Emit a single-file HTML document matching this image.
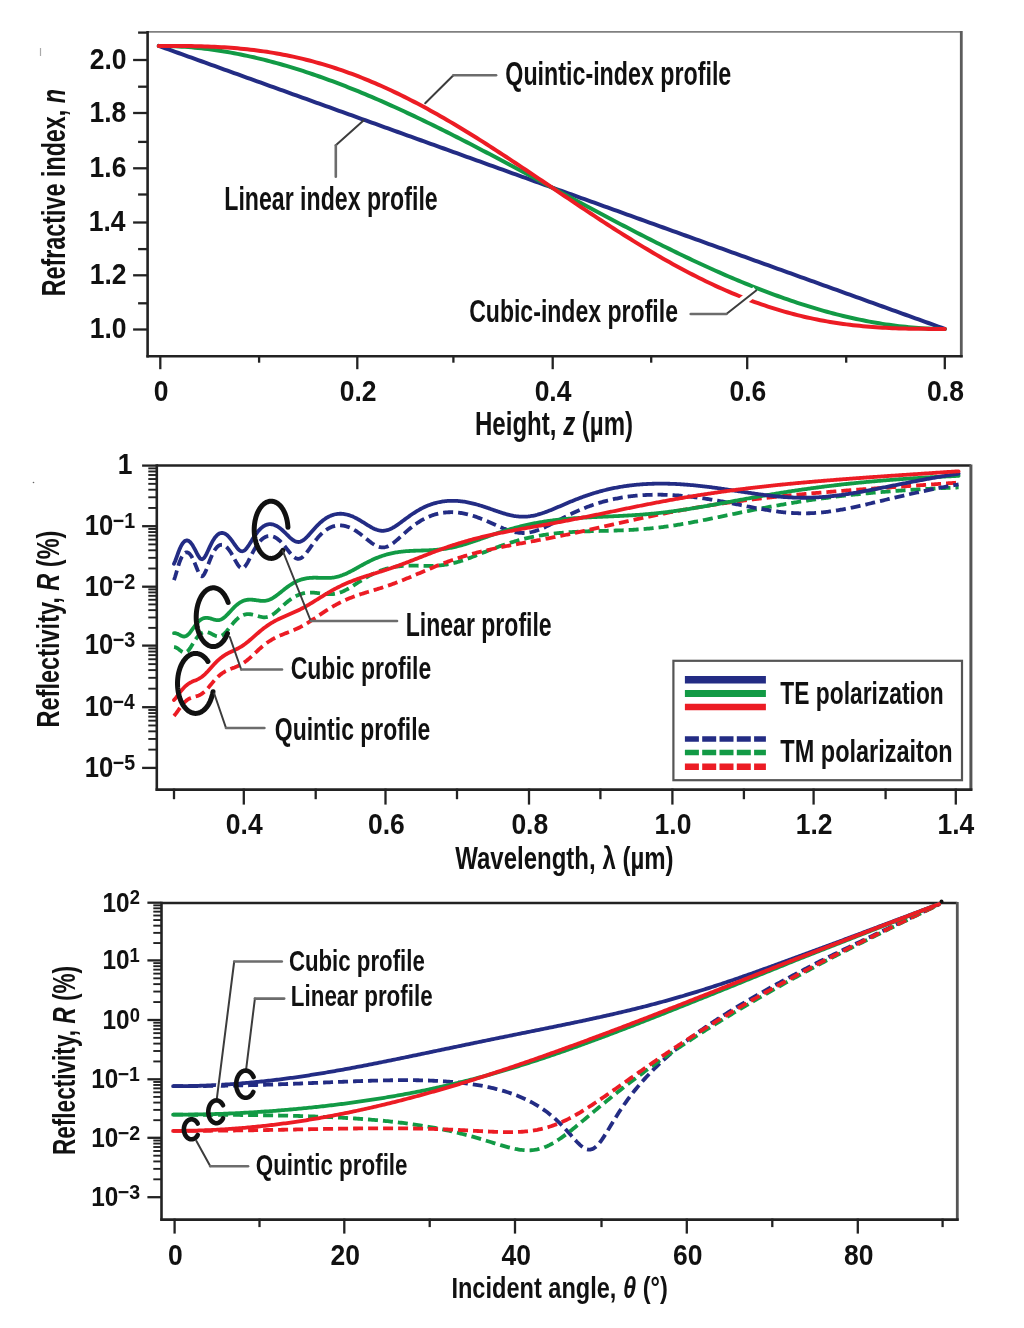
<!DOCTYPE html>
<html><head><meta charset="utf-8"><style>
html,body{margin:0;padding:0;background:#fff;width:1024px;height:1328px;overflow:hidden}
svg{display:block;filter:blur(0.5px)}
text{font-family:"Liberation Sans",sans-serif}
</style></head><body>
<svg width="1024" height="1328" viewBox="0 0 1024 1328">
<rect width="1024" height="1328" fill="#fff"/>
<line x1="147.60" y1="31.90" x2="961.30" y2="31.90" stroke="#808080" stroke-width="1.60" />
<line x1="961.30" y1="31.10" x2="961.30" y2="357.20" stroke="#5c5c5c" stroke-width="2.80" />
<line x1="147.60" y1="30.90" x2="147.60" y2="357.40" stroke="#222" stroke-width="2.60" />
<line x1="146.40" y1="356.20" x2="962.70" y2="356.20" stroke="#222" stroke-width="2.60" />
<line x1="138.10" y1="32.60" x2="147.60" y2="32.60" stroke="#222" stroke-width="2.30" />
<line x1="133.10" y1="60.00" x2="147.60" y2="60.00" stroke="#222" stroke-width="2.30" />
<line x1="138.10" y1="86.70" x2="147.60" y2="86.70" stroke="#222" stroke-width="2.30" />
<line x1="133.10" y1="113.00" x2="147.60" y2="113.00" stroke="#222" stroke-width="2.30" />
<line x1="138.10" y1="141.90" x2="147.60" y2="141.90" stroke="#222" stroke-width="2.30" />
<line x1="133.10" y1="168.30" x2="147.60" y2="168.30" stroke="#222" stroke-width="2.30" />
<line x1="138.10" y1="194.50" x2="147.60" y2="194.50" stroke="#222" stroke-width="2.30" />
<line x1="133.10" y1="222.50" x2="147.60" y2="222.50" stroke="#222" stroke-width="2.30" />
<line x1="138.10" y1="249.10" x2="147.60" y2="249.10" stroke="#222" stroke-width="2.30" />
<line x1="133.10" y1="275.30" x2="147.60" y2="275.30" stroke="#222" stroke-width="2.30" />
<line x1="138.10" y1="303.30" x2="147.60" y2="303.30" stroke="#222" stroke-width="2.30" />
<line x1="133.10" y1="329.50" x2="147.60" y2="329.50" stroke="#222" stroke-width="2.30" />
<text x="89.70" y="68.80" font-size="29.40" font-weight="bold" textLength="36.78" lengthAdjust="spacingAndGlyphs" fill="#111">2.0</text>
<text x="89.43" y="121.80" font-size="29.40" font-weight="bold" textLength="36.78" lengthAdjust="spacingAndGlyphs" fill="#111">1.8</text>
<text x="89.57" y="177.10" font-size="29.40" font-weight="bold" textLength="36.78" lengthAdjust="spacingAndGlyphs" fill="#111">1.6</text>
<text x="88.76" y="231.30" font-size="29.40" font-weight="bold" textLength="36.78" lengthAdjust="spacingAndGlyphs" fill="#111">1.4</text>
<text x="89.68" y="284.10" font-size="29.40" font-weight="bold" textLength="36.78" lengthAdjust="spacingAndGlyphs" fill="#111">1.2</text>
<text x="89.70" y="338.30" font-size="29.40" font-weight="bold" textLength="36.78" lengthAdjust="spacingAndGlyphs" fill="#111">1.0</text>
<line x1="160.30" y1="355.20" x2="160.30" y2="369.20" stroke="#222" stroke-width="2.30" />
<line x1="259.10" y1="355.20" x2="259.10" y2="362.70" stroke="#222" stroke-width="2.30" />
<line x1="357.30" y1="355.20" x2="357.30" y2="369.20" stroke="#222" stroke-width="2.30" />
<line x1="453.40" y1="355.20" x2="453.40" y2="362.70" stroke="#222" stroke-width="2.30" />
<line x1="552.70" y1="355.20" x2="552.70" y2="369.20" stroke="#222" stroke-width="2.30" />
<line x1="651.20" y1="355.20" x2="651.20" y2="362.70" stroke="#222" stroke-width="2.30" />
<line x1="747.20" y1="355.20" x2="747.20" y2="369.20" stroke="#222" stroke-width="2.30" />
<line x1="846.20" y1="355.20" x2="846.20" y2="362.70" stroke="#222" stroke-width="2.30" />
<line x1="944.80" y1="355.20" x2="944.80" y2="369.20" stroke="#222" stroke-width="2.30" />
<text x="153.76" y="400.70" font-size="29.40" font-weight="bold" textLength="14.72" lengthAdjust="spacingAndGlyphs" fill="#111">0</text>
<text x="339.71" y="400.70" font-size="29.40" font-weight="bold" textLength="36.78" lengthAdjust="spacingAndGlyphs" fill="#111">0.2</text>
<text x="534.66" y="400.70" font-size="29.40" font-weight="bold" textLength="36.78" lengthAdjust="spacingAndGlyphs" fill="#111">0.4</text>
<text x="729.56" y="400.70" font-size="29.40" font-weight="bold" textLength="36.78" lengthAdjust="spacingAndGlyphs" fill="#111">0.6</text>
<text x="927.09" y="400.70" font-size="29.40" font-weight="bold" textLength="36.78" lengthAdjust="spacingAndGlyphs" fill="#111">0.8</text>
<text x="474.99" y="434.50" font-size="32.70" font-weight="bold" textLength="158.11" lengthAdjust="spacingAndGlyphs" fill="#111">Height, <tspan font-style="italic">z</tspan> (µm)</text>
<text transform="translate(65.30,294.70) rotate(-90)" x="-1.56" y="0" font-size="33.20" font-weight="bold" textLength="207.24" lengthAdjust="spacingAndGlyphs" fill="#111">Refractive index, <tspan font-style="italic">n</tspan></text>
<path d="M158.80,45.93 L162.07,47.10 L165.35,48.28 L168.62,49.46 L171.90,50.64 L175.17,51.82 L178.45,53.00 L181.72,54.18 L185.00,55.36 L188.27,56.54 L191.55,57.72 L194.82,58.89 L198.10,60.07 L201.37,61.25 L204.65,62.43 L207.92,63.61 L211.20,64.79 L214.47,65.97 L217.75,67.15 L221.02,68.33 L224.30,69.51 L227.57,70.69 L230.85,71.86 L234.12,73.04 L237.40,74.22 L240.67,75.40 L243.95,76.58 L247.22,77.76 L250.50,78.94 L253.77,80.12 L257.05,81.30 L260.32,82.48 L263.60,83.66 L266.87,84.83 L270.15,86.01 L273.42,87.19 L276.70,88.37 L279.97,89.55 L283.25,90.73 L286.52,91.91 L289.80,93.09 L293.07,94.27 L296.35,95.45 L299.62,96.62 L302.90,97.80 L306.17,98.98 L309.45,100.16 L312.72,101.34 L316.00,102.52 L319.27,103.70 L322.55,104.88 L325.82,106.06 L329.10,107.24 L332.37,108.42 L335.65,109.59 L338.92,110.77 L342.20,111.95 L345.47,113.13 L348.75,114.31 L352.02,115.49 L355.30,116.67 L358.57,117.85 L361.84,119.03 L365.12,120.21 L368.39,121.39 L371.67,122.56 L374.94,123.74 L378.22,124.92 L381.49,126.10 L384.77,127.28 L388.04,128.46 L391.32,129.64 L394.59,130.82 L397.87,132.00 L401.14,133.18 L404.42,134.35 L407.69,135.53 L410.97,136.71 L414.24,137.89 L417.52,139.07 L420.79,140.25 L424.07,141.43 L427.34,142.61 L430.62,143.79 L433.89,144.97 L437.17,146.15 L440.44,147.32 L443.72,148.50 L446.99,149.68 L450.27,150.86 L453.54,152.04 L456.82,153.22 L460.09,154.40 L463.37,155.58 L466.64,156.76 L469.92,157.94 L473.19,159.12 L476.47,160.29 L479.74,161.47 L483.02,162.65 L486.29,163.83 L489.57,165.01 L492.84,166.19 L496.12,167.37 L499.39,168.55 L502.67,169.73 L505.94,170.91 L509.22,172.08 L512.49,173.26 L515.77,174.44 L519.04,175.62 L522.32,176.80 L525.59,177.98 L528.87,179.16 L532.14,180.34 L535.42,181.52 L538.69,182.70 L541.97,183.88 L545.24,185.05 L548.52,186.23 L551.79,187.41 L555.06,188.59 L558.34,189.77 L561.61,190.95 L564.89,192.13 L568.16,193.31 L571.44,194.49 L574.71,195.67 L577.99,196.85 L581.26,198.02 L584.54,199.20 L587.81,200.38 L591.09,201.56 L594.36,202.74 L597.64,203.92 L600.91,205.10 L604.19,206.28 L607.46,207.46 L610.74,208.64 L614.01,209.81 L617.29,210.99 L620.56,212.17 L623.84,213.35 L627.11,214.53 L630.39,215.71 L633.66,216.89 L636.94,218.07 L640.21,219.25 L643.49,220.43 L646.76,221.61 L650.04,222.78 L653.31,223.96 L656.59,225.14 L659.86,226.32 L663.14,227.50 L666.41,228.68 L669.69,229.86 L672.96,231.04 L676.24,232.22 L679.51,233.40 L682.79,234.57 L686.06,235.75 L689.34,236.93 L692.61,238.11 L695.89,239.29 L699.16,240.47 L702.44,241.65 L705.71,242.83 L708.99,244.01 L712.26,245.19 L715.54,246.37 L718.81,247.54 L722.09,248.72 L725.36,249.90 L728.64,251.08 L731.91,252.26 L735.19,253.44 L738.46,254.62 L741.74,255.80 L745.01,256.98 L748.29,258.16 L751.56,259.34 L754.83,260.51 L758.11,261.69 L761.38,262.87 L764.66,264.05 L767.93,265.23 L771.21,266.41 L774.48,267.59 L777.76,268.77 L781.03,269.95 L784.31,271.13 L787.58,272.30 L790.86,273.48 L794.13,274.66 L797.41,275.84 L800.68,277.02 L803.96,278.20 L807.23,279.38 L810.51,280.56 L813.78,281.74 L817.06,282.92 L820.33,284.10 L823.61,285.27 L826.88,286.45 L830.16,287.63 L833.43,288.81 L836.71,289.99 L839.98,291.17 L843.26,292.35 L846.53,293.53 L849.81,294.71 L853.08,295.89 L856.36,297.07 L859.63,298.24 L862.91,299.42 L866.18,300.60 L869.46,301.78 L872.73,302.96 L876.01,304.14 L879.28,305.32 L882.56,306.50 L885.83,307.68 L889.11,308.86 L892.38,310.04 L895.66,311.21 L898.93,312.39 L902.21,313.57 L905.48,314.75 L908.76,315.93 L912.03,317.11 L915.31,318.29 L918.58,319.47 L921.86,320.65 L925.13,321.83 L928.41,323.00 L931.68,324.18 L934.96,325.36 L938.23,326.54 L941.51,327.72 L944.78,328.90" fill="none" stroke="#232c84" stroke-width="4.00" stroke-linejoin="round" stroke-linecap="round"/>
<path d="M158.80,45.93 L162.07,45.94 L165.35,45.98 L168.62,46.06 L171.90,46.16 L175.17,46.29 L178.45,46.45 L181.72,46.63 L185.00,46.85 L188.27,47.09 L191.55,47.36 L194.82,47.65 L198.10,47.98 L201.37,48.33 L204.65,48.70 L207.92,49.10 L211.20,49.53 L214.47,49.98 L217.75,50.46 L221.02,50.96 L224.30,51.49 L227.57,52.05 L230.85,52.62 L234.12,53.22 L237.40,53.85 L240.67,54.50 L243.95,55.17 L247.22,55.86 L250.50,56.58 L253.77,57.32 L257.05,58.08 L260.32,58.87 L263.60,59.68 L266.87,60.50 L270.15,61.35 L273.42,62.22 L276.70,63.12 L279.97,64.03 L283.25,64.96 L286.52,65.91 L289.80,66.89 L293.07,67.88 L296.35,68.89 L299.62,69.92 L302.90,70.97 L306.17,72.04 L309.45,73.13 L312.72,74.23 L316.00,75.35 L319.27,76.50 L322.55,77.65 L325.82,78.83 L329.10,80.02 L332.37,81.23 L335.65,82.46 L338.92,83.70 L342.20,84.95 L345.47,86.23 L348.75,87.52 L352.02,88.82 L355.30,90.14 L358.57,91.47 L361.84,92.82 L365.12,94.18 L368.39,95.56 L371.67,96.95 L374.94,98.35 L378.22,99.77 L381.49,101.20 L384.77,102.64 L388.04,104.10 L391.32,105.57 L394.59,107.05 L397.87,108.54 L401.14,110.04 L404.42,111.56 L407.69,113.08 L410.97,114.62 L414.24,116.16 L417.52,117.72 L420.79,119.29 L424.07,120.87 L427.34,122.45 L430.62,124.05 L433.89,125.65 L437.17,127.27 L440.44,128.89 L443.72,130.52 L446.99,132.16 L450.27,133.81 L453.54,135.46 L456.82,137.12 L460.09,138.79 L463.37,140.47 L466.64,142.15 L469.92,143.84 L473.19,145.53 L476.47,147.23 L479.74,148.94 L483.02,150.65 L486.29,152.37 L489.57,154.09 L492.84,155.82 L496.12,157.55 L499.39,159.28 L502.67,161.02 L505.94,162.76 L509.22,164.51 L512.49,166.26 L515.77,168.01 L519.04,169.77 L522.32,171.53 L525.59,173.28 L528.87,175.05 L532.14,176.81 L535.42,178.57 L538.69,180.34 L541.97,182.11 L545.24,183.88 L548.52,185.64 L551.79,187.41 L555.06,189.18 L558.34,190.95 L561.61,192.72 L564.89,194.48 L568.16,196.25 L571.44,198.02 L574.71,199.78 L577.99,201.54 L581.26,203.30 L584.54,205.06 L587.81,206.81 L591.09,208.56 L594.36,210.31 L597.64,212.06 L600.91,213.80 L604.19,215.54 L607.46,217.28 L610.74,219.01 L614.01,220.73 L617.29,222.46 L620.56,224.17 L623.84,225.89 L627.11,227.59 L630.39,229.29 L633.66,230.99 L636.94,232.68 L640.21,234.36 L643.49,236.03 L646.76,237.70 L650.04,239.36 L653.31,241.02 L656.59,242.67 L659.86,244.30 L663.14,245.94 L666.41,247.56 L669.69,249.17 L672.96,250.78 L676.24,252.37 L679.51,253.96 L682.79,255.54 L686.06,257.10 L689.34,258.66 L692.61,260.21 L695.89,261.74 L699.16,263.27 L702.44,264.78 L705.71,266.29 L708.99,267.78 L712.26,269.26 L715.54,270.72 L718.81,272.18 L722.09,273.62 L725.36,275.05 L728.64,276.47 L731.91,277.87 L735.19,279.26 L738.46,280.64 L741.74,282.00 L745.01,283.35 L748.29,284.69 L751.56,286.00 L754.83,287.31 L758.11,288.60 L761.38,289.87 L764.66,291.13 L767.93,292.37 L771.21,293.60 L774.48,294.80 L777.76,296.00 L781.03,297.17 L784.31,298.33 L787.58,299.47 L790.86,300.59 L794.13,301.70 L797.41,302.79 L800.68,303.85 L803.96,304.90 L807.23,305.93 L810.51,306.95 L813.78,307.94 L817.06,308.91 L820.33,309.86 L823.61,310.80 L826.88,311.71 L830.16,312.60 L833.43,313.47 L836.71,314.32 L839.98,315.15 L843.26,315.96 L846.53,316.74 L849.81,317.50 L853.08,318.24 L856.36,318.96 L859.63,319.66 L862.91,320.33 L866.18,320.98 L869.46,321.60 L872.73,322.20 L876.01,322.78 L879.28,323.33 L882.56,323.86 L885.83,324.36 L889.11,324.84 L892.38,325.29 L895.66,325.72 L898.93,326.12 L902.21,326.50 L905.48,326.85 L908.76,327.17 L912.03,327.47 L915.31,327.74 L918.58,327.98 L921.86,328.19 L925.13,328.38 L928.41,328.54 L931.68,328.67 L934.96,328.77 L938.23,328.84 L941.51,328.89 L944.78,328.90" fill="none" stroke="#129a45" stroke-width="4.00" stroke-linejoin="round" stroke-linecap="round"/>
<path d="M158.80,45.93 L162.07,45.93 L165.35,45.93 L168.62,45.93 L171.90,45.94 L175.17,45.95 L178.45,45.97 L181.72,45.99 L185.00,46.02 L188.27,46.07 L191.55,46.12 L194.82,46.18 L198.10,46.25 L201.37,46.34 L204.65,46.44 L207.92,46.55 L211.20,46.68 L214.47,46.83 L217.75,46.99 L221.02,47.17 L224.30,47.36 L227.57,47.58 L230.85,47.82 L234.12,48.07 L237.40,48.35 L240.67,48.64 L243.95,48.96 L247.22,49.30 L250.50,49.67 L253.77,50.06 L257.05,50.47 L260.32,50.90 L263.60,51.36 L266.87,51.85 L270.15,52.36 L273.42,52.89 L276.70,53.46 L279.97,54.04 L283.25,54.66 L286.52,55.30 L289.80,55.97 L293.07,56.66 L296.35,57.39 L299.62,58.14 L302.90,58.92 L306.17,59.73 L309.45,60.56 L312.72,61.42 L316.00,62.31 L319.27,63.23 L322.55,64.18 L325.82,65.16 L329.10,66.16 L332.37,67.20 L335.65,68.26 L338.92,69.35 L342.20,70.47 L345.47,71.61 L348.75,72.79 L352.02,73.99 L355.30,75.22 L358.57,76.47 L361.84,77.76 L365.12,79.07 L368.39,80.41 L371.67,81.78 L374.94,83.17 L378.22,84.59 L381.49,86.03 L384.77,87.51 L388.04,89.00 L391.32,90.53 L394.59,92.07 L397.87,93.64 L401.14,95.24 L404.42,96.86 L407.69,98.51 L410.97,100.17 L414.24,101.87 L417.52,103.58 L420.79,105.31 L424.07,107.07 L427.34,108.85 L430.62,110.65 L433.89,112.47 L437.17,114.31 L440.44,116.17 L443.72,118.05 L446.99,119.95 L450.27,121.87 L453.54,123.80 L456.82,125.75 L460.09,127.72 L463.37,129.71 L466.64,131.71 L469.92,133.72 L473.19,135.75 L476.47,137.80 L479.74,139.85 L483.02,141.93 L486.29,144.01 L489.57,146.11 L492.84,148.21 L496.12,150.33 L499.39,152.46 L502.67,154.60 L505.94,156.74 L509.22,158.90 L512.49,161.06 L515.77,163.23 L519.04,165.41 L522.32,167.59 L525.59,169.78 L528.87,171.97 L532.14,174.17 L535.42,176.37 L538.69,178.58 L541.97,180.78 L545.24,182.99 L548.52,185.20 L551.79,187.41 L555.06,189.62 L558.34,191.83 L561.61,194.04 L564.89,196.25 L568.16,198.45 L571.44,200.65 L574.71,202.85 L577.99,205.05 L581.26,207.23 L584.54,209.42 L587.81,211.59 L591.09,213.77 L594.36,215.93 L597.64,218.08 L600.91,220.23 L604.19,222.37 L607.46,224.50 L610.74,226.61 L614.01,228.72 L617.29,230.82 L620.56,232.90 L623.84,234.97 L627.11,237.03 L630.39,239.07 L633.66,241.10 L636.94,243.12 L640.21,245.12 L643.49,247.10 L646.76,249.07 L650.04,251.02 L653.31,252.96 L656.59,254.87 L659.86,256.77 L663.14,258.65 L666.41,260.51 L669.69,262.35 L672.96,264.17 L676.24,265.97 L679.51,267.75 L682.79,269.51 L686.06,271.25 L689.34,272.96 L692.61,274.65 L695.89,276.32 L699.16,277.96 L702.44,279.58 L705.71,281.18 L708.99,282.75 L712.26,284.30 L715.54,285.82 L718.81,287.32 L722.09,288.79 L725.36,290.24 L728.64,291.66 L731.91,293.05 L735.19,294.41 L738.46,295.75 L741.74,297.07 L745.01,298.35 L748.29,299.61 L751.56,300.84 L754.83,302.04 L758.11,303.21 L761.38,304.36 L764.66,305.48 L767.93,306.57 L771.21,307.63 L774.48,308.66 L777.76,309.67 L781.03,310.64 L784.31,311.59 L787.58,312.51 L790.86,313.40 L794.13,314.26 L797.41,315.10 L800.68,315.91 L803.96,316.69 L807.23,317.44 L810.51,318.16 L813.78,318.86 L817.06,319.52 L820.33,320.17 L823.61,320.78 L826.88,321.37 L830.16,321.93 L833.43,322.47 L836.71,322.98 L839.98,323.46 L843.26,323.92 L846.53,324.36 L849.81,324.77 L853.08,325.16 L856.36,325.52 L859.63,325.86 L862.91,326.18 L866.18,326.48 L869.46,326.75 L872.73,327.01 L876.01,327.24 L879.28,327.46 L882.56,327.66 L885.83,327.84 L889.11,328.00 L892.38,328.14 L895.66,328.27 L898.93,328.39 L902.21,328.49 L905.48,328.57 L908.76,328.65 L912.03,328.71 L915.31,328.76 L918.58,328.80 L921.86,328.83 L925.13,328.86 L928.41,328.88 L931.68,328.89 L934.96,328.89 L938.23,328.90 L941.51,328.90 L944.78,328.90" fill="none" stroke="#ec1c24" stroke-width="4.00" stroke-linejoin="round" stroke-linecap="round"/>
<line x1="363.50" y1="120.50" x2="335.80" y2="145.20" stroke="#3c3c3c" stroke-width="2.00" stroke-linecap="round"/>
<line x1="335.80" y1="145.20" x2="335.80" y2="176.80" stroke="#6c6c6c" stroke-width="2.60" stroke-linecap="round"/>
<line x1="425.20" y1="103.30" x2="453.40" y2="75.20" stroke="#3c3c3c" stroke-width="2.00" stroke-linecap="round"/>
<line x1="453.40" y1="75.20" x2="496.10" y2="75.20" stroke="#6c6c6c" stroke-width="2.60" stroke-linecap="round"/>
<path d="M756.20,290.50 L726.40,314.00 L690.70,314.00" fill="none" stroke="#fff" stroke-width="9.00" stroke-linejoin="round" />
<line x1="756.20" y1="290.50" x2="726.40" y2="314.00" stroke="#3c3c3c" stroke-width="2.00" stroke-linecap="round"/>
<line x1="726.40" y1="314.00" x2="690.70" y2="314.00" stroke="#6c6c6c" stroke-width="2.60" stroke-linecap="round"/>
<text x="224.25" y="210.10" font-size="32.80" font-weight="bold" textLength="213.44" lengthAdjust="spacingAndGlyphs" fill="#111">Linear index profile</text>
<text x="505.35" y="85.00" font-size="32.80" font-weight="bold" textLength="225.95" lengthAdjust="spacingAndGlyphs" fill="#111">Quintic-index profile</text>
<text x="469.15" y="322.00" font-size="32.00" font-weight="bold" textLength="208.83" lengthAdjust="spacingAndGlyphs" fill="#111">Cubic-index profile</text>
<line x1="40.50" y1="48.00" x2="40.50" y2="56.00" stroke="#aaa" stroke-width="1.20" />
<circle cx="33.5" cy="482.5" r="0.8" fill="#666"/>
<line x1="156.80" y1="465.50" x2="970.90" y2="465.50" stroke="#222" stroke-width="2.50" />
<line x1="970.90" y1="464.50" x2="970.90" y2="790.60" stroke="#555" stroke-width="3.00" />
<line x1="156.80" y1="464.30" x2="156.80" y2="790.80" stroke="#222" stroke-width="2.60" />
<line x1="155.60" y1="789.60" x2="972.40" y2="789.60" stroke="#222" stroke-width="2.60" />
<line x1="142.10" y1="465.60" x2="156.80" y2="465.60" stroke="#222" stroke-width="2.30" />
<line x1="148.30" y1="507.96" x2="156.80" y2="507.96" stroke="#222" stroke-width="1.90" />
<line x1="148.30" y1="497.29" x2="156.80" y2="497.29" stroke="#222" stroke-width="1.90" />
<line x1="148.30" y1="489.72" x2="156.80" y2="489.72" stroke="#222" stroke-width="1.90" />
<line x1="148.30" y1="483.84" x2="156.80" y2="483.84" stroke="#222" stroke-width="1.90" />
<line x1="148.30" y1="479.04" x2="156.80" y2="479.04" stroke="#222" stroke-width="1.90" />
<line x1="148.30" y1="474.99" x2="156.80" y2="474.99" stroke="#222" stroke-width="1.90" />
<line x1="148.30" y1="471.47" x2="156.80" y2="471.47" stroke="#222" stroke-width="1.90" />
<line x1="148.30" y1="468.37" x2="156.80" y2="468.37" stroke="#222" stroke-width="1.90" />
<line x1="142.10" y1="526.20" x2="156.80" y2="526.20" stroke="#222" stroke-width="2.30" />
<line x1="148.30" y1="568.49" x2="156.80" y2="568.49" stroke="#222" stroke-width="1.90" />
<line x1="148.30" y1="557.83" x2="156.80" y2="557.83" stroke="#222" stroke-width="1.90" />
<line x1="148.30" y1="550.28" x2="156.80" y2="550.28" stroke="#222" stroke-width="1.90" />
<line x1="148.30" y1="544.41" x2="156.80" y2="544.41" stroke="#222" stroke-width="1.90" />
<line x1="148.30" y1="539.62" x2="156.80" y2="539.62" stroke="#222" stroke-width="1.90" />
<line x1="148.30" y1="535.57" x2="156.80" y2="535.57" stroke="#222" stroke-width="1.90" />
<line x1="148.30" y1="532.06" x2="156.80" y2="532.06" stroke="#222" stroke-width="1.90" />
<line x1="148.30" y1="528.97" x2="156.80" y2="528.97" stroke="#222" stroke-width="1.90" />
<line x1="142.10" y1="586.70" x2="156.80" y2="586.70" stroke="#222" stroke-width="2.30" />
<line x1="148.30" y1="627.87" x2="156.80" y2="627.87" stroke="#222" stroke-width="1.90" />
<line x1="148.30" y1="617.50" x2="156.80" y2="617.50" stroke="#222" stroke-width="1.90" />
<line x1="148.30" y1="610.14" x2="156.80" y2="610.14" stroke="#222" stroke-width="1.90" />
<line x1="148.30" y1="604.43" x2="156.80" y2="604.43" stroke="#222" stroke-width="1.90" />
<line x1="148.30" y1="599.77" x2="156.80" y2="599.77" stroke="#222" stroke-width="1.90" />
<line x1="148.30" y1="595.82" x2="156.80" y2="595.82" stroke="#222" stroke-width="1.90" />
<line x1="148.30" y1="592.41" x2="156.80" y2="592.41" stroke="#222" stroke-width="1.90" />
<line x1="148.30" y1="589.40" x2="156.80" y2="589.40" stroke="#222" stroke-width="1.90" />
<line x1="142.10" y1="645.60" x2="156.80" y2="645.60" stroke="#222" stroke-width="2.30" />
<line x1="148.30" y1="688.66" x2="156.80" y2="688.66" stroke="#222" stroke-width="1.90" />
<line x1="148.30" y1="677.81" x2="156.80" y2="677.81" stroke="#222" stroke-width="1.90" />
<line x1="148.30" y1="670.11" x2="156.80" y2="670.11" stroke="#222" stroke-width="1.90" />
<line x1="148.30" y1="664.14" x2="156.80" y2="664.14" stroke="#222" stroke-width="1.90" />
<line x1="148.30" y1="659.27" x2="156.80" y2="659.27" stroke="#222" stroke-width="1.90" />
<line x1="148.30" y1="655.14" x2="156.80" y2="655.14" stroke="#222" stroke-width="1.90" />
<line x1="148.30" y1="651.57" x2="156.80" y2="651.57" stroke="#222" stroke-width="1.90" />
<line x1="148.30" y1="648.42" x2="156.80" y2="648.42" stroke="#222" stroke-width="1.90" />
<line x1="142.10" y1="707.20" x2="156.80" y2="707.20" stroke="#222" stroke-width="2.30" />
<line x1="148.30" y1="749.63" x2="156.80" y2="749.63" stroke="#222" stroke-width="1.90" />
<line x1="148.30" y1="738.94" x2="156.80" y2="738.94" stroke="#222" stroke-width="1.90" />
<line x1="148.30" y1="731.35" x2="156.80" y2="731.35" stroke="#222" stroke-width="1.90" />
<line x1="148.30" y1="725.47" x2="156.80" y2="725.47" stroke="#222" stroke-width="1.90" />
<line x1="148.30" y1="720.67" x2="156.80" y2="720.67" stroke="#222" stroke-width="1.90" />
<line x1="148.30" y1="716.60" x2="156.80" y2="716.60" stroke="#222" stroke-width="1.90" />
<line x1="148.30" y1="713.08" x2="156.80" y2="713.08" stroke="#222" stroke-width="1.90" />
<line x1="148.30" y1="709.98" x2="156.80" y2="709.98" stroke="#222" stroke-width="1.90" />
<line x1="142.10" y1="767.90" x2="156.80" y2="767.90" stroke="#222" stroke-width="2.30" />
<text x="117.82" y="474.20" font-size="29.40" font-weight="bold" textLength="14.72" lengthAdjust="spacingAndGlyphs" fill="#111">1</text>
<text x="84.69" y="535.00" font-size="28.60" font-weight="bold" textLength="28.46" lengthAdjust="spacingAndGlyphs" fill="#111">10</text>
<text x="112.69" y="528.00" font-size="21.40" font-weight="bold" textLength="22.36" lengthAdjust="spacingAndGlyphs" fill="#111">−1</text>
<text x="84.69" y="595.50" font-size="28.60" font-weight="bold" textLength="28.46" lengthAdjust="spacingAndGlyphs" fill="#111">10</text>
<text x="112.68" y="588.50" font-size="21.40" font-weight="bold" textLength="22.62" lengthAdjust="spacingAndGlyphs" fill="#111">−2</text>
<text x="84.69" y="654.40" font-size="28.60" font-weight="bold" textLength="28.46" lengthAdjust="spacingAndGlyphs" fill="#111">10</text>
<text x="112.68" y="647.40" font-size="21.40" font-weight="bold" textLength="22.53" lengthAdjust="spacingAndGlyphs" fill="#111">−3</text>
<text x="84.69" y="716.00" font-size="28.60" font-weight="bold" textLength="28.46" lengthAdjust="spacingAndGlyphs" fill="#111">10</text>
<text x="112.70" y="709.00" font-size="21.40" font-weight="bold" textLength="21.90" lengthAdjust="spacingAndGlyphs" fill="#111">−4</text>
<text x="84.69" y="776.70" font-size="28.60" font-weight="bold" textLength="28.46" lengthAdjust="spacingAndGlyphs" fill="#111">10</text>
<text x="112.69" y="769.70" font-size="21.40" font-weight="bold" textLength="22.36" lengthAdjust="spacingAndGlyphs" fill="#111">−5</text>
<line x1="174.00" y1="788.60" x2="174.00" y2="799.20" stroke="#222" stroke-width="2.30" />
<line x1="243.80" y1="788.60" x2="243.80" y2="804.60" stroke="#222" stroke-width="2.30" />
<line x1="315.70" y1="788.60" x2="315.70" y2="799.20" stroke="#222" stroke-width="2.30" />
<line x1="385.50" y1="788.60" x2="385.50" y2="804.60" stroke="#222" stroke-width="2.30" />
<line x1="457.00" y1="788.60" x2="457.00" y2="799.20" stroke="#222" stroke-width="2.30" />
<line x1="529.00" y1="788.60" x2="529.00" y2="804.60" stroke="#222" stroke-width="2.30" />
<line x1="600.40" y1="788.60" x2="600.40" y2="799.20" stroke="#222" stroke-width="2.30" />
<line x1="672.40" y1="788.60" x2="672.40" y2="804.60" stroke="#222" stroke-width="2.30" />
<line x1="743.90" y1="788.60" x2="743.90" y2="799.20" stroke="#222" stroke-width="2.30" />
<line x1="813.60" y1="788.60" x2="813.60" y2="804.60" stroke="#222" stroke-width="2.30" />
<line x1="885.60" y1="788.60" x2="885.60" y2="799.20" stroke="#222" stroke-width="2.30" />
<line x1="955.80" y1="788.60" x2="955.80" y2="804.60" stroke="#222" stroke-width="2.30" />
<text x="225.86" y="834.40" font-size="29.40" font-weight="bold" textLength="36.78" lengthAdjust="spacingAndGlyphs" fill="#111">0.4</text>
<text x="367.96" y="834.40" font-size="29.40" font-weight="bold" textLength="36.78" lengthAdjust="spacingAndGlyphs" fill="#111">0.6</text>
<text x="511.39" y="834.40" font-size="29.40" font-weight="bold" textLength="36.78" lengthAdjust="spacingAndGlyphs" fill="#111">0.8</text>
<text x="654.62" y="834.40" font-size="29.40" font-weight="bold" textLength="36.78" lengthAdjust="spacingAndGlyphs" fill="#111">1.0</text>
<text x="795.80" y="834.40" font-size="29.40" font-weight="bold" textLength="36.78" lengthAdjust="spacingAndGlyphs" fill="#111">1.2</text>
<text x="937.55" y="834.40" font-size="29.40" font-weight="bold" textLength="36.78" lengthAdjust="spacingAndGlyphs" fill="#111">1.4</text>
<text x="455.18" y="868.80" font-size="31.00" font-weight="bold" textLength="218.41" lengthAdjust="spacingAndGlyphs" fill="#111">Wavelength, λ (µm)</text>
<text transform="translate(58.80,725.90) rotate(-90)" x="-1.56" y="0" font-size="31.50" font-weight="bold" textLength="196.92" lengthAdjust="spacingAndGlyphs" fill="#111">Reflectivity, <tspan font-style="italic">R</tspan> (%)</text>
<path d="M174.00,647.11 L175.12,647.23 L176.24,647.63 L177.36,648.25 L178.48,649.04 L179.60,649.92 L180.73,650.82 L181.85,651.63 L182.97,652.25 L184.09,652.60 L185.21,652.59 L186.33,652.19 L187.45,651.39 L188.57,650.23 L189.69,648.78 L190.81,647.10 L191.93,645.30 L193.05,643.46 L194.18,641.64 L195.30,639.90 L196.42,638.28 L197.54,636.82 L198.66,635.54 L199.78,634.45 L200.90,633.56 L202.02,632.87 L203.14,632.38 L204.26,632.09 L205.38,631.97 L206.51,632.02 L207.63,632.23 L208.75,632.57 L209.87,633.02 L210.99,633.54 L212.11,634.12 L213.23,634.71 L214.35,635.27 L215.47,635.77 L216.59,636.15 L217.71,636.39 L218.84,636.44 L219.96,636.29 L221.08,635.92 L222.20,635.33 L223.32,634.54 L224.44,633.56 L225.56,632.42 L226.68,631.16 L227.80,629.81 L228.92,628.41 L230.04,626.99 L231.16,625.58 L232.29,624.20 L233.41,622.87 L234.53,621.61 L235.65,620.44 L236.77,619.35 L237.89,618.36 L239.01,617.48 L240.13,616.70 L241.25,616.03 L242.37,615.46 L243.49,615.00 L244.62,614.65 L245.74,614.39 L246.86,614.22 L247.98,614.15 L249.10,614.15 L250.22,614.24 L251.34,614.39 L252.46,614.60 L253.58,614.86 L254.70,615.15 L255.82,615.48 L256.94,615.81 L258.07,616.14 L259.19,616.46 L260.31,616.74 L261.43,616.98 L262.55,617.16 L263.67,617.27 L264.79,617.29 L265.91,617.21 L267.03,617.03 L268.15,616.75 L269.27,616.36 L270.40,615.87 L271.52,615.27 L272.64,614.58 L273.76,613.80 L274.88,612.95 L276.00,612.04 L277.12,611.08 L278.24,610.08 L279.36,609.05 L280.48,608.01 L281.60,606.97 L282.72,605.93 L283.85,604.90 L284.97,603.89 L286.09,602.91 L287.21,601.96 L288.33,601.05 L289.45,600.18 L290.57,599.35 L291.69,598.57 L292.81,597.83 L293.93,597.15 L295.05,596.51 L296.18,595.92 L297.30,595.39 L298.42,594.90 L299.54,594.47 L300.66,594.08 L301.78,593.74 L302.90,593.45 L304.02,593.20 L305.14,593.00 L306.26,592.84 L307.38,592.72 L308.51,592.63 L309.63,592.59 L310.75,592.57 L311.87,592.59 L312.99,592.63 L314.11,592.70 L315.23,592.79 L316.35,592.90 L317.47,593.02 L318.59,593.16 L319.71,593.29 L320.83,593.44 L321.96,593.58 L323.08,593.71 L324.20,593.84 L325.32,593.95 L326.44,594.05 L327.56,594.12 L328.68,594.16 L329.80,594.18 L330.92,594.16 L332.04,594.10 L333.16,594.01 L334.29,593.87 L335.41,593.69 L336.53,593.47 L337.65,593.21 L338.77,592.89 L339.89,592.54 L341.01,592.14 L342.13,591.70 L343.25,591.23 L344.37,590.71 L345.49,590.16 L346.61,589.58 L347.74,588.97 L348.86,588.34 L349.98,587.68 L351.10,587.01 L352.22,586.32 L353.34,585.61 L354.46,584.90 L355.58,584.18 L356.70,583.46 L357.82,582.74 L358.94,582.02 L360.07,581.31 L361.19,580.60 L362.31,579.90 L363.43,579.21 L364.55,578.53 L365.67,577.86 L366.79,577.21 L367.91,576.57 L369.03,575.95 L370.15,575.34 L371.27,574.76 L372.39,574.19 L373.52,573.64 L374.64,573.11 L375.76,572.59 L376.88,572.10 L378.00,571.63 L379.12,571.18 L380.24,570.75 L381.36,570.33 L382.48,569.94 L383.60,569.57 L384.72,569.22 L385.85,568.88 L386.97,568.57 L388.09,568.27 L389.21,568.00 L390.33,567.74 L391.45,567.50 L392.57,567.28 L393.69,567.07 L394.81,566.88 L395.93,566.71 L397.05,566.55 L398.18,566.41 L399.30,566.28 L400.42,566.17 L401.54,566.07 L402.66,565.98 L403.78,565.91 L404.90,565.84 L406.02,565.79 L407.14,565.75 L408.26,565.72 L409.38,565.70 L410.50,565.68 L411.63,565.67 L412.75,565.67 L413.87,565.68 L414.99,565.69 L416.11,565.70 L417.23,565.72 L418.35,565.74 L419.47,565.76 L420.59,565.78 L421.71,565.80 L422.83,565.82 L423.96,565.84 L425.08,565.86 L426.20,565.87 L427.32,565.88 L428.44,565.88 L429.56,565.87 L430.68,565.86 L431.80,565.84 L432.92,565.81 L434.04,565.77 L435.16,565.72 L436.28,565.67 L437.41,565.59 L438.53,565.51 L439.65,565.42 L440.77,565.31 L441.89,565.19 L443.01,565.05 L444.13,564.90 L445.25,564.74 L446.37,564.56 L447.49,564.37 L448.61,564.17 L449.74,563.94 L450.86,563.71 L451.98,563.46 L453.10,563.20 L454.22,562.92 L455.34,562.63 L456.46,562.33 L457.58,562.01 L458.70,561.69 L459.82,561.35 L460.94,561.00 L462.06,560.64 L463.19,560.27 L464.31,559.89 L465.43,559.50 L466.55,559.10 L467.67,558.70 L468.79,558.29 L469.91,557.87 L471.03,557.44 L472.15,557.02 L473.27,556.58 L474.39,556.15 L475.52,555.71 L476.64,555.26 L477.76,554.82 L478.88,554.37 L480.00,553.92 L481.12,553.47 L482.24,553.03 L483.36,552.58 L484.48,552.13 L485.60,551.68 L486.72,551.24 L487.85,550.79 L488.97,550.35 L490.09,549.92 L491.21,549.48 L492.33,549.05 L493.45,548.62 L494.57,548.19 L495.69,547.77 L496.81,547.36 L497.93,546.94 L499.05,546.54 L500.17,546.13 L501.30,545.74 L502.42,545.34 L503.54,544.96 L504.66,544.58 L505.78,544.20 L506.90,543.83 L508.02,543.46 L509.14,543.10 L510.26,542.75 L511.38,542.40 L512.50,542.06 L513.63,541.73 L514.75,541.40 L515.87,541.08 L516.99,540.76 L518.11,540.45 L519.23,540.14 L520.35,539.84 L521.47,539.55 L522.59,539.27 L523.71,538.99 L524.83,538.71 L525.95,538.44 L527.08,538.18 L528.20,537.93 L529.32,537.68 L530.44,537.43 L531.56,537.20 L532.68,536.96 L533.80,536.74 L534.92,536.52 L536.04,536.30 L537.16,536.09 L538.28,535.89 L539.41,535.69 L540.53,535.50 L541.65,535.31 L542.77,535.13 L543.89,534.96 L545.01,534.79 L546.13,534.62 L547.25,534.46 L548.37,534.30 L549.49,534.15 L550.61,534.01 L551.74,533.86 L552.86,533.73 L553.98,533.60 L555.10,533.47 L556.22,533.34 L557.34,533.23 L558.46,533.11 L559.58,533.00 L560.70,532.89 L561.82,532.79 L562.94,532.69 L564.06,532.60 L565.19,532.51 L566.31,532.42 L567.43,532.34 L568.55,532.25 L569.67,532.18 L570.79,532.10 L571.91,532.03 L573.03,531.96 L574.15,531.90 L575.27,531.84 L576.39,531.78 L577.52,531.72 L578.64,531.66 L579.76,531.61 L580.88,531.56 L582.00,531.51 L583.12,531.47 L584.24,531.42 L585.36,531.38 L586.48,531.34 L587.60,531.30 L588.72,531.26 L589.84,531.23 L590.97,531.19 L592.09,531.16 L593.21,531.13 L594.33,531.10 L595.45,531.06 L596.57,531.03 L597.69,531.00 L598.81,530.98 L599.93,530.95 L601.05,530.92 L602.17,530.89 L603.30,530.86 L604.42,530.83 L605.54,530.80 L606.66,530.78 L607.78,530.75 L608.90,530.72 L610.02,530.69 L611.14,530.66 L612.26,530.62 L613.38,530.59 L614.50,530.56 L615.62,530.52 L616.75,530.49 L617.87,530.45 L618.99,530.41 L620.11,530.37 L621.23,530.33 L622.35,530.28 L623.47,530.24 L624.59,530.19 L625.71,530.14 L626.83,530.09 L627.95,530.03 L629.08,529.98 L630.20,529.92 L631.32,529.86 L632.44,529.80 L633.56,529.73 L634.68,529.66 L635.80,529.59 L636.92,529.52 L638.04,529.44 L639.16,529.36 L640.28,529.28 L641.41,529.20 L642.53,529.11 L643.65,529.02 L644.77,528.93 L645.89,528.83 L647.01,528.73 L648.13,528.63 L649.25,528.52 L650.37,528.42 L651.49,528.30 L652.61,528.19 L653.73,528.07 L654.86,527.95 L655.98,527.83 L657.10,527.70 L658.22,527.57 L659.34,527.44 L660.46,527.30 L661.58,527.16 L662.70,527.02 L663.82,526.87 L664.94,526.73 L666.06,526.57 L667.19,526.42 L668.31,526.26 L669.43,526.10 L670.55,525.94 L671.67,525.77 L672.79,525.61 L673.91,525.43 L675.03,525.26 L676.15,525.08 L677.27,524.91 L678.39,524.72 L679.51,524.54 L680.64,524.35 L681.76,524.17 L682.88,523.97 L684.00,523.78 L685.12,523.59 L686.24,523.39 L687.36,523.19 L688.48,522.99 L689.60,522.78 L690.72,522.58 L691.84,522.37 L692.97,522.16 L694.09,521.95 L695.21,521.74 L696.33,521.53 L697.45,521.31 L698.57,521.10 L699.69,520.88 L700.81,520.66 L701.93,520.44 L703.05,520.22 L704.17,519.99 L705.29,519.77 L706.42,519.55 L707.54,519.32 L708.66,519.09 L709.78,518.87 L710.90,518.64 L712.02,518.41 L713.14,518.18 L714.26,517.95 L715.38,517.72 L716.50,517.49 L717.62,517.26 L718.75,517.03 L719.87,516.80 L720.99,516.56 L722.11,516.33 L723.23,516.10 L724.35,515.87 L725.47,515.63 L726.59,515.40 L727.71,515.17 L728.83,514.94 L729.95,514.70 L731.08,514.47 L732.20,514.24 L733.32,514.01 L734.44,513.78 L735.56,513.55 L736.68,513.32 L737.80,513.09 L738.92,512.86 L740.04,512.63 L741.16,512.40 L742.28,512.17 L743.40,511.94 L744.53,511.71 L745.65,511.49 L746.77,511.26 L747.89,511.04 L749.01,510.81 L750.13,510.59 L751.25,510.37 L752.37,510.14 L753.49,509.92 L754.61,509.70 L755.73,509.48 L756.86,509.26 L757.98,509.05 L759.10,508.83 L760.22,508.61 L761.34,508.40 L762.46,508.18 L763.58,507.97 L764.70,507.76 L765.82,507.55 L766.94,507.34 L768.06,507.13 L769.18,506.92 L770.31,506.71 L771.43,506.51 L772.55,506.30 L773.67,506.10 L774.79,505.90 L775.91,505.70 L777.03,505.50 L778.15,505.30 L779.27,505.10 L780.39,504.90 L781.51,504.71 L782.64,504.51 L783.76,504.32 L784.88,504.13 L786.00,503.94 L787.12,503.75 L788.24,503.56 L789.36,503.37 L790.48,503.18 L791.60,503.00 L792.72,502.82 L793.84,502.63 L794.96,502.45 L796.09,502.27 L797.21,502.09 L798.33,501.92 L799.45,501.74 L800.57,501.57 L801.69,501.39 L802.81,501.22 L803.93,501.05 L805.05,500.88 L806.17,500.71 L807.29,500.54 L808.42,500.38 L809.54,500.21 L810.66,500.05 L811.78,499.88 L812.90,499.72 L814.02,499.56 L815.14,499.40 L816.26,499.25 L817.38,499.09 L818.50,498.93 L819.62,498.78 L820.75,498.63 L821.87,498.48 L822.99,498.33 L824.11,498.18 L825.23,498.03 L826.35,497.88 L827.47,497.74 L828.59,497.59 L829.71,497.45 L830.83,497.31 L831.95,497.17 L833.07,497.03 L834.20,496.89 L835.32,496.75 L836.44,496.61 L837.56,496.48 L838.68,496.34 L839.80,496.21 L840.92,496.08 L842.04,495.95 L843.16,495.82 L844.28,495.69 L845.40,495.56 L846.53,495.44 L847.65,495.31 L848.77,495.19 L849.89,495.07 L851.01,494.95 L852.13,494.83 L853.25,494.71 L854.37,494.59 L855.49,494.47 L856.61,494.35 L857.73,494.24 L858.85,494.12 L859.98,494.01 L861.10,493.90 L862.22,493.79 L863.34,493.68 L864.46,493.57 L865.58,493.46 L866.70,493.35 L867.82,493.25 L868.94,493.14 L870.06,493.04 L871.18,492.94 L872.31,492.83 L873.43,492.73 L874.55,492.63 L875.67,492.53 L876.79,492.44 L877.91,492.34 L879.03,492.24 L880.15,492.15 L881.27,492.05 L882.39,491.96 L883.51,491.87 L884.64,491.78 L885.76,491.68 L886.88,491.59 L888.00,491.51 L889.12,491.42 L890.24,491.33 L891.36,491.24 L892.48,491.16 L893.60,491.07 L894.72,490.99 L895.84,490.91 L896.96,490.83 L898.09,490.74 L899.21,490.66 L900.33,490.58 L901.45,490.50 L902.57,490.43 L903.69,490.35 L904.81,490.27 L905.93,490.20 L907.05,490.12 L908.17,490.05 L909.29,489.98 L910.42,489.90 L911.54,489.83 L912.66,489.76 L913.78,489.69 L914.90,489.62 L916.02,489.55 L917.14,489.48 L918.26,489.42 L919.38,489.35 L920.50,489.28 L921.62,489.22 L922.74,489.15 L923.87,489.09 L924.99,489.03 L926.11,488.96 L927.23,488.90 L928.35,488.84 L929.47,488.78 L930.59,488.72 L931.71,488.66 L932.83,488.60 L933.95,488.55 L935.07,488.49 L936.20,488.43 L937.32,488.38 L938.44,488.32 L939.56,488.26 L940.68,488.21 L941.80,488.16 L942.92,488.10 L944.04,488.05 L945.16,488.00 L946.28,487.95 L947.40,487.90 L948.52,487.85 L949.65,487.80 L950.77,487.75 L951.89,487.70 L953.01,487.65 L954.13,487.60 L955.25,487.56 L956.37,487.51 L957.49,487.46 L958.61,487.42" fill="none" stroke="#129a45" stroke-width="3.80" stroke-linejoin="round" stroke-dasharray="10,5" stroke-linecap="butt"/>
<path d="M174.00,715.88 L175.12,714.59 L176.24,713.15 L177.36,711.61 L178.48,710.02 L179.60,708.43 L180.73,706.87 L181.85,705.39 L182.97,704.01 L184.09,702.75 L185.21,701.62 L186.33,700.62 L187.45,699.76 L188.57,699.03 L189.69,698.42 L190.81,697.92 L191.93,697.50 L193.05,697.15 L194.18,696.83 L195.30,696.54 L196.42,696.22 L197.54,695.87 L198.66,695.46 L199.78,694.96 L200.90,694.36 L202.02,693.64 L203.14,692.81 L204.26,691.86 L205.38,690.80 L206.51,689.65 L207.63,688.42 L208.75,687.14 L209.87,685.82 L210.99,684.48 L212.11,683.15 L213.23,681.84 L214.35,680.56 L215.47,679.32 L216.59,678.14 L217.71,677.03 L218.84,675.98 L219.96,675.00 L221.08,674.10 L222.20,673.27 L223.32,672.51 L224.44,671.82 L225.56,671.18 L226.68,670.61 L227.80,670.08 L228.92,669.59 L230.04,669.14 L231.16,668.71 L232.29,668.29 L233.41,667.88 L234.53,667.47 L235.65,667.03 L236.77,666.58 L237.89,666.09 L239.01,665.56 L240.13,664.99 L241.25,664.36 L242.37,663.69 L243.49,662.96 L244.62,662.17 L245.74,661.34 L246.86,660.46 L247.98,659.53 L249.10,658.57 L250.22,657.57 L251.34,656.55 L252.46,655.51 L253.58,654.45 L254.70,653.39 L255.82,652.34 L256.94,651.28 L258.07,650.24 L259.19,649.22 L260.31,648.22 L261.43,647.24 L262.55,646.29 L263.67,645.37 L264.79,644.48 L265.91,643.62 L267.03,642.79 L268.15,642.00 L269.27,641.25 L270.40,640.53 L271.52,639.84 L272.64,639.18 L273.76,638.55 L274.88,637.96 L276.00,637.39 L277.12,636.85 L278.24,636.32 L279.36,635.83 L280.48,635.35 L281.60,634.88 L282.72,634.43 L283.85,633.99 L284.97,633.56 L286.09,633.13 L287.21,632.70 L288.33,632.27 L289.45,631.84 L290.57,631.41 L291.69,630.96 L292.81,630.51 L293.93,630.04 L295.05,629.56 L296.18,629.06 L297.30,628.55 L298.42,628.01 L299.54,627.46 L300.66,626.89 L301.78,626.30 L302.90,625.69 L304.02,625.06 L305.14,624.41 L306.26,623.75 L307.38,623.06 L308.51,622.37 L309.63,621.66 L310.75,620.94 L311.87,620.20 L312.99,619.46 L314.11,618.71 L315.23,617.96 L316.35,617.20 L317.47,616.44 L318.59,615.68 L319.71,614.92 L320.83,614.16 L321.96,613.41 L323.08,612.66 L324.20,611.92 L325.32,611.19 L326.44,610.46 L327.56,609.75 L328.68,609.04 L329.80,608.35 L330.92,607.67 L332.04,607.00 L333.16,606.34 L334.29,605.69 L335.41,605.06 L336.53,604.45 L337.65,603.84 L338.77,603.25 L339.89,602.68 L341.01,602.12 L342.13,601.57 L343.25,601.04 L344.37,600.52 L345.49,600.01 L346.61,599.51 L347.74,599.03 L348.86,598.56 L349.98,598.10 L351.10,597.66 L352.22,597.22 L353.34,596.79 L354.46,596.38 L355.58,595.97 L356.70,595.57 L357.82,595.19 L358.94,594.80 L360.07,594.43 L361.19,594.06 L362.31,593.70 L363.43,593.34 L364.55,592.99 L365.67,592.64 L366.79,592.29 L367.91,591.95 L369.03,591.61 L370.15,591.27 L371.27,590.93 L372.39,590.59 L373.52,590.25 L374.64,589.91 L375.76,589.57 L376.88,589.23 L378.00,588.88 L379.12,588.54 L380.24,588.19 L381.36,587.83 L382.48,587.47 L383.60,587.11 L384.72,586.75 L385.85,586.38 L386.97,586.00 L388.09,585.62 L389.21,585.23 L390.33,584.84 L391.45,584.45 L392.57,584.04 L393.69,583.64 L394.81,583.22 L395.93,582.81 L397.05,582.38 L398.18,581.95 L399.30,581.52 L400.42,581.08 L401.54,580.64 L402.66,580.19 L403.78,579.74 L404.90,579.29 L406.02,578.83 L407.14,578.36 L408.26,577.90 L409.38,577.43 L410.50,576.96 L411.63,576.49 L412.75,576.01 L413.87,575.53 L414.99,575.05 L416.11,574.58 L417.23,574.10 L418.35,573.61 L419.47,573.13 L420.59,572.65 L421.71,572.17 L422.83,571.69 L423.96,571.22 L425.08,570.74 L426.20,570.26 L427.32,569.79 L428.44,569.32 L429.56,568.85 L430.68,568.38 L431.80,567.92 L432.92,567.46 L434.04,567.00 L435.16,566.54 L436.28,566.09 L437.41,565.64 L438.53,565.20 L439.65,564.76 L440.77,564.32 L441.89,563.89 L443.01,563.46 L444.13,563.03 L445.25,562.61 L446.37,562.20 L447.49,561.79 L448.61,561.38 L449.74,560.98 L450.86,560.58 L451.98,560.19 L453.10,559.80 L454.22,559.41 L455.34,559.04 L456.46,558.66 L457.58,558.29 L458.70,557.93 L459.82,557.57 L460.94,557.21 L462.06,556.86 L463.19,556.52 L464.31,556.17 L465.43,555.84 L466.55,555.51 L467.67,555.18 L468.79,554.85 L469.91,554.54 L471.03,554.22 L472.15,553.91 L473.27,553.61 L474.39,553.30 L475.52,553.01 L476.64,552.71 L477.76,552.42 L478.88,552.14 L480.00,551.86 L481.12,551.58 L482.24,551.30 L483.36,551.03 L484.48,550.76 L485.60,550.50 L486.72,550.24 L487.85,549.98 L488.97,549.73 L490.09,549.48 L491.21,549.23 L492.33,548.98 L493.45,548.74 L494.57,548.50 L495.69,548.26 L496.81,548.02 L497.93,547.79 L499.05,547.56 L500.17,547.33 L501.30,547.11 L502.42,546.88 L503.54,546.66 L504.66,546.44 L505.78,546.22 L506.90,546.00 L508.02,545.79 L509.14,545.57 L510.26,545.36 L511.38,545.15 L512.50,544.94 L513.63,544.73 L514.75,544.52 L515.87,544.31 L516.99,544.10 L518.11,543.89 L519.23,543.69 L520.35,543.48 L521.47,543.28 L522.59,543.07 L523.71,542.87 L524.83,542.67 L525.95,542.46 L527.08,542.26 L528.20,542.05 L529.32,541.85 L530.44,541.65 L531.56,541.44 L532.68,541.24 L533.80,541.03 L534.92,540.83 L536.04,540.62 L537.16,540.42 L538.28,540.21 L539.41,540.00 L540.53,539.79 L541.65,539.58 L542.77,539.38 L543.89,539.17 L545.01,538.95 L546.13,538.74 L547.25,538.53 L548.37,538.32 L549.49,538.10 L550.61,537.89 L551.74,537.67 L552.86,537.45 L553.98,537.23 L555.10,537.02 L556.22,536.79 L557.34,536.57 L558.46,536.35 L559.58,536.13 L560.70,535.90 L561.82,535.68 L562.94,535.45 L564.06,535.22 L565.19,534.99 L566.31,534.76 L567.43,534.53 L568.55,534.30 L569.67,534.07 L570.79,533.83 L571.91,533.60 L573.03,533.36 L574.15,533.12 L575.27,532.89 L576.39,532.65 L577.52,532.41 L578.64,532.17 L579.76,531.92 L580.88,531.68 L582.00,531.44 L583.12,531.19 L584.24,530.95 L585.36,530.70 L586.48,530.46 L587.60,530.21 L588.72,529.96 L589.84,529.71 L590.97,529.46 L592.09,529.21 L593.21,528.96 L594.33,528.71 L595.45,528.46 L596.57,528.21 L597.69,527.96 L598.81,527.71 L599.93,527.45 L601.05,527.20 L602.17,526.95 L603.30,526.69 L604.42,526.44 L605.54,526.19 L606.66,525.93 L607.78,525.68 L608.90,525.43 L610.02,525.17 L611.14,524.92 L612.26,524.66 L613.38,524.41 L614.50,524.16 L615.62,523.90 L616.75,523.65 L617.87,523.40 L618.99,523.14 L620.11,522.89 L621.23,522.64 L622.35,522.39 L623.47,522.14 L624.59,521.89 L625.71,521.64 L626.83,521.38 L627.95,521.14 L629.08,520.89 L630.20,520.64 L631.32,520.39 L632.44,520.14 L633.56,519.90 L634.68,519.65 L635.80,519.40 L636.92,519.16 L638.04,518.91 L639.16,518.67 L640.28,518.43 L641.41,518.19 L642.53,517.95 L643.65,517.71 L644.77,517.47 L645.89,517.23 L647.01,516.99 L648.13,516.75 L649.25,516.52 L650.37,516.28 L651.49,516.05 L652.61,515.82 L653.73,515.58 L654.86,515.35 L655.98,515.12 L657.10,514.89 L658.22,514.66 L659.34,514.44 L660.46,514.21 L661.58,513.99 L662.70,513.76 L663.82,513.54 L664.94,513.32 L666.06,513.10 L667.19,512.88 L668.31,512.66 L669.43,512.44 L670.55,512.22 L671.67,512.01 L672.79,511.79 L673.91,511.58 L675.03,511.37 L676.15,511.16 L677.27,510.95 L678.39,510.74 L679.51,510.53 L680.64,510.33 L681.76,510.12 L682.88,509.92 L684.00,509.72 L685.12,509.51 L686.24,509.31 L687.36,509.11 L688.48,508.92 L689.60,508.72 L690.72,508.52 L691.84,508.33 L692.97,508.14 L694.09,507.94 L695.21,507.75 L696.33,507.56 L697.45,507.37 L698.57,507.19 L699.69,507.00 L700.81,506.81 L701.93,506.63 L703.05,506.45 L704.17,506.27 L705.29,506.09 L706.42,505.91 L707.54,505.73 L708.66,505.55 L709.78,505.37 L710.90,505.20 L712.02,505.03 L713.14,504.85 L714.26,504.68 L715.38,504.51 L716.50,504.34 L717.62,504.17 L718.75,504.01 L719.87,503.84 L720.99,503.68 L722.11,503.51 L723.23,503.35 L724.35,503.19 L725.47,503.03 L726.59,502.87 L727.71,502.71 L728.83,502.55 L729.95,502.40 L731.08,502.24 L732.20,502.09 L733.32,501.93 L734.44,501.78 L735.56,501.63 L736.68,501.48 L737.80,501.33 L738.92,501.18 L740.04,501.04 L741.16,500.89 L742.28,500.75 L743.40,500.60 L744.53,500.46 L745.65,500.32 L746.77,500.18 L747.89,500.04 L749.01,499.90 L750.13,499.76 L751.25,499.62 L752.37,499.48 L753.49,499.35 L754.61,499.21 L755.73,499.08 L756.86,498.95 L757.98,498.81 L759.10,498.68 L760.22,498.55 L761.34,498.42 L762.46,498.29 L763.58,498.17 L764.70,498.04 L765.82,497.91 L766.94,497.79 L768.06,497.66 L769.18,497.54 L770.31,497.42 L771.43,497.30 L772.55,497.17 L773.67,497.05 L774.79,496.93 L775.91,496.81 L777.03,496.70 L778.15,496.58 L779.27,496.46 L780.39,496.35 L781.51,496.23 L782.64,496.12 L783.76,496.00 L784.88,495.89 L786.00,495.78 L787.12,495.66 L788.24,495.55 L789.36,495.44 L790.48,495.33 L791.60,495.22 L792.72,495.12 L793.84,495.01 L794.96,494.90 L796.09,494.79 L797.21,494.69 L798.33,494.58 L799.45,494.48 L800.57,494.37 L801.69,494.27 L802.81,494.17 L803.93,494.06 L805.05,493.96 L806.17,493.86 L807.29,493.76 L808.42,493.66 L809.54,493.56 L810.66,493.46 L811.78,493.36 L812.90,493.26 L814.02,493.17 L815.14,493.07 L816.26,492.97 L817.38,492.88 L818.50,492.78 L819.62,492.68 L820.75,492.59 L821.87,492.50 L822.99,492.40 L824.11,492.31 L825.23,492.21 L826.35,492.12 L827.47,492.03 L828.59,491.94 L829.71,491.85 L830.83,491.76 L831.95,491.66 L833.07,491.57 L834.20,491.48 L835.32,491.40 L836.44,491.31 L837.56,491.22 L838.68,491.13 L839.80,491.04 L840.92,490.95 L842.04,490.87 L843.16,490.78 L844.28,490.69 L845.40,490.60 L846.53,490.52 L847.65,490.43 L848.77,490.35 L849.89,490.26 L851.01,490.18 L852.13,490.09 L853.25,490.01 L854.37,489.92 L855.49,489.84 L856.61,489.76 L857.73,489.67 L858.85,489.59 L859.98,489.51 L861.10,489.42 L862.22,489.34 L863.34,489.26 L864.46,489.18 L865.58,489.09 L866.70,489.01 L867.82,488.93 L868.94,488.85 L870.06,488.77 L871.18,488.69 L872.31,488.61 L873.43,488.52 L874.55,488.44 L875.67,488.36 L876.79,488.28 L877.91,488.20 L879.03,488.12 L880.15,488.04 L881.27,487.96 L882.39,487.88 L883.51,487.81 L884.64,487.73 L885.76,487.65 L886.88,487.57 L888.00,487.49 L889.12,487.41 L890.24,487.33 L891.36,487.25 L892.48,487.17 L893.60,487.09 L894.72,487.02 L895.84,486.94 L896.96,486.86 L898.09,486.78 L899.21,486.70 L900.33,486.62 L901.45,486.55 L902.57,486.47 L903.69,486.39 L904.81,486.31 L905.93,486.23 L907.05,486.16 L908.17,486.08 L909.29,486.00 L910.42,485.92 L911.54,485.84 L912.66,485.77 L913.78,485.69 L914.90,485.61 L916.02,485.53 L917.14,485.46 L918.26,485.38 L919.38,485.30 L920.50,485.22 L921.62,485.14 L922.74,485.07 L923.87,484.99 L924.99,484.91 L926.11,484.83 L927.23,484.75 L928.35,484.68 L929.47,484.60 L930.59,484.52 L931.71,484.44 L932.83,484.36 L933.95,484.29 L935.07,484.21 L936.20,484.13 L937.32,484.05 L938.44,483.97 L939.56,483.89 L940.68,483.81 L941.80,483.74 L942.92,483.66 L944.04,483.58 L945.16,483.50 L946.28,483.42 L947.40,483.34 L948.52,483.26 L949.65,483.18 L950.77,483.10 L951.89,483.03 L953.01,482.95 L954.13,482.87 L955.25,482.79 L956.37,482.71 L957.49,482.63 L958.61,482.55" fill="none" stroke="#ec1c24" stroke-width="3.80" stroke-linejoin="round" stroke-dasharray="10,5" stroke-linecap="butt"/>
<path d="M174.00,580.13 L175.12,576.77 L176.24,572.92 L177.36,569.00 L178.48,565.30 L179.60,561.97 L180.73,559.11 L181.85,556.75 L182.97,554.90 L184.09,553.55 L185.21,552.69 L186.33,552.31 L187.45,552.40 L188.57,552.95 L189.69,553.93 L190.81,555.32 L191.93,557.12 L193.05,559.27 L194.18,561.73 L195.30,564.43 L196.42,567.25 L197.54,570.04 L198.66,572.59 L199.78,574.64 L200.90,575.95 L202.02,576.33 L203.14,575.72 L204.26,574.18 L205.38,571.93 L206.51,569.20 L207.63,566.22 L208.75,563.19 L209.87,560.24 L210.99,557.47 L212.11,554.93 L213.23,552.66 L214.35,550.67 L215.47,548.97 L216.59,547.57 L217.71,546.45 L218.84,545.62 L219.96,545.06 L221.08,544.78 L222.20,544.75 L223.32,544.99 L224.44,545.47 L225.56,546.20 L226.68,547.16 L227.80,548.34 L228.92,549.74 L230.04,551.33 L231.16,553.09 L232.29,555.00 L233.41,557.01 L234.53,559.08 L235.65,561.14 L236.77,563.11 L237.89,564.90 L239.01,566.41 L240.13,567.53 L241.25,568.18 L242.37,568.30 L243.49,567.87 L244.62,566.94 L245.74,565.56 L246.86,563.82 L247.98,561.83 L249.10,559.68 L250.22,557.45 L251.34,555.21 L252.46,553.01 L253.58,550.88 L254.70,548.87 L255.82,546.99 L256.94,545.24 L258.07,543.65 L259.19,542.20 L260.31,540.91 L261.43,539.77 L262.55,538.79 L263.67,537.95 L264.79,537.27 L265.91,536.72 L267.03,536.32 L268.15,536.06 L269.27,535.94 L270.40,535.95 L271.52,536.08 L272.64,536.35 L273.76,536.74 L274.88,537.25 L276.00,537.88 L277.12,538.62 L278.24,539.48 L279.36,540.43 L280.48,541.49 L281.60,542.63 L282.72,543.86 L283.85,545.16 L284.97,546.52 L286.09,547.93 L287.21,549.36 L288.33,550.79 L289.45,552.20 L290.57,553.56 L291.69,554.83 L292.81,555.99 L293.93,557.00 L295.05,557.82 L296.18,558.42 L297.30,558.78 L298.42,558.89 L299.54,558.72 L300.66,558.30 L301.78,557.64 L302.90,556.75 L304.02,555.67 L305.14,554.44 L306.26,553.07 L307.38,551.61 L308.51,550.09 L309.63,548.53 L310.75,546.96 L311.87,545.39 L312.99,543.84 L314.11,542.33 L315.23,540.86 L316.35,539.45 L317.47,538.10 L318.59,536.81 L319.71,535.58 L320.83,534.43 L321.96,533.35 L323.08,532.33 L324.20,531.39 L325.32,530.52 L326.44,529.73 L327.56,529.00 L328.68,528.34 L329.80,527.75 L330.92,527.23 L332.04,526.78 L333.16,526.39 L334.29,526.07 L335.41,525.80 L336.53,525.61 L337.65,525.47 L338.77,525.39 L339.89,525.38 L341.01,525.42 L342.13,525.51 L343.25,525.67 L344.37,525.88 L345.49,526.14 L346.61,526.46 L347.74,526.82 L348.86,527.24 L349.98,527.70 L351.10,528.22 L352.22,528.78 L353.34,529.38 L354.46,530.03 L355.58,530.72 L356.70,531.44 L357.82,532.20 L358.94,533.00 L360.07,533.82 L361.19,534.67 L362.31,535.54 L363.43,536.43 L364.55,537.34 L365.67,538.25 L366.79,539.16 L367.91,540.06 L369.03,540.95 L370.15,541.82 L371.27,542.66 L372.39,543.47 L373.52,544.22 L374.64,544.91 L375.76,545.54 L376.88,546.10 L378.00,546.57 L379.12,546.94 L380.24,547.22 L381.36,547.39 L382.48,547.46 L383.60,547.42 L384.72,547.27 L385.85,547.01 L386.97,546.65 L388.09,546.19 L389.21,545.65 L390.33,545.01 L391.45,544.30 L392.57,543.53 L393.69,542.69 L394.81,541.81 L395.93,540.88 L397.05,539.92 L398.18,538.94 L399.30,537.94 L400.42,536.93 L401.54,535.91 L402.66,534.89 L403.78,533.87 L404.90,532.86 L406.02,531.87 L407.14,530.89 L408.26,529.92 L409.38,528.98 L410.50,528.05 L411.63,527.15 L412.75,526.28 L413.87,525.42 L414.99,524.60 L416.11,523.80 L417.23,523.03 L418.35,522.29 L419.47,521.57 L420.59,520.88 L421.71,520.22 L422.83,519.59 L423.96,518.99 L425.08,518.41 L426.20,517.86 L427.32,517.34 L428.44,516.85 L429.56,516.38 L430.68,515.94 L431.80,515.52 L432.92,515.14 L434.04,514.77 L435.16,514.44 L436.28,514.13 L437.41,513.84 L438.53,513.58 L439.65,513.34 L440.77,513.12 L441.89,512.93 L443.01,512.77 L444.13,512.62 L445.25,512.50 L446.37,512.40 L447.49,512.32 L448.61,512.27 L449.74,512.23 L450.86,512.22 L451.98,512.22 L453.10,512.25 L454.22,512.30 L455.34,512.37 L456.46,512.45 L457.58,512.56 L458.70,512.69 L459.82,512.83 L460.94,513.00 L462.06,513.18 L463.19,513.38 L464.31,513.59 L465.43,513.83 L466.55,514.08 L467.67,514.34 L468.79,514.63 L469.91,514.93 L471.03,515.24 L472.15,515.57 L473.27,515.92 L474.39,516.28 L475.52,516.65 L476.64,517.04 L477.76,517.44 L478.88,517.85 L480.00,518.27 L481.12,518.71 L482.24,519.15 L483.36,519.61 L484.48,520.07 L485.60,520.54 L486.72,521.02 L487.85,521.51 L488.97,522.00 L490.09,522.50 L491.21,523.00 L492.33,523.51 L493.45,524.01 L494.57,524.52 L495.69,525.03 L496.81,525.53 L497.93,526.03 L499.05,526.53 L500.17,527.02 L501.30,527.50 L502.42,527.97 L503.54,528.44 L504.66,528.88 L505.78,529.32 L506.90,529.74 L508.02,530.14 L509.14,530.52 L510.26,530.87 L511.38,531.21 L512.50,531.52 L513.63,531.81 L514.75,532.06 L515.87,532.29 L516.99,532.49 L518.11,532.66 L519.23,532.79 L520.35,532.89 L521.47,532.96 L522.59,532.99 L523.71,532.99 L524.83,532.95 L525.95,532.88 L527.08,532.77 L528.20,532.63 L529.32,532.46 L530.44,532.25 L531.56,532.01 L532.68,531.74 L533.80,531.45 L534.92,531.12 L536.04,530.76 L537.16,530.39 L538.28,529.98 L539.41,529.56 L540.53,529.11 L541.65,528.65 L542.77,528.16 L543.89,527.66 L545.01,527.15 L546.13,526.63 L547.25,526.09 L548.37,525.54 L549.49,524.98 L550.61,524.42 L551.74,523.85 L552.86,523.27 L553.98,522.69 L555.10,522.11 L556.22,521.53 L557.34,520.94 L558.46,520.36 L559.58,519.77 L560.70,519.19 L561.82,518.61 L562.94,518.03 L564.06,517.46 L565.19,516.89 L566.31,516.32 L567.43,515.76 L568.55,515.21 L569.67,514.66 L570.79,514.12 L571.91,513.58 L573.03,513.05 L574.15,512.53 L575.27,512.01 L576.39,511.50 L577.52,511.00 L578.64,510.50 L579.76,510.02 L580.88,509.54 L582.00,509.07 L583.12,508.61 L584.24,508.15 L585.36,507.71 L586.48,507.27 L587.60,506.84 L588.72,506.42 L589.84,506.01 L590.97,505.60 L592.09,505.20 L593.21,504.82 L594.33,504.44 L595.45,504.06 L596.57,503.70 L597.69,503.35 L598.81,503.00 L599.93,502.66 L601.05,502.33 L602.17,502.01 L603.30,501.69 L604.42,501.38 L605.54,501.08 L606.66,500.79 L607.78,500.51 L608.90,500.23 L610.02,499.96 L611.14,499.70 L612.26,499.45 L613.38,499.20 L614.50,498.96 L615.62,498.73 L616.75,498.51 L617.87,498.29 L618.99,498.08 L620.11,497.87 L621.23,497.68 L622.35,497.49 L623.47,497.31 L624.59,497.13 L625.71,496.96 L626.83,496.80 L627.95,496.64 L629.08,496.49 L630.20,496.35 L631.32,496.21 L632.44,496.08 L633.56,495.96 L634.68,495.84 L635.80,495.73 L636.92,495.63 L638.04,495.53 L639.16,495.43 L640.28,495.35 L641.41,495.26 L642.53,495.19 L643.65,495.12 L644.77,495.05 L645.89,495.00 L647.01,494.94 L648.13,494.90 L649.25,494.85 L650.37,494.82 L651.49,494.79 L652.61,494.76 L653.73,494.74 L654.86,494.72 L655.98,494.71 L657.10,494.71 L658.22,494.71 L659.34,494.71 L660.46,494.72 L661.58,494.74 L662.70,494.76 L663.82,494.78 L664.94,494.81 L666.06,494.85 L667.19,494.88 L668.31,494.93 L669.43,494.98 L670.55,495.03 L671.67,495.09 L672.79,495.15 L673.91,495.21 L675.03,495.28 L676.15,495.36 L677.27,495.44 L678.39,495.52 L679.51,495.61 L680.64,495.70 L681.76,495.79 L682.88,495.89 L684.00,496.00 L685.12,496.10 L686.24,496.22 L687.36,496.33 L688.48,496.45 L689.60,496.57 L690.72,496.70 L691.84,496.83 L692.97,496.96 L694.09,497.10 L695.21,497.24 L696.33,497.38 L697.45,497.53 L698.57,497.68 L699.69,497.83 L700.81,497.99 L701.93,498.15 L703.05,498.31 L704.17,498.48 L705.29,498.65 L706.42,498.82 L707.54,499.00 L708.66,499.17 L709.78,499.35 L710.90,499.54 L712.02,499.72 L713.14,499.91 L714.26,500.10 L715.38,500.29 L716.50,500.49 L717.62,500.68 L718.75,500.88 L719.87,501.08 L720.99,501.29 L722.11,501.49 L723.23,501.70 L724.35,501.91 L725.47,502.12 L726.59,502.33 L727.71,502.54 L728.83,502.76 L729.95,502.97 L731.08,503.19 L732.20,503.41 L733.32,503.62 L734.44,503.84 L735.56,504.06 L736.68,504.28 L737.80,504.51 L738.92,504.73 L740.04,504.95 L741.16,505.17 L742.28,505.39 L743.40,505.61 L744.53,505.83 L745.65,506.06 L746.77,506.28 L747.89,506.50 L749.01,506.71 L750.13,506.93 L751.25,507.15 L752.37,507.37 L753.49,507.58 L754.61,507.79 L755.73,508.00 L756.86,508.21 L757.98,508.42 L759.10,508.63 L760.22,508.83 L761.34,509.03 L762.46,509.23 L763.58,509.42 L764.70,509.61 L765.82,509.80 L766.94,509.99 L768.06,510.17 L769.18,510.35 L770.31,510.53 L771.43,510.70 L772.55,510.86 L773.67,511.03 L774.79,511.19 L775.91,511.34 L777.03,511.49 L778.15,511.63 L779.27,511.77 L780.39,511.91 L781.51,512.04 L782.64,512.16 L783.76,512.28 L784.88,512.39 L786.00,512.50 L787.12,512.60 L788.24,512.69 L789.36,512.78 L790.48,512.86 L791.60,512.94 L792.72,513.01 L793.84,513.07 L794.96,513.13 L796.09,513.18 L797.21,513.22 L798.33,513.26 L799.45,513.29 L800.57,513.31 L801.69,513.33 L802.81,513.33 L803.93,513.34 L805.05,513.33 L806.17,513.32 L807.29,513.30 L808.42,513.27 L809.54,513.24 L810.66,513.20 L811.78,513.15 L812.90,513.09 L814.02,513.03 L815.14,512.97 L816.26,512.89 L817.38,512.81 L818.50,512.72 L819.62,512.63 L820.75,512.52 L821.87,512.42 L822.99,512.30 L824.11,512.18 L825.23,512.05 L826.35,511.92 L827.47,511.78 L828.59,511.64 L829.71,511.49 L830.83,511.34 L831.95,511.18 L833.07,511.01 L834.20,510.84 L835.32,510.66 L836.44,510.48 L837.56,510.30 L838.68,510.11 L839.80,509.91 L840.92,509.71 L842.04,509.51 L843.16,509.30 L844.28,509.09 L845.40,508.88 L846.53,508.66 L847.65,508.44 L848.77,508.21 L849.89,507.99 L851.01,507.75 L852.13,507.52 L853.25,507.28 L854.37,507.05 L855.49,506.80 L856.61,506.56 L857.73,506.31 L858.85,506.06 L859.98,505.81 L861.10,505.56 L862.22,505.31 L863.34,505.05 L864.46,504.79 L865.58,504.54 L866.70,504.28 L867.82,504.01 L868.94,503.75 L870.06,503.49 L871.18,503.23 L872.31,502.96 L873.43,502.69 L874.55,502.43 L875.67,502.16 L876.79,501.89 L877.91,501.63 L879.03,501.36 L880.15,501.09 L881.27,500.82 L882.39,500.55 L883.51,500.29 L884.64,500.02 L885.76,499.75 L886.88,499.48 L888.00,499.21 L889.12,498.95 L890.24,498.68 L891.36,498.41 L892.48,498.15 L893.60,497.88 L894.72,497.62 L895.84,497.35 L896.96,497.09 L898.09,496.83 L899.21,496.57 L900.33,496.31 L901.45,496.05 L902.57,495.79 L903.69,495.53 L904.81,495.27 L905.93,495.01 L907.05,494.76 L908.17,494.50 L909.29,494.25 L910.42,494.00 L911.54,493.75 L912.66,493.50 L913.78,493.25 L914.90,493.00 L916.02,492.75 L917.14,492.51 L918.26,492.27 L919.38,492.02 L920.50,491.78 L921.62,491.54 L922.74,491.30 L923.87,491.07 L924.99,490.83 L926.11,490.60 L927.23,490.36 L928.35,490.13 L929.47,489.90 L930.59,489.67 L931.71,489.44 L932.83,489.22 L933.95,488.99 L935.07,488.77 L936.20,488.55 L937.32,488.33 L938.44,488.11 L939.56,487.89 L940.68,487.68 L941.80,487.46 L942.92,487.25 L944.04,487.04 L945.16,486.83 L946.28,486.62 L947.40,486.41 L948.52,486.20 L949.65,486.00 L950.77,485.80 L951.89,485.59 L953.01,485.40 L954.13,485.20 L955.25,485.00 L956.37,484.80 L957.49,484.61 L958.61,484.42" fill="none" stroke="#232c84" stroke-width="3.80" stroke-linejoin="round" stroke-dasharray="10,5" stroke-linecap="butt"/>
<path d="M174.00,633.22 L175.12,633.21 L176.24,633.42 L177.36,633.82 L178.48,634.34 L179.60,634.92 L180.73,635.50 L181.85,636.01 L182.97,636.36 L184.09,636.49 L185.21,636.35 L186.33,635.91 L187.45,635.17 L188.57,634.15 L189.69,632.90 L190.81,631.48 L191.93,629.95 L193.05,628.37 L194.18,626.80 L195.30,625.28 L196.42,623.86 L197.54,622.56 L198.66,621.41 L199.78,620.40 L200.90,619.56 L202.02,618.89 L203.14,618.38 L204.26,618.04 L205.38,617.84 L206.51,617.78 L207.63,617.84 L208.75,618.02 L209.87,618.27 L210.99,618.59 L212.11,618.94 L213.23,619.30 L214.35,619.62 L215.47,619.89 L216.59,620.07 L217.71,620.14 L218.84,620.06 L219.96,619.83 L221.08,619.44 L222.20,618.88 L223.32,618.16 L224.44,617.30 L225.56,616.32 L226.68,615.24 L227.80,614.09 L228.92,612.89 L230.04,611.67 L231.16,610.45 L232.29,609.24 L233.41,608.08 L234.53,606.96 L235.65,605.91 L236.77,604.93 L237.89,604.03 L239.01,603.21 L240.13,602.48 L241.25,601.83 L242.37,601.27 L243.49,600.80 L244.62,600.42 L245.74,600.11 L246.86,599.89 L247.98,599.73 L249.10,599.65 L250.22,599.62 L251.34,599.65 L252.46,599.73 L253.58,599.85 L254.70,599.99 L255.82,600.15 L256.94,600.32 L258.07,600.49 L259.19,600.64 L260.31,600.76 L261.43,600.85 L262.55,600.90 L263.67,600.88 L264.79,600.80 L265.91,600.65 L267.03,600.42 L268.15,600.12 L269.27,599.73 L270.40,599.27 L271.52,598.73 L272.64,598.11 L273.76,597.44 L274.88,596.70 L276.00,595.91 L277.12,595.09 L278.24,594.23 L279.36,593.34 L280.48,592.45 L281.60,591.54 L282.72,590.63 L283.85,589.74 L284.97,588.85 L286.09,587.98 L287.21,587.14 L288.33,586.32 L289.45,585.54 L290.57,584.78 L291.69,584.07 L292.81,583.39 L293.93,582.75 L295.05,582.15 L296.18,581.59 L297.30,581.07 L298.42,580.60 L299.54,580.16 L300.66,579.77 L301.78,579.41 L302.90,579.09 L304.02,578.82 L305.14,578.57 L306.26,578.36 L307.38,578.19 L308.51,578.05 L309.63,577.93 L310.75,577.84 L311.87,577.78 L312.99,577.74 L314.11,577.72 L315.23,577.72 L316.35,577.73 L317.47,577.75 L318.59,577.79 L319.71,577.82 L320.83,577.86 L321.96,577.90 L323.08,577.93 L324.20,577.96 L325.32,577.97 L326.44,577.97 L327.56,577.95 L328.68,577.92 L329.80,577.86 L330.92,577.77 L332.04,577.66 L333.16,577.52 L334.29,577.35 L335.41,577.15 L336.53,576.92 L337.65,576.65 L338.77,576.35 L339.89,576.02 L341.01,575.65 L342.13,575.26 L343.25,574.83 L344.37,574.38 L345.49,573.89 L346.61,573.39 L347.74,572.86 L348.86,572.31 L349.98,571.75 L351.10,571.16 L352.22,570.57 L353.34,569.96 L354.46,569.34 L355.58,568.72 L356.70,568.10 L357.82,567.47 L358.94,566.84 L360.07,566.21 L361.19,565.59 L362.31,564.97 L363.43,564.36 L364.55,563.75 L365.67,563.15 L366.79,562.57 L367.91,561.99 L369.03,561.43 L370.15,560.88 L371.27,560.34 L372.39,559.82 L373.52,559.31 L374.64,558.82 L375.76,558.34 L376.88,557.88 L378.00,557.44 L379.12,557.01 L380.24,556.59 L381.36,556.20 L382.48,555.81 L383.60,555.45 L384.72,555.10 L385.85,554.77 L386.97,554.45 L388.09,554.15 L389.21,553.87 L390.33,553.60 L391.45,553.35 L392.57,553.11 L393.69,552.88 L394.81,552.67 L395.93,552.47 L397.05,552.29 L398.18,552.12 L399.30,551.96 L400.42,551.81 L401.54,551.67 L402.66,551.55 L403.78,551.43 L404.90,551.33 L406.02,551.23 L407.14,551.14 L408.26,551.07 L409.38,550.99 L410.50,550.93 L411.63,550.87 L412.75,550.82 L413.87,550.77 L414.99,550.73 L416.11,550.69 L417.23,550.65 L418.35,550.61 L419.47,550.58 L420.59,550.55 L421.71,550.52 L422.83,550.48 L423.96,550.45 L425.08,550.41 L426.20,550.37 L427.32,550.33 L428.44,550.29 L429.56,550.24 L430.68,550.18 L431.80,550.12 L432.92,550.05 L434.04,549.98 L435.16,549.90 L436.28,549.81 L437.41,549.71 L438.53,549.60 L439.65,549.49 L440.77,549.36 L441.89,549.23 L443.01,549.08 L444.13,548.93 L445.25,548.76 L446.37,548.59 L447.49,548.40 L448.61,548.21 L449.74,548.00 L450.86,547.78 L451.98,547.55 L453.10,547.31 L454.22,547.06 L455.34,546.80 L456.46,546.53 L457.58,546.26 L458.70,545.97 L459.82,545.67 L460.94,545.36 L462.06,545.05 L463.19,544.73 L464.31,544.40 L465.43,544.06 L466.55,543.71 L467.67,543.36 L468.79,543.01 L469.91,542.65 L471.03,542.28 L472.15,541.91 L473.27,541.53 L474.39,541.15 L475.52,540.77 L476.64,540.38 L477.76,540.00 L478.88,539.61 L480.00,539.22 L481.12,538.82 L482.24,538.43 L483.36,538.04 L484.48,537.64 L485.60,537.25 L486.72,536.86 L487.85,536.46 L488.97,536.07 L490.09,535.68 L491.21,535.30 L492.33,534.91 L493.45,534.53 L494.57,534.15 L495.69,533.77 L496.81,533.39 L497.93,533.02 L499.05,532.65 L500.17,532.29 L501.30,531.93 L502.42,531.57 L503.54,531.21 L504.66,530.87 L505.78,530.52 L506.90,530.18 L508.02,529.84 L509.14,529.51 L510.26,529.18 L511.38,528.86 L512.50,528.54 L513.63,528.23 L514.75,527.92 L515.87,527.62 L516.99,527.32 L518.11,527.03 L519.23,526.74 L520.35,526.46 L521.47,526.18 L522.59,525.91 L523.71,525.64 L524.83,525.37 L525.95,525.12 L527.08,524.86 L528.20,524.62 L529.32,524.37 L530.44,524.14 L531.56,523.90 L532.68,523.67 L533.80,523.45 L534.92,523.23 L536.04,523.02 L537.16,522.81 L538.28,522.61 L539.41,522.41 L540.53,522.22 L541.65,522.03 L542.77,521.84 L543.89,521.66 L545.01,521.49 L546.13,521.31 L547.25,521.15 L548.37,520.98 L549.49,520.83 L550.61,520.67 L551.74,520.52 L552.86,520.37 L553.98,520.23 L555.10,520.09 L556.22,519.96 L557.34,519.83 L558.46,519.70 L559.58,519.58 L560.70,519.46 L561.82,519.34 L562.94,519.23 L564.06,519.12 L565.19,519.01 L566.31,518.91 L567.43,518.81 L568.55,518.71 L569.67,518.61 L570.79,518.52 L571.91,518.43 L573.03,518.35 L574.15,518.26 L575.27,518.18 L576.39,518.10 L577.52,518.03 L578.64,517.95 L579.76,517.88 L580.88,517.81 L582.00,517.74 L583.12,517.67 L584.24,517.61 L585.36,517.55 L586.48,517.48 L587.60,517.42 L588.72,517.37 L589.84,517.31 L590.97,517.25 L592.09,517.20 L593.21,517.14 L594.33,517.09 L595.45,517.04 L596.57,516.99 L597.69,516.94 L598.81,516.89 L599.93,516.84 L601.05,516.79 L602.17,516.74 L603.30,516.69 L604.42,516.64 L605.54,516.59 L606.66,516.55 L607.78,516.50 L608.90,516.45 L610.02,516.40 L611.14,516.35 L612.26,516.30 L613.38,516.25 L614.50,516.20 L615.62,516.15 L616.75,516.10 L617.87,516.04 L618.99,515.99 L620.11,515.93 L621.23,515.88 L622.35,515.82 L623.47,515.76 L624.59,515.70 L625.71,515.64 L626.83,515.58 L627.95,515.51 L629.08,515.45 L630.20,515.38 L631.32,515.31 L632.44,515.24 L633.56,515.17 L634.68,515.10 L635.80,515.02 L636.92,514.94 L638.04,514.86 L639.16,514.78 L640.28,514.70 L641.41,514.61 L642.53,514.52 L643.65,514.43 L644.77,514.34 L645.89,514.25 L647.01,514.15 L648.13,514.05 L649.25,513.95 L650.37,513.85 L651.49,513.74 L652.61,513.64 L653.73,513.52 L654.86,513.41 L655.98,513.30 L657.10,513.18 L658.22,513.06 L659.34,512.94 L660.46,512.82 L661.58,512.69 L662.70,512.56 L663.82,512.43 L664.94,512.30 L666.06,512.16 L667.19,512.02 L668.31,511.88 L669.43,511.74 L670.55,511.60 L671.67,511.45 L672.79,511.30 L673.91,511.15 L675.03,511.00 L676.15,510.84 L677.27,510.69 L678.39,510.53 L679.51,510.37 L680.64,510.20 L681.76,510.04 L682.88,509.87 L684.00,509.70 L685.12,509.53 L686.24,509.36 L687.36,509.19 L688.48,509.01 L689.60,508.83 L690.72,508.66 L691.84,508.48 L692.97,508.29 L694.09,508.11 L695.21,507.93 L696.33,507.74 L697.45,507.55 L698.57,507.37 L699.69,507.18 L700.81,506.98 L701.93,506.79 L703.05,506.60 L704.17,506.41 L705.29,506.21 L706.42,506.02 L707.54,505.82 L708.66,505.62 L709.78,505.42 L710.90,505.22 L712.02,505.02 L713.14,504.82 L714.26,504.62 L715.38,504.42 L716.50,504.22 L717.62,504.02 L718.75,503.81 L719.87,503.61 L720.99,503.40 L722.11,503.20 L723.23,503.00 L724.35,502.79 L725.47,502.59 L726.59,502.38 L727.71,502.18 L728.83,501.97 L729.95,501.76 L731.08,501.56 L732.20,501.35 L733.32,501.15 L734.44,500.94 L735.56,500.74 L736.68,500.53 L737.80,500.33 L738.92,500.12 L740.04,499.92 L741.16,499.71 L742.28,499.51 L743.40,499.31 L744.53,499.10 L745.65,498.90 L746.77,498.70 L747.89,498.50 L749.01,498.29 L750.13,498.09 L751.25,497.89 L752.37,497.69 L753.49,497.49 L754.61,497.29 L755.73,497.10 L756.86,496.90 L757.98,496.70 L759.10,496.50 L760.22,496.31 L761.34,496.11 L762.46,495.92 L763.58,495.73 L764.70,495.53 L765.82,495.34 L766.94,495.15 L768.06,494.96 L769.18,494.77 L770.31,494.58 L771.43,494.39 L772.55,494.20 L773.67,494.02 L774.79,493.83 L775.91,493.65 L777.03,493.46 L778.15,493.28 L779.27,493.10 L780.39,492.92 L781.51,492.74 L782.64,492.56 L783.76,492.38 L784.88,492.20 L786.00,492.02 L787.12,491.85 L788.24,491.67 L789.36,491.50 L790.48,491.33 L791.60,491.16 L792.72,490.99 L793.84,490.82 L794.96,490.65 L796.09,490.48 L797.21,490.31 L798.33,490.15 L799.45,489.98 L800.57,489.82 L801.69,489.66 L802.81,489.49 L803.93,489.33 L805.05,489.17 L806.17,489.02 L807.29,488.86 L808.42,488.70 L809.54,488.55 L810.66,488.39 L811.78,488.24 L812.90,488.09 L814.02,487.93 L815.14,487.78 L816.26,487.63 L817.38,487.49 L818.50,487.34 L819.62,487.19 L820.75,487.05 L821.87,486.90 L822.99,486.76 L824.11,486.62 L825.23,486.48 L826.35,486.34 L827.47,486.20 L828.59,486.06 L829.71,485.92 L830.83,485.79 L831.95,485.65 L833.07,485.52 L834.20,485.39 L835.32,485.25 L836.44,485.12 L837.56,484.99 L838.68,484.86 L839.80,484.74 L840.92,484.61 L842.04,484.48 L843.16,484.36 L844.28,484.23 L845.40,484.11 L846.53,483.99 L847.65,483.87 L848.77,483.75 L849.89,483.63 L851.01,483.51 L852.13,483.39 L853.25,483.28 L854.37,483.16 L855.49,483.05 L856.61,482.93 L857.73,482.82 L858.85,482.71 L859.98,482.60 L861.10,482.49 L862.22,482.38 L863.34,482.27 L864.46,482.16 L865.58,482.06 L866.70,481.95 L867.82,481.85 L868.94,481.74 L870.06,481.64 L871.18,481.54 L872.31,481.44 L873.43,481.34 L874.55,481.24 L875.67,481.14 L876.79,481.04 L877.91,480.95 L879.03,480.85 L880.15,480.76 L881.27,480.66 L882.39,480.57 L883.51,480.48 L884.64,480.39 L885.76,480.29 L886.88,480.20 L888.00,480.12 L889.12,480.03 L890.24,479.94 L891.36,479.85 L892.48,479.77 L893.60,479.68 L894.72,479.60 L895.84,479.51 L896.96,479.43 L898.09,479.35 L899.21,479.27 L900.33,479.19 L901.45,479.11 L902.57,479.03 L903.69,478.95 L904.81,478.87 L905.93,478.79 L907.05,478.72 L908.17,478.64 L909.29,478.57 L910.42,478.49 L911.54,478.42 L912.66,478.34 L913.78,478.27 L914.90,478.20 L916.02,478.13 L917.14,478.06 L918.26,477.99 L919.38,477.92 L920.50,477.85 L921.62,477.78 L922.74,477.72 L923.87,477.65 L924.99,477.58 L926.11,477.52 L927.23,477.45 L928.35,477.39 L929.47,477.33 L930.59,477.26 L931.71,477.20 L932.83,477.14 L933.95,477.08 L935.07,477.02 L936.20,476.96 L937.32,476.90 L938.44,476.84 L939.56,476.78 L940.68,476.73 L941.80,476.67 L942.92,476.61 L944.04,476.56 L945.16,476.50 L946.28,476.44 L947.40,476.39 L948.52,476.34 L949.65,476.28 L950.77,476.23 L951.89,476.18 L953.01,476.12 L954.13,476.07 L955.25,476.02 L956.37,475.97 L957.49,475.92 L958.61,475.87" fill="none" stroke="#129a45" stroke-width="3.80" stroke-linejoin="round" stroke-linecap="round"/>
<path d="M174.00,563.82 L175.12,561.27 L176.24,558.25 L177.36,555.08 L178.48,551.99 L179.60,549.16 L180.73,546.67 L181.85,544.57 L182.97,542.90 L184.09,541.66 L185.21,540.85 L186.33,540.45 L187.45,540.47 L188.57,540.89 L189.69,541.68 L190.81,542.84 L191.93,544.31 L193.05,546.08 L194.18,548.07 L195.30,550.23 L196.42,552.44 L197.54,554.58 L198.66,556.49 L199.78,558.00 L200.90,558.96 L202.02,559.23 L203.14,558.78 L204.26,557.66 L205.38,555.98 L206.51,553.88 L207.63,551.55 L208.75,549.10 L209.87,546.67 L210.99,544.34 L212.11,542.16 L213.23,540.18 L214.35,538.43 L215.47,536.91 L216.59,535.63 L217.71,534.60 L218.84,533.82 L219.96,533.28 L221.08,532.98 L222.20,532.91 L223.32,533.06 L224.44,533.44 L225.56,534.02 L226.68,534.80 L227.80,535.77 L228.92,536.92 L230.04,538.21 L231.16,539.64 L232.29,541.17 L233.41,542.77 L234.53,544.39 L235.65,545.97 L236.77,547.47 L237.89,548.81 L239.01,549.92 L240.13,550.73 L241.25,551.20 L242.37,551.28 L243.49,550.98 L244.62,550.30 L245.74,549.28 L246.86,547.97 L247.98,546.45 L249.10,544.77 L250.22,543.00 L251.34,541.18 L252.46,539.37 L253.58,537.60 L254.70,535.89 L255.82,534.27 L256.94,532.75 L258.07,531.34 L259.19,530.06 L260.31,528.90 L261.43,527.87 L262.55,526.96 L263.67,526.19 L264.79,525.55 L265.91,525.03 L267.03,524.63 L268.15,524.36 L269.27,524.21 L270.40,524.18 L271.52,524.26 L272.64,524.45 L273.76,524.75 L274.88,525.16 L276.00,525.66 L277.12,526.26 L278.24,526.96 L279.36,527.74 L280.48,528.60 L281.60,529.52 L282.72,530.51 L283.85,531.56 L284.97,532.64 L286.09,533.75 L287.21,534.86 L288.33,535.97 L289.45,537.05 L290.57,538.08 L291.69,539.04 L292.81,539.90 L293.93,540.64 L295.05,541.23 L296.18,541.67 L297.30,541.93 L298.42,542.00 L299.54,541.88 L300.66,541.58 L301.78,541.09 L302.90,540.44 L304.02,539.63 L305.14,538.70 L306.26,537.66 L307.38,536.53 L308.51,535.33 L309.63,534.09 L310.75,532.82 L311.87,531.54 L312.99,530.27 L314.11,529.00 L315.23,527.77 L316.35,526.56 L317.47,525.40 L318.59,524.28 L319.71,523.21 L320.83,522.19 L321.96,521.23 L323.08,520.32 L324.20,519.47 L325.32,518.69 L326.44,517.96 L327.56,517.29 L328.68,516.68 L329.80,516.13 L330.92,515.64 L332.04,515.21 L333.16,514.83 L334.29,514.52 L335.41,514.25 L336.53,514.05 L337.65,513.89 L338.77,513.79 L339.89,513.75 L341.01,513.75 L342.13,513.81 L343.25,513.91 L344.37,514.06 L345.49,514.26 L346.61,514.50 L347.74,514.79 L348.86,515.12 L349.98,515.50 L351.10,515.91 L352.22,516.36 L353.34,516.85 L354.46,517.37 L355.58,517.92 L356.70,518.51 L357.82,519.12 L358.94,519.76 L360.07,520.41 L361.19,521.09 L362.31,521.78 L363.43,522.48 L364.55,523.19 L365.67,523.89 L366.79,524.60 L367.91,525.29 L369.03,525.97 L370.15,526.63 L371.27,527.27 L372.39,527.87 L373.52,528.42 L374.64,528.94 L375.76,529.40 L376.88,529.80 L378.00,530.15 L379.12,530.42 L380.24,530.62 L381.36,530.74 L382.48,530.79 L383.60,530.76 L384.72,530.65 L385.85,530.46 L386.97,530.20 L388.09,529.86 L389.21,529.46 L390.33,528.99 L391.45,528.46 L392.57,527.87 L393.69,527.23 L394.81,526.56 L395.93,525.84 L397.05,525.09 L398.18,524.32 L399.30,523.52 L400.42,522.71 L401.54,521.89 L402.66,521.06 L403.78,520.22 L404.90,519.39 L406.02,518.56 L407.14,517.73 L408.26,516.92 L409.38,516.12 L410.50,515.32 L411.63,514.55 L412.75,513.79 L413.87,513.05 L414.99,512.33 L416.11,511.62 L417.23,510.94 L418.35,510.28 L419.47,509.64 L420.59,509.02 L421.71,508.43 L422.83,507.86 L423.96,507.31 L425.08,506.78 L426.20,506.28 L427.32,505.80 L428.44,505.35 L429.56,504.91 L430.68,504.50 L431.80,504.11 L432.92,503.75 L434.04,503.41 L435.16,503.09 L436.28,502.79 L437.41,502.51 L438.53,502.25 L439.65,502.02 L440.77,501.81 L441.89,501.62 L443.01,501.44 L444.13,501.29 L445.25,501.16 L446.37,501.05 L447.49,500.96 L448.61,500.89 L449.74,500.83 L450.86,500.80 L451.98,500.78 L453.10,500.78 L454.22,500.80 L455.34,500.84 L456.46,500.90 L457.58,500.97 L458.70,501.06 L459.82,501.16 L460.94,501.28 L462.06,501.42 L463.19,501.57 L464.31,501.74 L465.43,501.92 L466.55,502.12 L467.67,502.33 L468.79,502.55 L469.91,502.79 L471.03,503.04 L472.15,503.30 L473.27,503.58 L474.39,503.86 L475.52,504.16 L476.64,504.47 L477.76,504.79 L478.88,505.12 L480.00,505.45 L481.12,505.80 L482.24,506.15 L483.36,506.51 L484.48,506.88 L485.60,507.26 L486.72,507.64 L487.85,508.02 L488.97,508.41 L490.09,508.80 L491.21,509.19 L492.33,509.58 L493.45,509.97 L494.57,510.36 L495.69,510.75 L496.81,511.14 L497.93,511.53 L499.05,511.90 L500.17,512.28 L501.30,512.64 L502.42,513.00 L503.54,513.34 L504.66,513.68 L505.78,514.00 L506.90,514.31 L508.02,514.61 L509.14,514.89 L510.26,515.16 L511.38,515.40 L512.50,515.63 L513.63,515.84 L514.75,516.02 L515.87,516.19 L516.99,516.33 L518.11,516.45 L519.23,516.55 L520.35,516.62 L521.47,516.67 L522.59,516.69 L523.71,516.69 L524.83,516.66 L525.95,516.61 L527.08,516.53 L528.20,516.43 L529.32,516.30 L530.44,516.15 L531.56,515.97 L532.68,515.77 L533.80,515.55 L534.92,515.31 L536.04,515.04 L537.16,514.76 L538.28,514.45 L539.41,514.13 L540.53,513.79 L541.65,513.44 L542.77,513.07 L543.89,512.68 L545.01,512.29 L546.13,511.88 L547.25,511.46 L548.37,511.03 L549.49,510.59 L550.61,510.14 L551.74,509.68 L552.86,509.22 L553.98,508.76 L555.10,508.29 L556.22,507.81 L557.34,507.34 L558.46,506.86 L559.58,506.38 L560.70,505.89 L561.82,505.41 L562.94,504.93 L564.06,504.45 L565.19,503.97 L566.31,503.49 L567.43,503.02 L568.55,502.55 L569.67,502.08 L570.79,501.61 L571.91,501.15 L573.03,500.69 L574.15,500.24 L575.27,499.79 L576.39,499.35 L577.52,498.91 L578.64,498.48 L579.76,498.05 L580.88,497.63 L582.00,497.21 L583.12,496.80 L584.24,496.40 L585.36,496.00 L586.48,495.61 L587.60,495.22 L588.72,494.84 L589.84,494.47 L590.97,494.11 L592.09,493.75 L593.21,493.40 L594.33,493.05 L595.45,492.71 L596.57,492.38 L597.69,492.06 L598.81,491.74 L599.93,491.43 L601.05,491.12 L602.17,490.82 L603.30,490.53 L604.42,490.25 L605.54,489.97 L606.66,489.70 L607.78,489.43 L608.90,489.17 L610.02,488.92 L611.14,488.68 L612.26,488.44 L613.38,488.20 L614.50,487.98 L615.62,487.76 L616.75,487.55 L617.87,487.34 L618.99,487.14 L620.11,486.94 L621.23,486.75 L622.35,486.57 L623.47,486.39 L624.59,486.22 L625.71,486.06 L626.83,485.90 L627.95,485.75 L629.08,485.60 L630.20,485.46 L631.32,485.32 L632.44,485.19 L633.56,485.07 L634.68,484.95 L635.80,484.84 L636.92,484.73 L638.04,484.63 L639.16,484.53 L640.28,484.44 L641.41,484.35 L642.53,484.27 L643.65,484.19 L644.77,484.12 L645.89,484.06 L647.01,484.00 L648.13,483.94 L649.25,483.89 L650.37,483.84 L651.49,483.80 L652.61,483.77 L653.73,483.73 L654.86,483.71 L655.98,483.68 L657.10,483.67 L658.22,483.65 L659.34,483.64 L660.46,483.64 L661.58,483.64 L662.70,483.64 L663.82,483.65 L664.94,483.66 L666.06,483.68 L667.19,483.70 L668.31,483.73 L669.43,483.76 L670.55,483.79 L671.67,483.83 L672.79,483.87 L673.91,483.91 L675.03,483.96 L676.15,484.01 L677.27,484.07 L678.39,484.13 L679.51,484.19 L680.64,484.26 L681.76,484.33 L682.88,484.41 L684.00,484.48 L685.12,484.56 L686.24,484.65 L687.36,484.74 L688.48,484.83 L689.60,484.92 L690.72,485.02 L691.84,485.12 L692.97,485.22 L694.09,485.33 L695.21,485.44 L696.33,485.55 L697.45,485.66 L698.57,485.78 L699.69,485.90 L700.81,486.02 L701.93,486.15 L703.05,486.28 L704.17,486.41 L705.29,486.54 L706.42,486.68 L707.54,486.81 L708.66,486.95 L709.78,487.09 L710.90,487.24 L712.02,487.38 L713.14,487.53 L714.26,487.68 L715.38,487.83 L716.50,487.99 L717.62,488.14 L718.75,488.30 L719.87,488.46 L720.99,488.62 L722.11,488.78 L723.23,488.94 L724.35,489.10 L725.47,489.27 L726.59,489.43 L727.71,489.60 L728.83,489.77 L729.95,489.93 L731.08,490.10 L732.20,490.27 L733.32,490.44 L734.44,490.61 L735.56,490.78 L736.68,490.95 L737.80,491.13 L738.92,491.30 L740.04,491.47 L741.16,491.64 L742.28,491.81 L743.40,491.98 L744.53,492.15 L745.65,492.32 L746.77,492.49 L747.89,492.66 L749.01,492.83 L750.13,492.99 L751.25,493.16 L752.37,493.32 L753.49,493.48 L754.61,493.65 L755.73,493.81 L756.86,493.96 L757.98,494.12 L759.10,494.28 L760.22,494.43 L761.34,494.58 L762.46,494.73 L763.58,494.87 L764.70,495.02 L765.82,495.16 L766.94,495.30 L768.06,495.43 L769.18,495.57 L770.31,495.70 L771.43,495.82 L772.55,495.95 L773.67,496.07 L774.79,496.18 L775.91,496.30 L777.03,496.41 L778.15,496.51 L779.27,496.62 L780.39,496.72 L781.51,496.81 L782.64,496.90 L783.76,496.99 L784.88,497.07 L786.00,497.15 L787.12,497.22 L788.24,497.29 L789.36,497.35 L790.48,497.41 L791.60,497.47 L792.72,497.52 L793.84,497.56 L794.96,497.61 L796.09,497.64 L797.21,497.67 L798.33,497.70 L799.45,497.72 L800.57,497.73 L801.69,497.74 L802.81,497.75 L803.93,497.75 L805.05,497.75 L806.17,497.74 L807.29,497.72 L808.42,497.70 L809.54,497.67 L810.66,497.64 L811.78,497.61 L812.90,497.57 L814.02,497.52 L815.14,497.47 L816.26,497.41 L817.38,497.35 L818.50,497.29 L819.62,497.22 L820.75,497.14 L821.87,497.06 L822.99,496.97 L824.11,496.88 L825.23,496.79 L826.35,496.69 L827.47,496.58 L828.59,496.48 L829.71,496.36 L830.83,496.25 L831.95,496.12 L833.07,496.00 L834.20,495.87 L835.32,495.74 L836.44,495.60 L837.56,495.46 L838.68,495.31 L839.80,495.16 L840.92,495.01 L842.04,494.85 L843.16,494.69 L844.28,494.53 L845.40,494.37 L846.53,494.20 L847.65,494.03 L848.77,493.85 L849.89,493.67 L851.01,493.49 L852.13,493.31 L853.25,493.13 L854.37,492.94 L855.49,492.75 L856.61,492.55 L857.73,492.36 L858.85,492.16 L859.98,491.96 L861.10,491.76 L862.22,491.56 L863.34,491.36 L864.46,491.15 L865.58,490.94 L866.70,490.74 L867.82,490.53 L868.94,490.31 L870.06,490.10 L871.18,489.89 L872.31,489.67 L873.43,489.46 L874.55,489.24 L875.67,489.02 L876.79,488.80 L877.91,488.58 L879.03,488.36 L880.15,488.14 L881.27,487.92 L882.39,487.70 L883.51,487.48 L884.64,487.25 L885.76,487.03 L886.88,486.81 L888.00,486.58 L889.12,486.36 L890.24,486.14 L891.36,485.91 L892.48,485.69 L893.60,485.47 L894.72,485.24 L895.84,485.02 L896.96,484.80 L898.09,484.57 L899.21,484.35 L900.33,484.13 L901.45,483.91 L902.57,483.69 L903.69,483.47 L904.81,483.25 L905.93,483.03 L907.05,482.81 L908.17,482.59 L909.29,482.37 L910.42,482.15 L911.54,481.93 L912.66,481.72 L913.78,481.50 L914.90,481.29 L916.02,481.07 L917.14,480.86 L918.26,480.65 L919.38,480.44 L920.50,480.23 L921.62,480.02 L922.74,479.81 L923.87,479.60 L924.99,479.39 L926.11,479.18 L927.23,478.98 L928.35,478.77 L929.47,478.57 L930.59,478.37 L931.71,478.17 L932.83,477.97 L933.95,477.77 L935.07,477.57 L936.20,477.37 L937.32,477.17 L938.44,476.98 L939.56,476.78 L940.68,476.59 L941.80,476.40 L942.92,476.21 L944.04,476.02 L945.16,475.83 L946.28,475.64 L947.40,475.46 L948.52,475.27 L949.65,475.09 L950.77,474.90 L951.89,474.72 L953.01,474.54 L954.13,474.36 L955.25,474.18 L956.37,474.01 L957.49,473.83 L958.61,473.65" fill="none" stroke="#232c84" stroke-width="3.80" stroke-linejoin="round" stroke-linecap="round"/>
<path d="M174.00,700.00 L175.12,698.73 L176.24,697.36 L177.36,695.90 L178.48,694.41 L179.60,692.92 L180.73,691.46 L181.85,690.06 L182.97,688.74 L184.09,687.52 L185.21,686.41 L186.33,685.40 L187.45,684.50 L188.57,683.71 L189.69,683.01 L190.81,682.39 L191.93,681.84 L193.05,681.34 L194.18,680.87 L195.30,680.40 L196.42,679.92 L197.54,679.40 L198.66,678.84 L199.78,678.20 L200.90,677.49 L202.02,676.69 L203.14,675.80 L204.26,674.82 L205.38,673.77 L206.51,672.64 L207.63,671.47 L208.75,670.24 L209.87,669.00 L210.99,667.74 L212.11,666.48 L213.23,665.24 L214.35,664.03 L215.47,662.86 L216.59,661.73 L217.71,660.65 L218.84,659.62 L219.96,658.65 L221.08,657.74 L222.20,656.89 L223.32,656.09 L224.44,655.35 L225.56,654.65 L226.68,654.00 L227.80,653.38 L228.92,652.80 L230.04,652.25 L231.16,651.71 L232.29,651.18 L233.41,650.66 L234.53,650.13 L235.65,649.59 L236.77,649.04 L237.89,648.46 L239.01,647.85 L240.13,647.21 L241.25,646.53 L242.37,645.81 L243.49,645.06 L244.62,644.27 L245.74,643.44 L246.86,642.58 L247.98,641.69 L249.10,640.76 L250.22,639.82 L251.34,638.86 L252.46,637.88 L253.58,636.90 L254.70,635.91 L255.82,634.93 L256.94,633.94 L258.07,632.97 L259.19,632.01 L260.31,631.07 L261.43,630.14 L262.55,629.24 L263.67,628.36 L264.79,627.50 L265.91,626.67 L267.03,625.87 L268.15,625.09 L269.27,624.34 L270.40,623.62 L271.52,622.93 L272.64,622.26 L273.76,621.61 L274.88,620.99 L276.00,620.39 L277.12,619.82 L278.24,619.26 L279.36,618.72 L280.48,618.19 L281.60,617.68 L282.72,617.18 L283.85,616.69 L284.97,616.20 L286.09,615.73 L287.21,615.25 L288.33,614.78 L289.45,614.30 L290.57,613.82 L291.69,613.34 L292.81,612.85 L293.93,612.35 L295.05,611.84 L296.18,611.32 L297.30,610.79 L298.42,610.25 L299.54,609.70 L300.66,609.13 L301.78,608.55 L302.90,607.96 L304.02,607.35 L305.14,606.73 L306.26,606.10 L307.38,605.46 L308.51,604.80 L309.63,604.14 L310.75,603.47 L311.87,602.79 L312.99,602.10 L314.11,601.41 L315.23,600.71 L316.35,600.01 L317.47,599.31 L318.59,598.61 L319.71,597.91 L320.83,597.21 L321.96,596.51 L323.08,595.82 L324.20,595.14 L325.32,594.45 L326.44,593.78 L327.56,593.11 L328.68,592.45 L329.80,591.80 L330.92,591.16 L332.04,590.53 L333.16,589.90 L334.29,589.29 L335.41,588.69 L336.53,588.10 L337.65,587.52 L338.77,586.95 L339.89,586.40 L341.01,585.85 L342.13,585.32 L343.25,584.79 L344.37,584.28 L345.49,583.78 L346.61,583.29 L347.74,582.81 L348.86,582.34 L349.98,581.88 L351.10,581.43 L352.22,580.99 L353.34,580.56 L354.46,580.14 L355.58,579.72 L356.70,579.31 L357.82,578.91 L358.94,578.52 L360.07,578.13 L361.19,577.75 L362.31,577.37 L363.43,577.00 L364.55,576.64 L365.67,576.27 L366.79,575.91 L367.91,575.56 L369.03,575.20 L370.15,574.85 L371.27,574.50 L372.39,574.15 L373.52,573.80 L374.64,573.46 L375.76,573.11 L376.88,572.76 L378.00,572.41 L379.12,572.06 L380.24,571.71 L381.36,571.35 L382.48,571.00 L383.60,570.64 L384.72,570.28 L385.85,569.91 L386.97,569.55 L388.09,569.18 L389.21,568.80 L390.33,568.43 L391.45,568.05 L392.57,567.66 L393.69,567.28 L394.81,566.89 L395.93,566.49 L397.05,566.09 L398.18,565.69 L399.30,565.29 L400.42,564.88 L401.54,564.47 L402.66,564.05 L403.78,563.63 L404.90,563.21 L406.02,562.79 L407.14,562.36 L408.26,561.93 L409.38,561.50 L410.50,561.07 L411.63,560.64 L412.75,560.20 L413.87,559.76 L414.99,559.33 L416.11,558.89 L417.23,558.45 L418.35,558.01 L419.47,557.57 L420.59,557.13 L421.71,556.69 L422.83,556.25 L423.96,555.81 L425.08,555.37 L426.20,554.93 L427.32,554.50 L428.44,554.06 L429.56,553.63 L430.68,553.20 L431.80,552.77 L432.92,552.34 L434.04,551.92 L435.16,551.50 L436.28,551.08 L437.41,550.66 L438.53,550.25 L439.65,549.84 L440.77,549.43 L441.89,549.03 L443.01,548.62 L444.13,548.23 L445.25,547.83 L446.37,547.44 L447.49,547.05 L448.61,546.67 L449.74,546.29 L450.86,545.92 L451.98,545.54 L453.10,545.17 L454.22,544.81 L455.34,544.45 L456.46,544.09 L457.58,543.74 L458.70,543.39 L459.82,543.05 L460.94,542.70 L462.06,542.37 L463.19,542.03 L464.31,541.71 L465.43,541.38 L466.55,541.06 L467.67,540.74 L468.79,540.43 L469.91,540.12 L471.03,539.81 L472.15,539.51 L473.27,539.21 L474.39,538.91 L475.52,538.62 L476.64,538.33 L477.76,538.05 L478.88,537.77 L480.00,537.49 L481.12,537.22 L482.24,536.94 L483.36,536.68 L484.48,536.41 L485.60,536.15 L486.72,535.89 L487.85,535.63 L488.97,535.38 L490.09,535.13 L491.21,534.88 L492.33,534.64 L493.45,534.39 L494.57,534.15 L495.69,533.91 L496.81,533.68 L497.93,533.45 L499.05,533.21 L500.17,532.99 L501.30,532.76 L502.42,532.53 L503.54,532.31 L504.66,532.09 L505.78,531.87 L506.90,531.65 L508.02,531.43 L509.14,531.22 L510.26,531.00 L511.38,530.79 L512.50,530.58 L513.63,530.37 L514.75,530.16 L515.87,529.95 L516.99,529.75 L518.11,529.54 L519.23,529.34 L520.35,529.13 L521.47,528.93 L522.59,528.72 L523.71,528.52 L524.83,528.32 L525.95,528.12 L527.08,527.92 L528.20,527.71 L529.32,527.51 L530.44,527.31 L531.56,527.11 L532.68,526.91 L533.80,526.71 L534.92,526.51 L536.04,526.31 L537.16,526.11 L538.28,525.91 L539.41,525.71 L540.53,525.51 L541.65,525.31 L542.77,525.11 L543.89,524.90 L545.01,524.70 L546.13,524.50 L547.25,524.30 L548.37,524.09 L549.49,523.89 L550.61,523.68 L551.74,523.48 L552.86,523.27 L553.98,523.06 L555.10,522.86 L556.22,522.65 L557.34,522.44 L558.46,522.23 L559.58,522.02 L560.70,521.81 L561.82,521.60 L562.94,521.39 L564.06,521.18 L565.19,520.96 L566.31,520.75 L567.43,520.53 L568.55,520.32 L569.67,520.10 L570.79,519.89 L571.91,519.67 L573.03,519.45 L574.15,519.23 L575.27,519.01 L576.39,518.79 L577.52,518.57 L578.64,518.35 L579.76,518.13 L580.88,517.90 L582.00,517.68 L583.12,517.45 L584.24,517.23 L585.36,517.00 L586.48,516.78 L587.60,516.55 L588.72,516.33 L589.84,516.10 L590.97,515.87 L592.09,515.64 L593.21,515.41 L594.33,515.18 L595.45,514.95 L596.57,514.73 L597.69,514.50 L598.81,514.26 L599.93,514.03 L601.05,513.80 L602.17,513.57 L603.30,513.34 L604.42,513.11 L605.54,512.88 L606.66,512.65 L607.78,512.41 L608.90,512.18 L610.02,511.95 L611.14,511.72 L612.26,511.49 L613.38,511.25 L614.50,511.02 L615.62,510.79 L616.75,510.56 L617.87,510.33 L618.99,510.10 L620.11,509.87 L621.23,509.63 L622.35,509.40 L623.47,509.17 L624.59,508.94 L625.71,508.71 L626.83,508.48 L627.95,508.26 L629.08,508.03 L630.20,507.80 L631.32,507.57 L632.44,507.34 L633.56,507.12 L634.68,506.89 L635.80,506.66 L636.92,506.44 L638.04,506.21 L639.16,505.99 L640.28,505.76 L641.41,505.54 L642.53,505.32 L643.65,505.10 L644.77,504.87 L645.89,504.65 L647.01,504.43 L648.13,504.21 L649.25,504.00 L650.37,503.78 L651.49,503.56 L652.61,503.34 L653.73,503.13 L654.86,502.91 L655.98,502.70 L657.10,502.49 L658.22,502.27 L659.34,502.06 L660.46,501.85 L661.58,501.64 L662.70,501.43 L663.82,501.22 L664.94,501.02 L666.06,500.81 L667.19,500.61 L668.31,500.40 L669.43,500.20 L670.55,499.99 L671.67,499.79 L672.79,499.59 L673.91,499.39 L675.03,499.19 L676.15,498.99 L677.27,498.80 L678.39,498.60 L679.51,498.40 L680.64,498.21 L681.76,498.02 L682.88,497.83 L684.00,497.63 L685.12,497.44 L686.24,497.25 L687.36,497.07 L688.48,496.88 L689.60,496.69 L690.72,496.51 L691.84,496.32 L692.97,496.14 L694.09,495.96 L695.21,495.77 L696.33,495.59 L697.45,495.42 L698.57,495.24 L699.69,495.06 L700.81,494.88 L701.93,494.71 L703.05,494.53 L704.17,494.36 L705.29,494.19 L706.42,494.02 L707.54,493.85 L708.66,493.68 L709.78,493.51 L710.90,493.34 L712.02,493.17 L713.14,493.01 L714.26,492.84 L715.38,492.68 L716.50,492.52 L717.62,492.36 L718.75,492.20 L719.87,492.04 L720.99,491.88 L722.11,491.72 L723.23,491.56 L724.35,491.41 L725.47,491.25 L726.59,491.10 L727.71,490.95 L728.83,490.80 L729.95,490.64 L731.08,490.49 L732.20,490.35 L733.32,490.20 L734.44,490.05 L735.56,489.90 L736.68,489.76 L737.80,489.61 L738.92,489.47 L740.04,489.33 L741.16,489.19 L742.28,489.04 L743.40,488.90 L744.53,488.77 L745.65,488.63 L746.77,488.49 L747.89,488.35 L749.01,488.22 L750.13,488.08 L751.25,487.95 L752.37,487.82 L753.49,487.68 L754.61,487.55 L755.73,487.42 L756.86,487.29 L757.98,487.16 L759.10,487.03 L760.22,486.91 L761.34,486.78 L762.46,486.65 L763.58,486.53 L764.70,486.40 L765.82,486.28 L766.94,486.16 L768.06,486.04 L769.18,485.91 L770.31,485.79 L771.43,485.67 L772.55,485.55 L773.67,485.44 L774.79,485.32 L775.91,485.20 L777.03,485.08 L778.15,484.97 L779.27,484.85 L780.39,484.74 L781.51,484.63 L782.64,484.51 L783.76,484.40 L784.88,484.29 L786.00,484.18 L787.12,484.07 L788.24,483.96 L789.36,483.85 L790.48,483.74 L791.60,483.63 L792.72,483.53 L793.84,483.42 L794.96,483.31 L796.09,483.21 L797.21,483.10 L798.33,483.00 L799.45,482.90 L800.57,482.79 L801.69,482.69 L802.81,482.59 L803.93,482.49 L805.05,482.39 L806.17,482.29 L807.29,482.19 L808.42,482.09 L809.54,481.99 L810.66,481.89 L811.78,481.79 L812.90,481.69 L814.02,481.60 L815.14,481.50 L816.26,481.41 L817.38,481.31 L818.50,481.21 L819.62,481.12 L820.75,481.03 L821.87,480.93 L822.99,480.84 L824.11,480.75 L825.23,480.65 L826.35,480.56 L827.47,480.47 L828.59,480.38 L829.71,480.29 L830.83,480.20 L831.95,480.11 L833.07,480.02 L834.20,479.93 L835.32,479.84 L836.44,479.75 L837.56,479.67 L838.68,479.58 L839.80,479.49 L840.92,479.41 L842.04,479.32 L843.16,479.23 L844.28,479.15 L845.40,479.06 L846.53,478.98 L847.65,478.89 L848.77,478.81 L849.89,478.72 L851.01,478.64 L852.13,478.55 L853.25,478.47 L854.37,478.39 L855.49,478.30 L856.61,478.22 L857.73,478.14 L858.85,478.06 L859.98,477.98 L861.10,477.89 L862.22,477.81 L863.34,477.73 L864.46,477.65 L865.58,477.57 L866.70,477.49 L867.82,477.41 L868.94,477.33 L870.06,477.25 L871.18,477.17 L872.31,477.09 L873.43,477.01 L874.55,476.93 L875.67,476.85 L876.79,476.78 L877.91,476.70 L879.03,476.62 L880.15,476.54 L881.27,476.46 L882.39,476.39 L883.51,476.31 L884.64,476.23 L885.76,476.15 L886.88,476.08 L888.00,476.00 L889.12,475.92 L890.24,475.85 L891.36,475.77 L892.48,475.69 L893.60,475.62 L894.72,475.54 L895.84,475.46 L896.96,475.39 L898.09,475.31 L899.21,475.24 L900.33,475.16 L901.45,475.08 L902.57,475.01 L903.69,474.93 L904.81,474.86 L905.93,474.78 L907.05,474.71 L908.17,474.63 L909.29,474.56 L910.42,474.48 L911.54,474.41 L912.66,474.33 L913.78,474.26 L914.90,474.18 L916.02,474.11 L917.14,474.03 L918.26,473.96 L919.38,473.88 L920.50,473.81 L921.62,473.74 L922.74,473.66 L923.87,473.59 L924.99,473.51 L926.11,473.44 L927.23,473.36 L928.35,473.29 L929.47,473.21 L930.59,473.14 L931.71,473.07 L932.83,472.99 L933.95,472.92 L935.07,472.84 L936.20,472.77 L937.32,472.69 L938.44,472.62 L939.56,472.55 L940.68,472.47 L941.80,472.40 L942.92,472.32 L944.04,472.25 L945.16,472.17 L946.28,472.10 L947.40,472.02 L948.52,471.95 L949.65,471.88 L950.77,471.80 L951.89,471.73 L953.01,471.65 L954.13,471.58 L955.25,471.50 L956.37,471.43 L957.49,471.35 L958.61,471.28" fill="none" stroke="#ec1c24" stroke-width="3.80" stroke-linejoin="round" stroke-linecap="round"/>
<path d="M287.94,527.31 L287.78,525.18 L287.53,523.08 L287.18,521.02 L286.75,519.01 L286.23,517.06 L285.62,515.18 L284.94,513.38 L284.17,511.67 L283.33,510.07 L282.43,508.57 L281.46,507.20 L280.43,505.95 L279.35,504.84 L278.22,503.86 L277.05,503.03 L275.85,502.35 L274.63,501.83 L273.38,501.46 L272.12,501.25 L270.85,501.20 L269.59,501.31 L268.33,501.59 L267.10,502.01 L265.88,502.60 L264.69,503.34 L263.54,504.22 L262.43,505.25 L261.37,506.42 L260.36,507.72 L259.41,509.14 L258.53,510.68 L257.72,512.32 L256.99,514.07 L256.33,515.90 L255.76,517.81 L255.27,519.78 L254.87,521.82 L254.56,523.89 L254.35,526.01 L254.23,528.14 L254.20,530.28 L254.27,532.42 L254.43,534.54 L254.69,536.64 L255.04,538.70 L255.48,540.71 L256.00,542.65 L256.61,544.53 L257.31,546.32 L258.08,548.02 L258.92,549.62 L259.83,551.11 L260.80,552.48 L261.83,553.72 L262.92,554.82 L264.05,555.79 L265.22,556.61 L266.42,557.28 L267.65,557.80 L268.89,558.16 L270.15,558.36 L271.42,558.39 L272.68,558.27 L273.94,557.99 L275.18,557.56 L276.39,556.96 L277.58,556.21 L278.73,555.32 L279.84,554.28 L280.89,553.11 L281.90,551.80 L282.84,550.37" fill="none" stroke="#111" stroke-width="5.00" stroke-linejoin="round" stroke-linecap="round"/>
<path d="M228.11,602.50 L227.46,600.71 L226.73,599.01 L225.94,597.40 L225.08,595.89 L224.16,594.50 L223.19,593.22 L222.16,592.06 L221.09,591.03 L219.98,590.14 L218.84,589.38 L217.66,588.77 L216.47,588.31 L215.25,587.99 L214.03,587.83 L212.80,587.81 L211.58,587.95 L210.36,588.24 L209.16,588.67 L207.98,589.26 L206.83,589.98 L205.71,590.85 L204.64,591.85 L203.60,592.99 L202.62,594.24 L201.69,595.62 L200.82,597.11 L200.01,598.70 L199.27,600.38 L198.61,602.16 L198.02,604.01 L197.51,605.92 L197.08,607.90 L196.73,609.92 L196.47,611.98 L196.30,614.07 L196.21,616.17 L196.21,618.28 L196.30,620.39 L196.48,622.47 L196.74,624.53 L197.09,626.56 L197.52,628.53 L198.03,630.45 L198.63,632.29 L199.29,634.06 L200.03,635.75 L200.84,637.33 L201.71,638.82 L202.64,640.19 L203.63,641.45 L204.66,642.58 L205.74,643.57 L206.86,644.44 L208.02,645.16 L209.20,645.74 L210.40,646.17 L211.61,646.46 L212.84,646.59 L214.06,646.57 L215.29,646.40 L216.50,646.08 L217.69,645.61 L218.87,645.00 L220.01,644.24 L221.12,643.34 L222.19,642.31 L223.22,641.15 L224.19,639.87 L225.11,638.47 L225.96,636.96 L226.75,635.35 L227.48,633.64" fill="none" stroke="#111" stroke-width="5.00" stroke-linejoin="round" stroke-linecap="round"/>
<path d="M207.94,661.46 L206.96,660.04 L205.92,658.75 L204.82,657.58 L203.68,656.55 L202.49,655.66 L201.27,654.91 L200.02,654.31 L198.74,653.86 L197.45,653.56 L196.15,653.41 L194.85,653.43 L193.55,653.59 L192.26,653.91 L190.99,654.39 L189.74,655.01 L188.53,655.78 L187.35,656.70 L186.21,657.75 L185.12,658.94 L184.09,660.25 L183.11,661.68 L182.20,663.23 L181.36,664.88 L180.59,666.62 L179.91,668.46 L179.30,670.37 L178.77,672.34 L178.34,674.38 L177.99,676.46 L177.74,678.58 L177.57,680.72 L177.50,682.88 L177.53,685.04 L177.64,687.19 L177.86,689.32 L178.16,691.42 L178.55,693.48 L179.03,695.48 L179.60,697.43 L180.25,699.30 L180.98,701.09 L181.79,702.78 L182.66,704.38 L183.61,705.87 L184.61,707.24 L185.68,708.49 L186.79,709.61 L187.95,710.59 L189.15,711.43 L190.38,712.13 L191.64,712.67 L192.92,713.07 L194.22,713.31 L195.52,713.40 L196.82,713.33 L198.12,713.11 L199.40,712.73 L200.66,712.20 L201.90,711.52 L203.11,710.70 L204.27,709.73 L205.39,708.63 L206.46,707.40 L207.47,706.04 L208.43,704.57 L209.31,702.98 L210.13,701.30 L210.87,699.52 L211.53,697.66 L212.10,695.72 L212.59,693.72 L213.00,691.67" fill="none" stroke="#111" stroke-width="5.00" stroke-linejoin="round" stroke-linecap="round"/>
<line x1="282.80" y1="551.00" x2="310.80" y2="621.00" stroke="#3c3c3c" stroke-width="2.00" stroke-linecap="round"/>
<line x1="310.80" y1="621.00" x2="397.00" y2="621.00" stroke="#6c6c6c" stroke-width="2.60" stroke-linecap="round"/>
<line x1="229.80" y1="637.00" x2="241.20" y2="669.50" stroke="#3c3c3c" stroke-width="2.00" stroke-linecap="round"/>
<line x1="241.20" y1="669.50" x2="282.00" y2="669.50" stroke="#6c6c6c" stroke-width="2.60" stroke-linecap="round"/>
<line x1="214.20" y1="693.50" x2="226.00" y2="728.00" stroke="#3c3c3c" stroke-width="2.00" stroke-linecap="round"/>
<line x1="226.00" y1="728.00" x2="264.40" y2="728.00" stroke="#6c6c6c" stroke-width="2.60" stroke-linecap="round"/>
<text x="405.76" y="635.70" font-size="32.80" font-weight="bold" textLength="145.93" lengthAdjust="spacingAndGlyphs" fill="#111">Linear profile</text>
<text x="290.66" y="678.70" font-size="32.20" font-weight="bold" textLength="140.63" lengthAdjust="spacingAndGlyphs" fill="#111">Cubic profile</text>
<text x="274.86" y="740.00" font-size="32.20" font-weight="bold" textLength="155.53" lengthAdjust="spacingAndGlyphs" fill="#111">Quintic profile</text>
<rect x="673.4" y="660.8" width="288.6" height="119.4" fill="#fff" stroke="#555" stroke-width="2.2"/>
<line x1="684.90" y1="679.80" x2="765.90" y2="679.80" stroke="#232c84" stroke-width="7.50" />
<line x1="684.90" y1="693.40" x2="765.90" y2="693.40" stroke="#129a45" stroke-width="7.00" />
<line x1="684.90" y1="707.10" x2="765.90" y2="707.10" stroke="#ec1c24" stroke-width="6.50" />
<line x1="684.90" y1="738.90" x2="765.90" y2="738.90" stroke="#232c84" stroke-width="5.50" stroke-dasharray="14,3.3"/>
<line x1="684.90" y1="752.50" x2="765.90" y2="752.50" stroke="#129a45" stroke-width="5.50" stroke-dasharray="14,3.3"/>
<line x1="684.90" y1="766.70" x2="765.90" y2="766.70" stroke="#ec1c24" stroke-width="6.50" stroke-dasharray="14,3.3"/>
<text x="780.34" y="703.70" font-size="31.50" font-weight="bold" textLength="163.47" lengthAdjust="spacingAndGlyphs" fill="#111">TE polarization</text>
<text x="780.34" y="761.70" font-size="31.50" font-weight="bold" textLength="172.32" lengthAdjust="spacingAndGlyphs" fill="#111">TM polarizaiton</text>
<line x1="161.50" y1="902.90" x2="957.30" y2="902.90" stroke="#222" stroke-width="2.50" />
<line x1="957.30" y1="901.90" x2="957.30" y2="1220.60" stroke="#555" stroke-width="2.80" />
<line x1="161.50" y1="901.70" x2="161.50" y2="1220.80" stroke="#222" stroke-width="2.60" />
<line x1="160.30" y1="1219.60" x2="958.70" y2="1219.60" stroke="#222" stroke-width="2.60" />
<line x1="147.40" y1="902.70" x2="161.50" y2="902.70" stroke="#222" stroke-width="2.30" />
<line x1="153.30" y1="943.03" x2="161.50" y2="943.03" stroke="#222" stroke-width="1.90" />
<line x1="153.30" y1="932.87" x2="161.50" y2="932.87" stroke="#222" stroke-width="1.90" />
<line x1="153.30" y1="925.66" x2="161.50" y2="925.66" stroke="#222" stroke-width="1.90" />
<line x1="153.30" y1="920.07" x2="161.50" y2="920.07" stroke="#222" stroke-width="1.90" />
<line x1="153.30" y1="915.50" x2="161.50" y2="915.50" stroke="#222" stroke-width="1.90" />
<line x1="153.30" y1="911.64" x2="161.50" y2="911.64" stroke="#222" stroke-width="1.90" />
<line x1="153.30" y1="908.29" x2="161.50" y2="908.29" stroke="#222" stroke-width="1.90" />
<line x1="153.30" y1="905.34" x2="161.50" y2="905.34" stroke="#222" stroke-width="1.90" />
<line x1="147.40" y1="960.40" x2="161.50" y2="960.40" stroke="#222" stroke-width="2.30" />
<line x1="153.30" y1="1002.06" x2="161.50" y2="1002.06" stroke="#222" stroke-width="1.90" />
<line x1="153.30" y1="991.56" x2="161.50" y2="991.56" stroke="#222" stroke-width="1.90" />
<line x1="153.30" y1="984.12" x2="161.50" y2="984.12" stroke="#222" stroke-width="1.90" />
<line x1="153.30" y1="978.34" x2="161.50" y2="978.34" stroke="#222" stroke-width="1.90" />
<line x1="153.30" y1="973.62" x2="161.50" y2="973.62" stroke="#222" stroke-width="1.90" />
<line x1="153.30" y1="969.63" x2="161.50" y2="969.63" stroke="#222" stroke-width="1.90" />
<line x1="153.30" y1="966.18" x2="161.50" y2="966.18" stroke="#222" stroke-width="1.90" />
<line x1="153.30" y1="963.13" x2="161.50" y2="963.13" stroke="#222" stroke-width="1.90" />
<line x1="147.40" y1="1020.00" x2="161.50" y2="1020.00" stroke="#222" stroke-width="2.30" />
<line x1="153.30" y1="1061.45" x2="161.50" y2="1061.45" stroke="#222" stroke-width="1.90" />
<line x1="153.30" y1="1051.01" x2="161.50" y2="1051.01" stroke="#222" stroke-width="1.90" />
<line x1="153.30" y1="1043.60" x2="161.50" y2="1043.60" stroke="#222" stroke-width="1.90" />
<line x1="153.30" y1="1037.85" x2="161.50" y2="1037.85" stroke="#222" stroke-width="1.90" />
<line x1="153.30" y1="1033.16" x2="161.50" y2="1033.16" stroke="#222" stroke-width="1.90" />
<line x1="153.30" y1="1029.19" x2="161.50" y2="1029.19" stroke="#222" stroke-width="1.90" />
<line x1="153.30" y1="1025.75" x2="161.50" y2="1025.75" stroke="#222" stroke-width="1.90" />
<line x1="153.30" y1="1022.71" x2="161.50" y2="1022.71" stroke="#222" stroke-width="1.90" />
<line x1="147.40" y1="1079.30" x2="161.50" y2="1079.30" stroke="#222" stroke-width="2.30" />
<line x1="153.30" y1="1120.19" x2="161.50" y2="1120.19" stroke="#222" stroke-width="1.90" />
<line x1="153.30" y1="1109.89" x2="161.50" y2="1109.89" stroke="#222" stroke-width="1.90" />
<line x1="153.30" y1="1102.58" x2="161.50" y2="1102.58" stroke="#222" stroke-width="1.90" />
<line x1="153.30" y1="1096.91" x2="161.50" y2="1096.91" stroke="#222" stroke-width="1.90" />
<line x1="153.30" y1="1092.28" x2="161.50" y2="1092.28" stroke="#222" stroke-width="1.90" />
<line x1="153.30" y1="1088.36" x2="161.50" y2="1088.36" stroke="#222" stroke-width="1.90" />
<line x1="153.30" y1="1084.97" x2="161.50" y2="1084.97" stroke="#222" stroke-width="1.90" />
<line x1="153.30" y1="1081.98" x2="161.50" y2="1081.98" stroke="#222" stroke-width="1.90" />
<line x1="147.40" y1="1137.80" x2="161.50" y2="1137.80" stroke="#222" stroke-width="2.30" />
<line x1="153.30" y1="1179.32" x2="161.50" y2="1179.32" stroke="#222" stroke-width="1.90" />
<line x1="153.30" y1="1168.86" x2="161.50" y2="1168.86" stroke="#222" stroke-width="1.90" />
<line x1="153.30" y1="1161.44" x2="161.50" y2="1161.44" stroke="#222" stroke-width="1.90" />
<line x1="153.30" y1="1155.68" x2="161.50" y2="1155.68" stroke="#222" stroke-width="1.90" />
<line x1="153.30" y1="1150.98" x2="161.50" y2="1150.98" stroke="#222" stroke-width="1.90" />
<line x1="153.30" y1="1147.00" x2="161.50" y2="1147.00" stroke="#222" stroke-width="1.90" />
<line x1="153.30" y1="1143.56" x2="161.50" y2="1143.56" stroke="#222" stroke-width="1.90" />
<line x1="153.30" y1="1140.52" x2="161.50" y2="1140.52" stroke="#222" stroke-width="1.90" />
<line x1="147.40" y1="1197.20" x2="161.50" y2="1197.20" stroke="#222" stroke-width="2.30" />
<text x="102.46" y="911.50" font-size="27.50" font-weight="bold" textLength="27.14" lengthAdjust="spacingAndGlyphs" fill="#111">10</text>
<text x="129.70" y="904.40" font-size="20.00" font-weight="bold" textLength="10.23" lengthAdjust="spacingAndGlyphs" fill="#111">2</text>
<text x="102.46" y="969.20" font-size="27.50" font-weight="bold" textLength="27.14" lengthAdjust="spacingAndGlyphs" fill="#111">10</text>
<text x="129.48" y="962.10" font-size="20.00" font-weight="bold" textLength="10.23" lengthAdjust="spacingAndGlyphs" fill="#111">1</text>
<text x="102.46" y="1028.80" font-size="27.50" font-weight="bold" textLength="27.14" lengthAdjust="spacingAndGlyphs" fill="#111">10</text>
<text x="129.72" y="1021.70" font-size="20.00" font-weight="bold" textLength="10.23" lengthAdjust="spacingAndGlyphs" fill="#111">0</text>
<text x="91.16" y="1088.10" font-size="27.50" font-weight="bold" textLength="27.14" lengthAdjust="spacingAndGlyphs" fill="#111">10</text>
<text x="117.79" y="1081.00" font-size="20.00" font-weight="bold" textLength="22.15" lengthAdjust="spacingAndGlyphs" fill="#111">−1</text>
<text x="91.16" y="1146.60" font-size="27.50" font-weight="bold" textLength="27.14" lengthAdjust="spacingAndGlyphs" fill="#111">10</text>
<text x="117.78" y="1139.50" font-size="20.00" font-weight="bold" textLength="22.40" lengthAdjust="spacingAndGlyphs" fill="#111">−2</text>
<text x="91.16" y="1206.00" font-size="27.50" font-weight="bold" textLength="27.14" lengthAdjust="spacingAndGlyphs" fill="#111">10</text>
<text x="117.79" y="1198.90" font-size="20.00" font-weight="bold" textLength="22.32" lengthAdjust="spacingAndGlyphs" fill="#111">−3</text>
<line x1="174.60" y1="1218.60" x2="174.60" y2="1233.60" stroke="#222" stroke-width="2.30" />
<line x1="259.50" y1="1218.60" x2="259.50" y2="1227.10" stroke="#222" stroke-width="2.30" />
<line x1="344.30" y1="1218.60" x2="344.30" y2="1233.60" stroke="#222" stroke-width="2.30" />
<line x1="429.70" y1="1218.60" x2="429.70" y2="1227.10" stroke="#222" stroke-width="2.30" />
<line x1="515.00" y1="1218.60" x2="515.00" y2="1233.60" stroke="#222" stroke-width="2.30" />
<line x1="601.50" y1="1218.60" x2="601.50" y2="1227.10" stroke="#222" stroke-width="2.30" />
<line x1="686.80" y1="1218.60" x2="686.80" y2="1233.60" stroke="#222" stroke-width="2.30" />
<line x1="772.30" y1="1218.60" x2="772.30" y2="1227.10" stroke="#222" stroke-width="2.30" />
<line x1="857.80" y1="1218.60" x2="857.80" y2="1233.60" stroke="#222" stroke-width="2.30" />
<line x1="942.60" y1="1218.60" x2="942.60" y2="1227.10" stroke="#222" stroke-width="2.30" />
<text x="168.06" y="1264.80" font-size="29.40" font-weight="bold" textLength="14.72" lengthAdjust="spacingAndGlyphs" fill="#111">0</text>
<text x="330.47" y="1264.80" font-size="29.40" font-weight="bold" textLength="29.43" lengthAdjust="spacingAndGlyphs" fill="#111">20</text>
<text x="501.43" y="1264.80" font-size="29.40" font-weight="bold" textLength="29.43" lengthAdjust="spacingAndGlyphs" fill="#111">40</text>
<text x="672.94" y="1264.80" font-size="29.40" font-weight="bold" textLength="29.43" lengthAdjust="spacingAndGlyphs" fill="#111">60</text>
<text x="844.01" y="1264.80" font-size="29.40" font-weight="bold" textLength="29.43" lengthAdjust="spacingAndGlyphs" fill="#111">80</text>
<text x="451.42" y="1298.40" font-size="30.00" font-weight="bold" textLength="216.35" lengthAdjust="spacingAndGlyphs" fill="#111">Incident angle, <tspan font-style="italic">θ</tspan> (°)</text>
<text transform="translate(75.00,1153.60) rotate(-90)" x="-1.50" y="0" font-size="32.00" font-weight="bold" textLength="189.11" lengthAdjust="spacingAndGlyphs" fill="#111">Reflectivity, <tspan font-style="italic">R</tspan> (%)</text>
<path d="M173.10,1086.15 L174.80,1086.15 L176.50,1086.15 L178.21,1086.15 L179.91,1086.15 L181.61,1086.14 L183.31,1086.14 L185.02,1086.13 L186.72,1086.12 L188.42,1086.12 L190.12,1086.11 L191.83,1086.10 L193.53,1086.09 L195.23,1086.08 L196.93,1086.06 L198.64,1086.05 L200.34,1086.03 L202.04,1086.02 L203.74,1086.00 L205.44,1085.99 L207.15,1085.97 L208.85,1085.95 L210.55,1085.93 L212.25,1085.91 L213.96,1085.88 L215.66,1085.86 L217.36,1085.84 L219.06,1085.81 L220.77,1085.78 L222.47,1085.76 L224.17,1085.73 L225.87,1085.70 L227.58,1085.67 L229.28,1085.64 L230.98,1085.61 L232.68,1085.57 L234.38,1085.54 L236.09,1085.51 L237.79,1085.47 L239.49,1085.43 L241.19,1085.40 L242.90,1085.36 L244.60,1085.32 L246.30,1085.28 L248.00,1085.23 L249.71,1085.19 L251.41,1085.15 L253.11,1085.10 L254.81,1085.06 L256.52,1085.01 L258.22,1084.96 L259.92,1084.91 L261.62,1084.86 L263.32,1084.81 L265.03,1084.76 L266.73,1084.71 L268.43,1084.66 L270.13,1084.60 L271.84,1084.55 L273.54,1084.49 L275.24,1084.44 L276.94,1084.38 L278.65,1084.32 L280.35,1084.26 L282.05,1084.20 L283.75,1084.14 L285.45,1084.08 L287.16,1084.02 L288.86,1083.95 L290.56,1083.89 L292.26,1083.83 L293.97,1083.76 L295.67,1083.69 L297.37,1083.63 L299.07,1083.56 L300.78,1083.49 L302.48,1083.43 L304.18,1083.36 L305.88,1083.29 L307.59,1083.22 L309.29,1083.15 L310.99,1083.08 L312.69,1083.01 L314.39,1082.94 L316.10,1082.87 L317.80,1082.80 L319.50,1082.72 L321.20,1082.65 L322.91,1082.58 L324.61,1082.51 L326.31,1082.44 L328.01,1082.37 L329.72,1082.29 L331.42,1082.22 L333.12,1082.15 L334.82,1082.08 L336.53,1082.01 L338.23,1081.94 L339.93,1081.87 L341.63,1081.80 L343.33,1081.73 L345.04,1081.66 L346.74,1081.59 L348.44,1081.52 L350.14,1081.46 L351.85,1081.39 L353.55,1081.33 L355.25,1081.26 L356.95,1081.20 L358.66,1081.14 L360.36,1081.08 L362.06,1081.02 L363.76,1080.96 L365.47,1080.90 L367.17,1080.85 L368.87,1080.79 L370.57,1080.74 L372.27,1080.69 L373.98,1080.64 L375.68,1080.59 L377.38,1080.55 L379.08,1080.50 L380.79,1080.46 L382.49,1080.42 L384.19,1080.38 L385.89,1080.35 L387.60,1080.32 L389.30,1080.29 L391.00,1080.26 L392.70,1080.24 L394.41,1080.21 L396.11,1080.20 L397.81,1080.18 L399.51,1080.17 L401.21,1080.16 L402.92,1080.15 L404.62,1080.15 L406.32,1080.15 L408.02,1080.15 L409.73,1080.16 L411.43,1080.17 L413.13,1080.19 L414.83,1080.21 L416.54,1080.23 L418.24,1080.26 L419.94,1080.29 L421.64,1080.33 L423.35,1080.37 L425.05,1080.42 L426.75,1080.47 L428.45,1080.52 L430.15,1080.59 L431.86,1080.65 L433.56,1080.73 L435.26,1080.80 L436.96,1080.89 L438.67,1080.98 L440.37,1081.08 L442.07,1081.18 L443.77,1081.29 L445.48,1081.40 L447.18,1081.53 L448.88,1081.65 L450.58,1081.79 L452.29,1081.94 L453.99,1082.09 L455.69,1082.25 L457.39,1082.41 L459.09,1082.59 L460.80,1082.77 L462.50,1082.97 L464.20,1083.17 L465.90,1083.38 L467.61,1083.60 L469.31,1083.83 L471.01,1084.07 L472.71,1084.32 L474.42,1084.58 L476.12,1084.85 L477.82,1085.13 L479.52,1085.42 L481.23,1085.73 L482.93,1086.04 L484.63,1086.37 L486.33,1086.71 L488.03,1087.07 L489.74,1087.44 L491.44,1087.82 L493.14,1088.22 L494.84,1088.63 L496.55,1089.05 L498.25,1089.50 L499.95,1089.95 L501.65,1090.43 L503.36,1090.92 L505.06,1091.43 L506.76,1091.96 L508.46,1092.51 L510.16,1093.08 L511.87,1093.67 L513.57,1094.28 L515.27,1094.92 L516.97,1095.57 L518.68,1096.25 L520.38,1096.96 L522.08,1097.69 L523.78,1098.44 L525.49,1099.23 L527.19,1100.04 L528.89,1100.89 L530.59,1101.76 L532.30,1102.67 L534.00,1103.61 L535.70,1104.59 L537.40,1105.61 L539.10,1106.66 L540.81,1107.75 L542.51,1108.89 L544.21,1110.07 L545.91,1111.29 L547.62,1112.56 L549.32,1113.88 L551.02,1115.25 L552.72,1116.68 L554.43,1118.15 L556.13,1119.69 L557.83,1121.27 L559.53,1122.92 L561.24,1124.62 L562.94,1126.37 L564.64,1128.17 L566.34,1130.02 L568.04,1131.91 L569.75,1133.82 L571.45,1135.75 L573.15,1137.67 L574.85,1139.59 L576.56,1141.46 L578.26,1143.23 L579.96,1144.86 L581.66,1146.32 L583.37,1147.56 L585.07,1148.54 L586.77,1149.22 L588.47,1149.57 L590.18,1149.57 L591.88,1149.18 L593.58,1148.42 L595.28,1147.27 L596.98,1145.76 L598.69,1143.92 L600.39,1141.78 L602.09,1139.40 L603.79,1136.85 L605.50,1134.18 L607.20,1131.43 L608.90,1128.63 L610.60,1125.81 L612.31,1122.99 L614.01,1120.20 L615.71,1117.45 L617.41,1114.74 L619.12,1112.09 L620.82,1109.49 L622.52,1106.96 L624.22,1104.48 L625.92,1102.06 L627.63,1099.70 L629.33,1097.39 L631.03,1095.14 L632.73,1092.95 L634.44,1090.80 L636.14,1088.70 L637.84,1086.65 L639.54,1084.65 L641.25,1082.69 L642.95,1080.77 L644.65,1078.88 L646.35,1077.01 L648.06,1075.18 L649.76,1073.39 L651.46,1071.62 L653.16,1069.89 L654.86,1068.19 L656.57,1066.52 L658.27,1064.88 L659.97,1063.26 L661.67,1061.67 L663.38,1060.11 L665.08,1058.57 L666.78,1057.05 L668.48,1055.56 L670.19,1054.08 L671.89,1052.63 L673.59,1051.19 L675.29,1049.78 L677.00,1048.38 L678.70,1047.00 L680.40,1045.64 L682.10,1044.29 L683.80,1042.96 L685.51,1041.64 L687.21,1040.34 L688.91,1039.06 L690.61,1037.78 L692.32,1036.52 L694.02,1035.28 L695.72,1034.04 L697.42,1032.82 L699.13,1031.61 L700.83,1030.41 L702.53,1029.22 L704.23,1028.04 L705.94,1026.87 L707.64,1025.71 L709.34,1024.56 L711.04,1023.42 L712.74,1022.29 L714.45,1021.17 L716.15,1020.06 L717.85,1018.94 L719.55,1017.84 L721.26,1016.75 L722.96,1015.66 L724.66,1014.58 L726.36,1013.50 L728.07,1012.44 L729.77,1011.38 L731.47,1010.32 L733.17,1009.28 L734.87,1008.23 L736.58,1007.20 L738.28,1006.17 L739.98,1005.15 L741.68,1004.13 L743.39,1003.12 L745.09,1002.11 L746.79,1001.11 L748.49,1000.11 L750.20,999.11 L751.90,998.13 L753.60,997.14 L755.30,996.16 L757.01,995.19 L758.71,994.22 L760.41,993.25 L762.11,992.29 L763.81,991.33 L765.52,990.37 L767.22,989.42 L768.92,988.47 L770.62,987.53 L772.33,986.59 L774.03,985.65 L775.73,984.72 L777.43,983.78 L779.14,982.86 L780.84,981.93 L782.54,981.01 L784.24,980.09 L785.95,979.17 L787.65,978.26 L789.35,977.34 L791.05,976.43 L792.75,975.53 L794.46,974.62 L796.16,973.72 L797.86,972.82 L799.56,971.92 L801.27,971.03 L802.97,970.14 L804.67,969.24 L806.37,968.35 L808.08,967.47 L809.78,966.58 L811.48,965.70 L813.18,964.82 L814.89,963.94 L816.59,963.06 L818.29,962.18 L819.99,961.31 L821.69,960.44 L823.40,959.59 L825.10,958.75 L826.80,957.91 L828.50,957.07 L830.21,956.23 L831.91,955.39 L833.61,954.56 L835.31,953.72 L837.02,952.89 L838.72,952.06 L840.42,951.23 L842.12,950.40 L843.83,949.57 L845.53,948.75 L847.23,947.92 L848.93,947.09 L850.63,946.27 L852.34,945.45 L854.04,944.63 L855.74,943.81 L857.44,942.99 L859.15,942.17 L860.85,941.35 L862.55,940.53 L864.25,939.71 L865.96,938.90 L867.66,938.08 L869.36,937.27 L871.06,936.46 L872.77,935.64 L874.47,934.83 L876.17,934.02 L877.87,933.21 L879.57,932.40 L881.28,931.59 L882.98,930.78 L884.68,929.97 L886.38,929.16 L888.09,928.36 L889.79,927.55 L891.49,926.74 L893.19,925.94 L894.90,925.13 L896.60,924.33 L898.30,923.52 L900.00,922.72 L901.71,921.92 L903.41,921.11 L905.11,920.31 L906.81,919.51 L908.51,918.71 L910.22,917.90 L911.92,917.10 L913.62,916.30 L915.32,915.50 L917.03,914.70 L918.73,913.90 L920.43,913.10 L922.13,912.30 L923.84,911.50 L925.54,910.70 L927.24,909.90 L928.94,909.10 L930.65,908.30 L932.35,907.50 L934.05,906.70 L935.75,905.90 L937.45,905.10 L939.16,904.30" fill="none" stroke="#232c84" stroke-width="3.80" stroke-linejoin="round" stroke-dasharray="10,5" stroke-linecap="butt"/>
<path d="M173.10,1114.71 L174.80,1114.71 L176.50,1114.71 L178.21,1114.71 L179.91,1114.71 L181.61,1114.71 L183.31,1114.71 L185.02,1114.71 L186.72,1114.72 L188.42,1114.72 L190.12,1114.72 L191.83,1114.73 L193.53,1114.73 L195.23,1114.73 L196.93,1114.74 L198.64,1114.74 L200.34,1114.75 L202.04,1114.75 L203.74,1114.76 L205.44,1114.76 L207.15,1114.77 L208.85,1114.78 L210.55,1114.78 L212.25,1114.79 L213.96,1114.80 L215.66,1114.81 L217.36,1114.82 L219.06,1114.82 L220.77,1114.83 L222.47,1114.84 L224.17,1114.85 L225.87,1114.86 L227.58,1114.88 L229.28,1114.89 L230.98,1114.90 L232.68,1114.91 L234.38,1114.93 L236.09,1114.94 L237.79,1114.95 L239.49,1114.97 L241.19,1114.99 L242.90,1115.00 L244.60,1115.02 L246.30,1115.04 L248.00,1115.05 L249.71,1115.07 L251.41,1115.09 L253.11,1115.11 L254.81,1115.13 L256.52,1115.15 L258.22,1115.18 L259.92,1115.20 L261.62,1115.22 L263.32,1115.25 L265.03,1115.27 L266.73,1115.30 L268.43,1115.33 L270.13,1115.36 L271.84,1115.38 L273.54,1115.41 L275.24,1115.45 L276.94,1115.48 L278.65,1115.51 L280.35,1115.54 L282.05,1115.58 L283.75,1115.61 L285.45,1115.65 L287.16,1115.69 L288.86,1115.73 L290.56,1115.77 L292.26,1115.81 L293.97,1115.86 L295.67,1115.90 L297.37,1115.95 L299.07,1115.99 L300.78,1116.04 L302.48,1116.09 L304.18,1116.14 L305.88,1116.19 L307.59,1116.25 L309.29,1116.30 L310.99,1116.36 L312.69,1116.42 L314.39,1116.48 L316.10,1116.54 L317.80,1116.61 L319.50,1116.67 L321.20,1116.74 L322.91,1116.81 L324.61,1116.88 L326.31,1116.95 L328.01,1117.03 L329.72,1117.10 L331.42,1117.18 L333.12,1117.26 L334.82,1117.35 L336.53,1117.43 L338.23,1117.52 L339.93,1117.61 L341.63,1117.70 L343.33,1117.79 L345.04,1117.89 L346.74,1117.99 L348.44,1118.09 L350.14,1118.19 L351.85,1118.30 L353.55,1118.41 L355.25,1118.52 L356.95,1118.63 L358.66,1118.75 L360.36,1118.87 L362.06,1118.99 L363.76,1119.12 L365.47,1119.25 L367.17,1119.38 L368.87,1119.51 L370.57,1119.65 L372.27,1119.79 L373.98,1119.94 L375.68,1120.08 L377.38,1120.23 L379.08,1120.39 L380.79,1120.55 L382.49,1120.71 L384.19,1120.88 L385.89,1121.05 L387.60,1121.22 L389.30,1121.40 L391.00,1121.58 L392.70,1121.76 L394.41,1121.95 L396.11,1122.15 L397.81,1122.34 L399.51,1122.55 L401.21,1122.75 L402.92,1122.96 L404.62,1123.18 L406.32,1123.40 L408.02,1123.63 L409.73,1123.86 L411.43,1124.09 L413.13,1124.34 L414.83,1124.58 L416.54,1124.83 L418.24,1125.09 L419.94,1125.35 L421.64,1125.62 L423.35,1125.89 L425.05,1126.17 L426.75,1126.46 L428.45,1126.75 L430.15,1127.05 L431.86,1127.35 L433.56,1127.66 L435.26,1127.98 L436.96,1128.30 L438.67,1128.63 L440.37,1128.97 L442.07,1129.31 L443.77,1129.66 L445.48,1130.02 L447.18,1130.38 L448.88,1130.75 L450.58,1131.13 L452.29,1131.51 L453.99,1131.91 L455.69,1132.30 L457.39,1132.71 L459.09,1133.13 L460.80,1133.55 L462.50,1133.98 L464.20,1134.41 L465.90,1134.86 L467.61,1135.31 L469.31,1135.77 L471.01,1136.23 L472.71,1136.70 L474.42,1137.18 L476.12,1137.66 L477.82,1138.16 L479.52,1138.66 L481.23,1139.17 L482.93,1139.69 L484.63,1140.20 L486.33,1140.73 L488.03,1141.25 L489.74,1141.77 L491.44,1142.30 L493.14,1142.83 L494.84,1143.35 L496.55,1143.88 L498.25,1144.40 L499.95,1144.91 L501.65,1145.41 L503.36,1145.91 L505.06,1146.39 L506.76,1146.86 L508.46,1147.32 L510.16,1147.75 L511.87,1148.16 L513.57,1148.55 L515.27,1148.91 L516.97,1149.23 L518.68,1149.52 L520.38,1149.78 L522.08,1149.98 L523.78,1150.14 L525.49,1150.25 L527.19,1150.31 L528.89,1150.31 L530.59,1150.25 L532.30,1150.12 L534.00,1149.93 L535.70,1149.68 L537.40,1149.35 L539.10,1148.95 L540.81,1148.48 L542.51,1147.94 L544.21,1147.34 L545.91,1146.66 L547.62,1145.91 L549.32,1145.10 L551.02,1144.23 L552.72,1143.29 L554.43,1142.30 L556.13,1141.26 L557.83,1140.16 L559.53,1139.02 L561.24,1137.84 L562.94,1136.64 L564.64,1135.40 L566.34,1134.14 L568.04,1132.84 L569.75,1131.52 L571.45,1130.18 L573.15,1128.82 L574.85,1127.44 L576.56,1126.05 L578.26,1124.65 L579.96,1123.24 L581.66,1121.82 L583.37,1120.40 L585.07,1118.97 L586.77,1117.54 L588.47,1116.11 L590.18,1114.68 L591.88,1113.25 L593.58,1111.82 L595.28,1110.40 L596.98,1108.98 L598.69,1107.56 L600.39,1106.14 L602.09,1104.74 L603.79,1103.33 L605.50,1101.94 L607.20,1100.55 L608.90,1099.16 L610.60,1097.78 L612.31,1096.41 L614.01,1095.05 L615.71,1093.69 L617.41,1092.34 L619.12,1091.00 L620.82,1089.66 L622.52,1088.33 L624.22,1087.01 L625.92,1085.70 L627.63,1084.39 L629.33,1083.09 L631.03,1081.80 L632.73,1080.51 L634.44,1079.23 L636.14,1077.94 L637.84,1076.66 L639.54,1075.38 L641.25,1074.11 L642.95,1072.85 L644.65,1071.59 L646.35,1070.34 L648.06,1069.10 L649.76,1067.86 L651.46,1066.63 L653.16,1065.41 L654.86,1064.19 L656.57,1062.98 L658.27,1061.77 L659.97,1060.57 L661.67,1059.37 L663.38,1058.18 L665.08,1057.00 L666.78,1055.82 L668.48,1054.64 L670.19,1053.47 L671.89,1052.31 L673.59,1051.15 L675.29,1050.00 L677.00,1048.85 L678.70,1047.71 L680.40,1046.57 L682.10,1045.43 L683.80,1044.30 L685.51,1043.18 L687.21,1042.06 L688.91,1040.94 L690.61,1039.83 L692.32,1038.72 L694.02,1037.62 L695.72,1036.52 L697.42,1035.42 L699.13,1034.33 L700.83,1033.24 L702.53,1032.16 L704.23,1031.08 L705.94,1030.00 L707.64,1028.93 L709.34,1027.86 L711.04,1026.79 L712.74,1025.73 L714.45,1024.67 L716.15,1023.62 L717.85,1022.57 L719.55,1021.52 L721.26,1020.48 L722.96,1019.43 L724.66,1018.39 L726.36,1017.35 L728.07,1016.31 L729.77,1015.28 L731.47,1014.25 L733.17,1013.22 L734.87,1012.19 L736.58,1011.17 L738.28,1010.15 L739.98,1009.14 L741.68,1008.12 L743.39,1007.11 L745.09,1006.10 L746.79,1005.10 L748.49,1004.10 L750.20,1003.10 L751.90,1002.10 L753.60,1001.11 L755.30,1000.11 L757.01,999.12 L758.71,998.14 L760.41,997.15 L762.11,996.17 L763.81,995.19 L765.52,994.21 L767.22,993.24 L768.92,992.27 L770.62,991.30 L772.33,990.33 L774.03,989.36 L775.73,988.40 L777.43,987.44 L779.14,986.48 L780.84,985.52 L782.54,984.57 L784.24,983.61 L785.95,982.66 L787.65,981.71 L789.35,980.77 L791.05,979.82 L792.75,978.88 L794.46,977.94 L796.16,977.00 L797.86,976.06 L799.56,975.13 L801.27,974.19 L802.97,973.26 L804.67,972.33 L806.37,971.40 L808.08,970.48 L809.78,969.55 L811.48,968.63 L813.18,967.71 L814.89,966.79 L816.59,965.87 L818.29,964.95 L819.99,964.04 L821.69,963.12 L823.40,962.21 L825.10,961.30 L826.80,960.39 L828.50,959.51 L830.21,958.63 L831.91,957.76 L833.61,956.88 L835.31,956.01 L837.02,955.14 L838.72,954.27 L840.42,953.40 L842.12,952.53 L843.83,951.66 L845.53,950.79 L847.23,949.93 L848.93,949.07 L850.63,948.20 L852.34,947.34 L854.04,946.48 L855.74,945.62 L857.44,944.76 L859.15,943.91 L860.85,943.05 L862.55,942.19 L864.25,941.34 L865.96,940.49 L867.66,939.63 L869.36,938.78 L871.06,937.93 L872.77,937.08 L874.47,936.23 L876.17,935.38 L877.87,934.53 L879.57,933.69 L881.28,932.84 L882.98,932.00 L884.68,931.15 L886.38,930.31 L888.09,929.46 L889.79,928.62 L891.49,927.78 L893.19,926.94 L894.90,926.10 L896.60,925.26 L898.30,924.42 L900.00,923.58 L901.71,922.74 L903.41,921.90 L905.11,921.06 L906.81,920.23 L908.51,919.39 L910.22,918.55 L911.92,917.72 L913.62,916.88 L915.32,916.04 L917.03,915.21 L918.73,914.37 L920.43,913.54 L922.13,912.71 L923.84,911.87 L925.54,911.04 L927.24,910.20 L928.94,909.37 L930.65,908.54 L932.35,907.70 L934.05,906.87 L935.75,906.04 L937.45,905.21 L939.16,904.37" fill="none" stroke="#129a45" stroke-width="3.80" stroke-linejoin="round" stroke-dasharray="10,5" stroke-linecap="butt"/>
<path d="M173.10,1130.88 L174.80,1130.88 L176.50,1130.88 L178.21,1130.88 L179.91,1130.87 L181.61,1130.87 L183.31,1130.87 L185.02,1130.86 L186.72,1130.86 L188.42,1130.85 L190.12,1130.85 L191.83,1130.84 L193.53,1130.83 L195.23,1130.83 L196.93,1130.82 L198.64,1130.81 L200.34,1130.80 L202.04,1130.79 L203.74,1130.78 L205.44,1130.77 L207.15,1130.76 L208.85,1130.74 L210.55,1130.73 L212.25,1130.72 L213.96,1130.70 L215.66,1130.69 L217.36,1130.68 L219.06,1130.66 L220.77,1130.64 L222.47,1130.63 L224.17,1130.61 L225.87,1130.59 L227.58,1130.57 L229.28,1130.55 L230.98,1130.54 L232.68,1130.52 L234.38,1130.50 L236.09,1130.47 L237.79,1130.45 L239.49,1130.43 L241.19,1130.41 L242.90,1130.39 L244.60,1130.36 L246.30,1130.34 L248.00,1130.32 L249.71,1130.29 L251.41,1130.27 L253.11,1130.24 L254.81,1130.21 L256.52,1130.19 L258.22,1130.16 L259.92,1130.14 L261.62,1130.11 L263.32,1130.08 L265.03,1130.05 L266.73,1130.02 L268.43,1130.00 L270.13,1129.97 L271.84,1129.94 L273.54,1129.91 L275.24,1129.88 L276.94,1129.85 L278.65,1129.82 L280.35,1129.79 L282.05,1129.76 L283.75,1129.73 L285.45,1129.70 L287.16,1129.66 L288.86,1129.63 L290.56,1129.60 L292.26,1129.57 L293.97,1129.54 L295.67,1129.51 L297.37,1129.47 L299.07,1129.44 L300.78,1129.41 L302.48,1129.38 L304.18,1129.35 L305.88,1129.31 L307.59,1129.28 L309.29,1129.25 L310.99,1129.22 L312.69,1129.19 L314.39,1129.16 L316.10,1129.12 L317.80,1129.09 L319.50,1129.06 L321.20,1129.03 L322.91,1129.00 L324.61,1128.97 L326.31,1128.94 L328.01,1128.91 L329.72,1128.88 L331.42,1128.85 L333.12,1128.82 L334.82,1128.79 L336.53,1128.77 L338.23,1128.74 L339.93,1128.71 L341.63,1128.69 L343.33,1128.66 L345.04,1128.63 L346.74,1128.61 L348.44,1128.59 L350.14,1128.56 L351.85,1128.54 L353.55,1128.52 L355.25,1128.50 L356.95,1128.48 L358.66,1128.46 L360.36,1128.44 L362.06,1128.42 L363.76,1128.40 L365.47,1128.39 L367.17,1128.37 L368.87,1128.36 L370.57,1128.35 L372.27,1128.33 L373.98,1128.32 L375.68,1128.31 L377.38,1128.31 L379.08,1128.30 L380.79,1128.29 L382.49,1128.29 L384.19,1128.29 L385.89,1128.28 L387.60,1128.28 L389.30,1128.29 L391.00,1128.29 L392.70,1128.29 L394.41,1128.30 L396.11,1128.31 L397.81,1128.32 L399.51,1128.33 L401.21,1128.34 L402.92,1128.35 L404.62,1128.37 L406.32,1128.39 L408.02,1128.41 L409.73,1128.43 L411.43,1128.46 L413.13,1128.48 L414.83,1128.51 L416.54,1128.54 L418.24,1128.57 L419.94,1128.61 L421.64,1128.64 L423.35,1128.68 L425.05,1128.72 L426.75,1128.76 L428.45,1128.81 L430.15,1128.86 L431.86,1128.91 L433.56,1128.96 L435.26,1129.01 L436.96,1129.07 L438.67,1129.13 L440.37,1129.19 L442.07,1129.25 L443.77,1129.32 L445.48,1129.38 L447.18,1129.45 L448.88,1129.53 L450.58,1129.60 L452.29,1129.68 L453.99,1129.75 L455.69,1129.83 L457.39,1129.92 L459.09,1130.00 L460.80,1130.08 L462.50,1130.17 L464.20,1130.26 L465.90,1130.35 L467.61,1130.44 L469.31,1130.53 L471.01,1130.62 L472.71,1130.71 L474.42,1130.81 L476.12,1130.90 L477.82,1130.99 L479.52,1131.08 L481.23,1131.17 L482.93,1131.26 L484.63,1131.35 L486.33,1131.44 L488.03,1131.52 L489.74,1131.60 L491.44,1131.68 L493.14,1131.75 L494.84,1131.82 L496.55,1131.89 L498.25,1131.95 L499.95,1132.00 L501.65,1132.04 L503.36,1132.08 L505.06,1132.11 L506.76,1132.13 L508.46,1132.14 L510.16,1132.14 L511.87,1132.13 L513.57,1132.10 L515.27,1132.06 L516.97,1132.00 L518.68,1131.93 L520.38,1131.84 L522.08,1131.74 L523.78,1131.61 L525.49,1131.47 L527.19,1131.30 L528.89,1131.11 L530.59,1130.90 L532.30,1130.66 L534.00,1130.40 L535.70,1130.11 L537.40,1129.80 L539.10,1129.45 L540.81,1129.08 L542.51,1128.68 L544.21,1128.26 L545.91,1127.80 L547.62,1127.31 L549.32,1126.79 L551.02,1126.24 L552.72,1125.65 L554.43,1125.04 L556.13,1124.40 L557.83,1123.73 L559.53,1123.02 L561.24,1122.29 L562.94,1121.53 L564.64,1120.74 L566.34,1119.93 L568.04,1119.08 L569.75,1118.21 L571.45,1117.32 L573.15,1116.40 L574.85,1115.46 L576.56,1114.50 L578.26,1113.52 L579.96,1112.52 L581.66,1111.50 L583.37,1110.46 L585.07,1109.41 L586.77,1108.34 L588.47,1107.25 L590.18,1106.15 L591.88,1105.05 L593.58,1103.92 L595.28,1102.79 L596.98,1101.65 L598.69,1100.50 L600.39,1099.35 L602.09,1098.18 L603.79,1097.01 L605.50,1095.84 L607.20,1094.66 L608.90,1093.47 L610.60,1092.28 L612.31,1091.09 L614.01,1089.90 L615.71,1088.70 L617.41,1087.51 L619.12,1086.31 L620.82,1085.11 L622.52,1083.91 L624.22,1082.71 L625.92,1081.52 L627.63,1080.32 L629.33,1079.12 L631.03,1077.91 L632.73,1076.70 L634.44,1075.49 L636.14,1074.29 L637.84,1073.09 L639.54,1071.89 L641.25,1070.69 L642.95,1069.49 L644.65,1068.30 L646.35,1067.11 L648.06,1065.93 L649.76,1064.74 L651.46,1063.56 L653.16,1062.39 L654.86,1061.22 L656.57,1060.05 L658.27,1058.88 L659.97,1057.72 L661.67,1056.56 L663.38,1055.41 L665.08,1054.26 L666.78,1053.11 L668.48,1051.97 L670.19,1050.83 L671.89,1049.69 L673.59,1048.56 L675.29,1047.43 L677.00,1046.31 L678.70,1045.19 L680.40,1044.07 L682.10,1042.96 L683.80,1041.85 L685.51,1040.75 L687.21,1039.65 L688.91,1038.55 L690.61,1037.46 L692.32,1036.37 L694.02,1035.28 L695.72,1034.20 L697.42,1033.12 L699.13,1032.04 L700.83,1030.97 L702.53,1029.91 L704.23,1028.84 L705.94,1027.78 L707.64,1026.72 L709.34,1025.67 L711.04,1024.62 L712.74,1023.57 L714.45,1022.53 L716.15,1021.49 L717.85,1020.45 L719.55,1019.41 L721.26,1018.38 L722.96,1017.34 L724.66,1016.31 L726.36,1015.29 L728.07,1014.26 L729.77,1013.24 L731.47,1012.23 L733.17,1011.21 L734.87,1010.20 L736.58,1009.19 L738.28,1008.19 L739.98,1007.18 L741.68,1006.19 L743.39,1005.19 L745.09,1004.20 L746.79,1003.20 L748.49,1002.22 L750.20,1001.23 L751.90,1000.25 L753.60,999.27 L755.30,998.29 L757.01,997.31 L758.71,996.34 L760.41,995.37 L762.11,994.40 L763.81,993.44 L765.52,992.48 L767.22,991.52 L768.92,990.56 L770.62,989.60 L772.33,988.65 L774.03,987.70 L775.73,986.75 L777.43,985.81 L779.14,984.86 L780.84,983.92 L782.54,982.98 L784.24,982.04 L785.95,981.11 L787.65,980.17 L789.35,979.24 L791.05,978.31 L792.75,977.39 L794.46,976.46 L796.16,975.54 L797.86,974.62 L799.56,973.70 L801.27,972.78 L802.97,971.86 L804.67,970.95 L806.37,970.04 L808.08,969.13 L809.78,968.22 L811.48,967.31 L813.18,966.41 L814.89,965.50 L816.59,964.60 L818.29,963.70 L819.99,962.80 L821.69,961.90 L823.40,961.01 L825.10,960.12 L826.80,959.26 L828.50,958.40 L830.21,957.54 L831.91,956.68 L833.61,955.82 L835.31,954.96 L837.02,954.10 L838.72,953.25 L840.42,952.40 L842.12,951.54 L843.83,950.69 L845.53,949.84 L847.23,948.99 L848.93,948.15 L850.63,947.30 L852.34,946.46 L854.04,945.61 L855.74,944.77 L857.44,943.93 L859.15,943.09 L860.85,942.25 L862.55,941.41 L864.25,940.57 L865.96,939.73 L867.66,938.90 L869.36,938.06 L871.06,937.23 L872.77,936.39 L874.47,935.56 L876.17,934.73 L877.87,933.90 L879.57,933.07 L881.28,932.24 L882.98,931.41 L884.68,930.58 L886.38,929.75 L888.09,928.93 L889.79,928.10 L891.49,927.28 L893.19,926.45 L894.90,925.63 L896.60,924.80 L898.30,923.98 L900.00,923.16 L901.71,922.34 L903.41,921.51 L905.11,920.69 L906.81,919.87 L908.51,919.05 L910.22,918.23 L911.92,917.41 L913.62,916.59 L915.32,915.78 L917.03,914.96 L918.73,914.14 L920.43,913.32 L922.13,912.50 L923.84,911.69 L925.54,910.87 L927.24,910.05 L928.94,909.24 L930.65,908.42 L932.35,907.60 L934.05,906.79 L935.75,905.97 L937.45,905.16 L939.16,904.34" fill="none" stroke="#ec1c24" stroke-width="3.80" stroke-linejoin="round" stroke-dasharray="10,5" stroke-linecap="butt"/>
<path d="M173.10,1086.18 L174.80,1086.18 L176.50,1086.17 L178.21,1086.17 L179.91,1086.15 L181.61,1086.14 L183.31,1086.12 L185.02,1086.10 L186.72,1086.07 L188.42,1086.04 L190.12,1086.01 L191.83,1085.97 L193.53,1085.93 L195.23,1085.89 L196.93,1085.84 L198.64,1085.79 L200.34,1085.73 L202.04,1085.68 L203.74,1085.61 L205.44,1085.55 L207.15,1085.48 L208.85,1085.41 L210.55,1085.33 L212.25,1085.26 L213.96,1085.17 L215.66,1085.09 L217.36,1085.00 L219.06,1084.91 L220.77,1084.81 L222.47,1084.71 L224.17,1084.61 L225.87,1084.50 L227.58,1084.39 L229.28,1084.28 L230.98,1084.16 L232.68,1084.04 L234.38,1083.92 L236.09,1083.79 L237.79,1083.66 L239.49,1083.53 L241.19,1083.39 L242.90,1083.25 L244.60,1083.11 L246.30,1082.96 L248.00,1082.81 L249.71,1082.66 L251.41,1082.50 L253.11,1082.34 L254.81,1082.18 L256.52,1082.01 L258.22,1081.84 L259.92,1081.67 L261.62,1081.49 L263.32,1081.31 L265.03,1081.13 L266.73,1080.94 L268.43,1080.75 L270.13,1080.56 L271.84,1080.36 L273.54,1080.17 L275.24,1079.96 L276.94,1079.76 L278.65,1079.55 L280.35,1079.34 L282.05,1079.12 L283.75,1078.90 L285.45,1078.68 L287.16,1078.45 L288.86,1078.23 L290.56,1077.99 L292.26,1077.76 L293.97,1077.52 L295.67,1077.28 L297.37,1077.04 L299.07,1076.79 L300.78,1076.54 L302.48,1076.29 L304.18,1076.04 L305.88,1075.78 L307.59,1075.52 L309.29,1075.26 L310.99,1074.99 L312.69,1074.72 L314.39,1074.45 L316.10,1074.18 L317.80,1073.91 L319.50,1073.63 L321.20,1073.35 L322.91,1073.07 L324.61,1072.78 L326.31,1072.50 L328.01,1072.21 L329.72,1071.92 L331.42,1071.62 L333.12,1071.33 L334.82,1071.03 L336.53,1070.73 L338.23,1070.43 L339.93,1070.12 L341.63,1069.82 L343.33,1069.51 L345.04,1069.20 L346.74,1068.89 L348.44,1068.58 L350.14,1068.26 L351.85,1067.95 L353.55,1067.63 L355.25,1067.31 L356.95,1066.99 L358.66,1066.66 L360.36,1066.34 L362.06,1066.01 L363.76,1065.68 L365.47,1065.36 L367.17,1065.03 L368.87,1064.69 L370.57,1064.36 L372.27,1064.03 L373.98,1063.69 L375.68,1063.35 L377.38,1063.02 L379.08,1062.68 L380.79,1062.34 L382.49,1062.00 L384.19,1061.66 L385.89,1061.31 L387.60,1060.97 L389.30,1060.63 L391.00,1060.28 L392.70,1059.93 L394.41,1059.59 L396.11,1059.24 L397.81,1058.89 L399.51,1058.54 L401.21,1058.19 L402.92,1057.84 L404.62,1057.49 L406.32,1057.14 L408.02,1056.79 L409.73,1056.44 L411.43,1056.08 L413.13,1055.73 L414.83,1055.38 L416.54,1055.02 L418.24,1054.67 L419.94,1054.31 L421.64,1053.96 L423.35,1053.60 L425.05,1053.25 L426.75,1052.89 L428.45,1052.54 L430.15,1052.18 L431.86,1051.83 L433.56,1051.47 L435.26,1051.12 L436.96,1050.76 L438.67,1050.40 L440.37,1050.05 L442.07,1049.69 L443.77,1049.34 L445.48,1048.98 L447.18,1048.63 L448.88,1048.27 L450.58,1047.92 L452.29,1047.56 L453.99,1047.21 L455.69,1046.85 L457.39,1046.50 L459.09,1046.14 L460.80,1045.79 L462.50,1045.43 L464.20,1045.08 L465.90,1044.73 L467.61,1044.37 L469.31,1044.02 L471.01,1043.67 L472.71,1043.32 L474.42,1042.96 L476.12,1042.61 L477.82,1042.26 L479.52,1041.91 L481.23,1041.56 L482.93,1041.21 L484.63,1040.86 L486.33,1040.51 L488.03,1040.16 L489.74,1039.81 L491.44,1039.46 L493.14,1039.11 L494.84,1038.76 L496.55,1038.42 L498.25,1038.07 L499.95,1037.72 L501.65,1037.38 L503.36,1037.03 L505.06,1036.68 L506.76,1036.34 L508.46,1035.99 L510.16,1035.64 L511.87,1035.30 L513.57,1034.95 L515.27,1034.61 L516.97,1034.26 L518.68,1033.92 L520.38,1033.57 L522.08,1033.23 L523.78,1032.88 L525.49,1032.54 L527.19,1032.20 L528.89,1031.85 L530.59,1031.51 L532.30,1031.16 L534.00,1030.82 L535.70,1030.47 L537.40,1030.13 L539.10,1029.79 L540.81,1029.44 L542.51,1029.10 L544.21,1028.75 L545.91,1028.41 L547.62,1028.06 L549.32,1027.71 L551.02,1027.37 L552.72,1027.02 L554.43,1026.67 L556.13,1026.33 L557.83,1025.98 L559.53,1025.63 L561.24,1025.28 L562.94,1024.93 L564.64,1024.58 L566.34,1024.23 L568.04,1023.88 L569.75,1023.53 L571.45,1023.17 L573.15,1022.82 L574.85,1022.46 L576.56,1022.11 L578.26,1021.75 L579.96,1021.39 L581.66,1021.03 L583.37,1020.67 L585.07,1020.31 L586.77,1019.95 L588.47,1019.58 L590.18,1019.21 L591.88,1018.85 L593.58,1018.48 L595.28,1018.10 L596.98,1017.73 L598.69,1017.36 L600.39,1016.98 L602.09,1016.60 L603.79,1016.22 L605.50,1015.84 L607.20,1015.46 L608.90,1015.07 L610.60,1014.69 L612.31,1014.30 L614.01,1013.91 L615.71,1013.51 L617.41,1013.12 L619.12,1012.72 L620.82,1012.32 L622.52,1011.92 L624.22,1011.52 L625.92,1011.11 L627.63,1010.70 L629.33,1010.29 L631.03,1009.88 L632.73,1009.46 L634.44,1009.04 L636.14,1008.62 L637.84,1008.20 L639.54,1007.77 L641.25,1007.34 L642.95,1006.91 L644.65,1006.48 L646.35,1006.04 L648.06,1005.60 L649.76,1005.16 L651.46,1004.71 L653.16,1004.27 L654.86,1003.82 L656.57,1003.36 L658.27,1002.90 L659.97,1002.44 L661.67,1001.98 L663.38,1001.52 L665.08,1001.05 L666.78,1000.58 L668.48,1000.10 L670.19,999.62 L671.89,999.14 L673.59,998.66 L675.29,998.17 L677.00,997.68 L678.70,997.19 L680.40,996.70 L682.10,996.20 L683.80,995.70 L685.51,995.19 L687.21,994.68 L688.91,994.17 L690.61,993.66 L692.32,993.14 L694.02,992.62 L695.72,992.10 L697.42,991.58 L699.13,991.05 L700.83,990.52 L702.53,989.99 L704.23,989.45 L705.94,988.91 L707.64,988.37 L709.34,987.82 L711.04,987.28 L712.74,986.73 L714.45,986.17 L716.15,985.62 L717.85,985.06 L719.55,984.50 L721.26,983.94 L722.96,983.37 L724.66,982.80 L726.36,982.23 L728.07,981.66 L729.77,981.09 L731.47,980.51 L733.17,979.93 L734.87,979.35 L736.58,978.76 L738.28,978.18 L739.98,977.59 L741.68,977.00 L743.39,976.41 L745.09,975.81 L746.79,975.22 L748.49,974.62 L750.20,974.02 L751.90,973.42 L753.60,972.81 L755.30,972.21 L757.01,971.60 L758.71,970.99 L760.41,970.38 L762.11,969.77 L763.81,969.15 L765.52,968.54 L767.22,967.92 L768.92,967.30 L770.62,966.68 L772.33,966.06 L774.03,965.44 L775.73,964.81 L777.43,964.19 L779.14,963.56 L780.84,962.93 L782.54,962.31 L784.24,961.67 L785.95,961.04 L787.65,960.41 L789.35,959.80 L791.05,959.18 L792.75,958.57 L794.46,957.95 L796.16,957.33 L797.86,956.72 L799.56,956.10 L801.27,955.48 L802.97,954.86 L804.67,954.23 L806.37,953.61 L808.08,952.99 L809.78,952.37 L811.48,951.74 L813.18,951.12 L814.89,950.49 L816.59,949.86 L818.29,949.24 L819.99,948.61 L821.69,947.98 L823.40,947.35 L825.10,946.72 L826.80,946.09 L828.50,945.46 L830.21,944.83 L831.91,944.20 L833.61,943.57 L835.31,942.94 L837.02,942.31 L838.72,941.67 L840.42,941.04 L842.12,940.41 L843.83,939.77 L845.53,939.14 L847.23,938.50 L848.93,937.87 L850.63,937.23 L852.34,936.60 L854.04,935.96 L855.74,935.33 L857.44,934.69 L859.15,934.05 L860.85,933.42 L862.55,932.78 L864.25,932.14 L865.96,931.50 L867.66,930.87 L869.36,930.23 L871.06,929.59 L872.77,928.95 L874.47,928.31 L876.17,927.67 L877.87,927.04 L879.57,926.40 L881.28,925.76 L882.98,925.12 L884.68,924.48 L886.38,923.84 L888.09,923.20 L889.79,922.56 L891.49,921.92 L893.19,921.28 L894.90,920.64 L896.60,920.00 L898.30,919.36 L900.00,918.72 L901.71,918.08 L903.41,917.44 L905.11,916.80 L906.81,916.16 L908.51,915.52 L910.22,914.88 L911.92,914.24 L913.62,913.60 L915.32,912.96 L917.03,912.32 L918.73,911.68 L920.43,911.04 L922.13,910.40 L923.84,909.76 L925.54,909.11 L927.24,908.47 L928.94,907.83 L930.65,907.19 L932.35,906.55 L934.05,905.91 L935.75,905.27 L937.45,904.63 L939.16,903.99" fill="none" stroke="#232c84" stroke-width="3.80" stroke-linejoin="round" stroke-linecap="round"/>
<path d="M173.10,1114.71 L174.80,1114.71 L176.50,1114.70 L178.21,1114.70 L179.91,1114.69 L181.61,1114.68 L183.31,1114.67 L185.02,1114.65 L186.72,1114.64 L188.42,1114.62 L190.12,1114.60 L191.83,1114.57 L193.53,1114.55 L195.23,1114.52 L196.93,1114.49 L198.64,1114.46 L200.34,1114.43 L202.04,1114.39 L203.74,1114.35 L205.44,1114.31 L207.15,1114.27 L208.85,1114.22 L210.55,1114.18 L212.25,1114.13 L213.96,1114.07 L215.66,1114.02 L217.36,1113.96 L219.06,1113.91 L220.77,1113.85 L222.47,1113.78 L224.17,1113.72 L225.87,1113.65 L227.58,1113.58 L229.28,1113.51 L230.98,1113.44 L232.68,1113.36 L234.38,1113.29 L236.09,1113.21 L237.79,1113.12 L239.49,1113.04 L241.19,1112.95 L242.90,1112.86 L244.60,1112.77 L246.30,1112.68 L248.00,1112.59 L249.71,1112.49 L251.41,1112.39 L253.11,1112.29 L254.81,1112.18 L256.52,1112.08 L258.22,1111.97 L259.92,1111.86 L261.62,1111.75 L263.32,1111.63 L265.03,1111.52 L266.73,1111.40 L268.43,1111.28 L270.13,1111.15 L271.84,1111.03 L273.54,1110.90 L275.24,1110.77 L276.94,1110.64 L278.65,1110.50 L280.35,1110.37 L282.05,1110.23 L283.75,1110.09 L285.45,1109.95 L287.16,1109.80 L288.86,1109.65 L290.56,1109.51 L292.26,1109.35 L293.97,1109.20 L295.67,1109.04 L297.37,1108.89 L299.07,1108.73 L300.78,1108.56 L302.48,1108.40 L304.18,1108.23 L305.88,1108.06 L307.59,1107.89 L309.29,1107.72 L310.99,1107.54 L312.69,1107.37 L314.39,1107.19 L316.10,1107.00 L317.80,1106.82 L319.50,1106.63 L321.20,1106.44 L322.91,1106.25 L324.61,1106.06 L326.31,1105.86 L328.01,1105.66 L329.72,1105.46 L331.42,1105.26 L333.12,1105.06 L334.82,1104.85 L336.53,1104.64 L338.23,1104.43 L339.93,1104.21 L341.63,1104.00 L343.33,1103.78 L345.04,1103.56 L346.74,1103.33 L348.44,1103.11 L350.14,1102.88 L351.85,1102.65 L353.55,1102.41 L355.25,1102.18 L356.95,1101.94 L358.66,1101.70 L360.36,1101.46 L362.06,1101.21 L363.76,1100.96 L365.47,1100.71 L367.17,1100.46 L368.87,1100.20 L370.57,1099.94 L372.27,1099.68 L373.98,1099.42 L375.68,1099.15 L377.38,1098.88 L379.08,1098.61 L380.79,1098.34 L382.49,1098.06 L384.19,1097.78 L385.89,1097.50 L387.60,1097.22 L389.30,1096.93 L391.00,1096.64 L392.70,1096.35 L394.41,1096.05 L396.11,1095.75 L397.81,1095.45 L399.51,1095.15 L401.21,1094.84 L402.92,1094.53 L404.62,1094.22 L406.32,1093.90 L408.02,1093.59 L409.73,1093.27 L411.43,1092.94 L413.13,1092.61 L414.83,1092.28 L416.54,1091.95 L418.24,1091.62 L419.94,1091.28 L421.64,1090.94 L423.35,1090.59 L425.05,1090.24 L426.75,1089.89 L428.45,1089.54 L430.15,1089.18 L431.86,1088.82 L433.56,1088.46 L435.26,1088.09 L436.96,1087.72 L438.67,1087.35 L440.37,1086.97 L442.07,1086.59 L443.77,1086.21 L445.48,1085.83 L447.18,1085.44 L448.88,1085.05 L450.58,1084.65 L452.29,1084.26 L453.99,1083.85 L455.69,1083.45 L457.39,1083.04 L459.09,1082.63 L460.80,1082.22 L462.50,1081.80 L464.20,1081.38 L465.90,1080.96 L467.61,1080.53 L469.31,1080.10 L471.01,1079.67 L472.71,1079.23 L474.42,1078.78 L476.12,1078.33 L477.82,1077.88 L479.52,1077.43 L481.23,1076.97 L482.93,1076.51 L484.63,1076.04 L486.33,1075.57 L488.03,1075.10 L489.74,1074.63 L491.44,1074.15 L493.14,1073.67 L494.84,1073.18 L496.55,1072.70 L498.25,1072.21 L499.95,1071.71 L501.65,1071.21 L503.36,1070.72 L505.06,1070.21 L506.76,1069.71 L508.46,1069.20 L510.16,1068.68 L511.87,1068.17 L513.57,1067.65 L515.27,1067.13 L516.97,1066.61 L518.68,1066.08 L520.38,1065.55 L522.08,1065.02 L523.78,1064.48 L525.49,1063.94 L527.19,1063.40 L528.89,1062.86 L530.59,1062.31 L532.30,1061.76 L534.00,1061.21 L535.70,1060.65 L537.40,1060.10 L539.10,1059.54 L540.81,1058.97 L542.51,1058.41 L544.21,1057.84 L545.91,1057.27 L547.62,1056.70 L549.32,1056.12 L551.02,1055.55 L552.72,1054.97 L554.43,1054.38 L556.13,1053.80 L557.83,1053.21 L559.53,1052.62 L561.24,1052.03 L562.94,1051.44 L564.64,1050.84 L566.34,1050.25 L568.04,1049.65 L569.75,1049.04 L571.45,1048.44 L573.15,1047.83 L574.85,1047.23 L576.56,1046.62 L578.26,1046.00 L579.96,1045.39 L581.66,1044.78 L583.37,1044.16 L585.07,1043.54 L586.77,1042.92 L588.47,1042.30 L590.18,1041.67 L591.88,1041.05 L593.58,1040.42 L595.28,1039.79 L596.98,1039.16 L598.69,1038.53 L600.39,1037.89 L602.09,1037.26 L603.79,1036.62 L605.50,1035.99 L607.20,1035.35 L608.90,1034.71 L610.60,1034.06 L612.31,1033.42 L614.01,1032.78 L615.71,1032.13 L617.41,1031.48 L619.12,1030.84 L620.82,1030.19 L622.52,1029.54 L624.22,1028.88 L625.92,1028.23 L627.63,1027.58 L629.33,1026.92 L631.03,1026.27 L632.73,1025.61 L634.44,1024.95 L636.14,1024.30 L637.84,1023.64 L639.54,1022.98 L641.25,1022.32 L642.95,1021.65 L644.65,1020.99 L646.35,1020.33 L648.06,1019.66 L649.76,1018.99 L651.46,1018.32 L653.16,1017.65 L654.86,1016.98 L656.57,1016.31 L658.27,1015.64 L659.97,1014.97 L661.67,1014.29 L663.38,1013.62 L665.08,1012.94 L666.78,1012.27 L668.48,1011.59 L670.19,1010.92 L671.89,1010.24 L673.59,1009.56 L675.29,1008.88 L677.00,1008.21 L678.70,1007.53 L680.40,1006.85 L682.10,1006.17 L683.80,1005.49 L685.51,1004.81 L687.21,1004.13 L688.91,1003.44 L690.61,1002.76 L692.32,1002.08 L694.02,1001.40 L695.72,1000.71 L697.42,1000.03 L699.13,999.35 L700.83,998.66 L702.53,997.98 L704.23,997.29 L705.94,996.61 L707.64,995.92 L709.34,995.24 L711.04,994.55 L712.74,993.87 L714.45,993.18 L716.15,992.50 L717.85,991.81 L719.55,991.12 L721.26,990.43 L722.96,989.75 L724.66,989.06 L726.36,988.37 L728.07,987.68 L729.77,987.00 L731.47,986.31 L733.17,985.62 L734.87,984.93 L736.58,984.24 L738.28,983.56 L739.98,982.87 L741.68,982.18 L743.39,981.49 L745.09,980.80 L746.79,980.11 L748.49,979.42 L750.20,978.73 L751.90,978.04 L753.60,977.35 L755.30,976.66 L757.01,975.97 L758.71,975.28 L760.41,974.59 L762.11,973.90 L763.81,973.21 L765.52,972.52 L767.22,971.83 L768.92,971.14 L770.62,970.45 L772.33,969.76 L774.03,969.07 L775.73,968.38 L777.43,967.69 L779.14,967.00 L780.84,966.31 L782.54,965.62 L784.24,964.93 L785.95,964.24 L787.65,963.55 L789.35,962.86 L791.05,962.17 L792.75,961.48 L794.46,960.79 L796.16,960.11 L797.86,959.44 L799.56,958.77 L801.27,958.10 L802.97,957.43 L804.67,956.76 L806.37,956.09 L808.08,955.43 L809.78,954.76 L811.48,954.09 L813.18,953.42 L814.89,952.75 L816.59,952.08 L818.29,951.42 L819.99,950.75 L821.69,950.08 L823.40,949.41 L825.10,948.74 L826.80,948.07 L828.50,947.41 L830.21,946.74 L831.91,946.07 L833.61,945.40 L835.31,944.73 L837.02,944.07 L838.72,943.40 L840.42,942.73 L842.12,942.06 L843.83,941.39 L845.53,940.73 L847.23,940.06 L848.93,939.39 L850.63,938.72 L852.34,938.05 L854.04,937.39 L855.74,936.72 L857.44,936.05 L859.15,935.38 L860.85,934.72 L862.55,934.05 L864.25,933.38 L865.96,932.71 L867.66,932.05 L869.36,931.38 L871.06,930.71 L872.77,930.04 L874.47,929.38 L876.17,928.71 L877.87,928.04 L879.57,927.37 L881.28,926.71 L882.98,926.04 L884.68,925.37 L886.38,924.71 L888.09,924.04 L889.79,923.37 L891.49,922.71 L893.19,922.04 L894.90,921.37 L896.60,920.70 L898.30,920.04 L900.00,919.37 L901.71,918.70 L903.41,918.04 L905.11,917.37 L906.81,916.70 L908.51,916.04 L910.22,915.37 L911.92,914.70 L913.62,914.04 L915.32,913.37 L917.03,912.70 L918.73,912.04 L920.43,911.37 L922.13,910.70 L923.84,910.04 L925.54,909.37 L927.24,908.70 L928.94,908.04 L930.65,907.37 L932.35,906.70 L934.05,906.04 L935.75,905.37 L937.45,904.71 L939.16,904.04" fill="none" stroke="#129a45" stroke-width="3.80" stroke-linejoin="round" stroke-linecap="round"/>
<path d="M173.10,1130.88 L174.80,1130.88 L176.50,1130.87 L178.21,1130.86 L179.91,1130.85 L181.61,1130.83 L183.31,1130.81 L185.02,1130.79 L186.72,1130.77 L188.42,1130.74 L190.12,1130.70 L191.83,1130.67 L193.53,1130.63 L195.23,1130.58 L196.93,1130.53 L198.64,1130.48 L200.34,1130.43 L202.04,1130.37 L203.74,1130.31 L205.44,1130.24 L207.15,1130.18 L208.85,1130.10 L210.55,1130.03 L212.25,1129.95 L213.96,1129.87 L215.66,1129.78 L217.36,1129.69 L219.06,1129.60 L220.77,1129.50 L222.47,1129.40 L224.17,1129.30 L225.87,1129.19 L227.58,1129.08 L229.28,1128.97 L230.98,1128.85 L232.68,1128.73 L234.38,1128.60 L236.09,1128.48 L237.79,1128.35 L239.49,1128.21 L241.19,1128.07 L242.90,1127.93 L244.60,1127.79 L246.30,1127.64 L248.00,1127.48 L249.71,1127.33 L251.41,1127.17 L253.11,1127.01 L254.81,1126.84 L256.52,1126.67 L258.22,1126.50 L259.92,1126.32 L261.62,1126.14 L263.32,1125.96 L265.03,1125.77 L266.73,1125.58 L268.43,1125.39 L270.13,1125.19 L271.84,1124.99 L273.54,1124.79 L275.24,1124.58 L276.94,1124.37 L278.65,1124.15 L280.35,1123.94 L282.05,1123.72 L283.75,1123.49 L285.45,1123.26 L287.16,1123.03 L288.86,1122.80 L290.56,1122.56 L292.26,1122.32 L293.97,1122.08 L295.67,1121.83 L297.37,1121.58 L299.07,1121.32 L300.78,1121.06 L302.48,1120.80 L304.18,1120.54 L305.88,1120.27 L307.59,1120.00 L309.29,1119.72 L310.99,1119.45 L312.69,1119.17 L314.39,1118.88 L316.10,1118.59 L317.80,1118.30 L319.50,1118.01 L321.20,1117.71 L322.91,1117.41 L324.61,1117.11 L326.31,1116.80 L328.01,1116.49 L329.72,1116.18 L331.42,1115.86 L333.12,1115.54 L334.82,1115.22 L336.53,1114.89 L338.23,1114.56 L339.93,1114.23 L341.63,1113.90 L343.33,1113.56 L345.04,1113.22 L346.74,1112.87 L348.44,1112.52 L350.14,1112.17 L351.85,1111.82 L353.55,1111.46 L355.25,1111.10 L356.95,1110.74 L358.66,1110.37 L360.36,1110.01 L362.06,1109.63 L363.76,1109.26 L365.47,1108.88 L367.17,1108.50 L368.87,1108.12 L370.57,1107.73 L372.27,1107.34 L373.98,1106.95 L375.68,1106.56 L377.38,1106.16 L379.08,1105.76 L380.79,1105.35 L382.49,1104.95 L384.19,1104.54 L385.89,1104.13 L387.60,1103.71 L389.30,1103.30 L391.00,1102.88 L392.70,1102.45 L394.41,1102.03 L396.11,1101.60 L397.81,1101.17 L399.51,1100.74 L401.21,1100.30 L402.92,1099.86 L404.62,1099.42 L406.32,1098.98 L408.02,1098.53 L409.73,1098.08 L411.43,1097.63 L413.13,1097.18 L414.83,1096.72 L416.54,1096.27 L418.24,1095.81 L419.94,1095.34 L421.64,1094.88 L423.35,1094.41 L425.05,1093.94 L426.75,1093.46 L428.45,1092.99 L430.15,1092.51 L431.86,1092.03 L433.56,1091.55 L435.26,1091.07 L436.96,1090.58 L438.67,1090.09 L440.37,1089.60 L442.07,1089.11 L443.77,1088.61 L445.48,1088.11 L447.18,1087.61 L448.88,1087.11 L450.58,1086.61 L452.29,1086.10 L453.99,1085.59 L455.69,1085.08 L457.39,1084.57 L459.09,1084.06 L460.80,1083.54 L462.50,1083.02 L464.20,1082.50 L465.90,1081.98 L467.61,1081.46 L469.31,1080.93 L471.01,1080.40 L472.71,1079.87 L474.42,1079.34 L476.12,1078.80 L477.82,1078.26 L479.52,1077.71 L481.23,1077.17 L482.93,1076.62 L484.63,1076.07 L486.33,1075.52 L488.03,1074.96 L489.74,1074.41 L491.44,1073.85 L493.14,1073.29 L494.84,1072.73 L496.55,1072.17 L498.25,1071.61 L499.95,1071.04 L501.65,1070.48 L503.36,1069.91 L505.06,1069.34 L506.76,1068.77 L508.46,1068.19 L510.16,1067.62 L511.87,1067.04 L513.57,1066.46 L515.27,1065.89 L516.97,1065.30 L518.68,1064.72 L520.38,1064.14 L522.08,1063.55 L523.78,1062.97 L525.49,1062.38 L527.19,1061.79 L528.89,1061.20 L530.59,1060.61 L532.30,1060.02 L534.00,1059.42 L535.70,1058.82 L537.40,1058.23 L539.10,1057.63 L540.81,1057.03 L542.51,1056.43 L544.21,1055.83 L545.91,1055.22 L547.62,1054.62 L549.32,1054.01 L551.02,1053.41 L552.72,1052.80 L554.43,1052.19 L556.13,1051.58 L557.83,1050.97 L559.53,1050.35 L561.24,1049.74 L562.94,1049.12 L564.64,1048.51 L566.34,1047.89 L568.04,1047.27 L569.75,1046.65 L571.45,1046.03 L573.15,1045.41 L574.85,1044.79 L576.56,1044.17 L578.26,1043.54 L579.96,1042.92 L581.66,1042.29 L583.37,1041.67 L585.07,1041.04 L586.77,1040.41 L588.47,1039.78 L590.18,1039.15 L591.88,1038.52 L593.58,1037.88 L595.28,1037.25 L596.98,1036.62 L598.69,1035.98 L600.39,1035.35 L602.09,1034.71 L603.79,1034.07 L605.50,1033.43 L607.20,1032.79 L608.90,1032.16 L610.60,1031.51 L612.31,1030.87 L614.01,1030.23 L615.71,1029.59 L617.41,1028.95 L619.12,1028.30 L620.82,1027.66 L622.52,1027.01 L624.22,1026.36 L625.92,1025.72 L627.63,1025.07 L629.33,1024.42 L631.03,1023.77 L632.73,1023.12 L634.44,1022.47 L636.14,1021.82 L637.84,1021.17 L639.54,1020.52 L641.25,1019.87 L642.95,1019.21 L644.65,1018.55 L646.35,1017.90 L648.06,1017.24 L649.76,1016.58 L651.46,1015.92 L653.16,1015.26 L654.86,1014.60 L656.57,1013.94 L658.27,1013.28 L659.97,1012.62 L661.67,1011.96 L663.38,1011.30 L665.08,1010.63 L666.78,1009.97 L668.48,1009.31 L670.19,1008.64 L671.89,1007.98 L673.59,1007.31 L675.29,1006.65 L677.00,1005.98 L678.70,1005.32 L680.40,1004.65 L682.10,1003.98 L683.80,1003.32 L685.51,1002.65 L687.21,1001.98 L688.91,1001.31 L690.61,1000.64 L692.32,999.97 L694.02,999.31 L695.72,998.64 L697.42,997.97 L699.13,997.30 L700.83,996.63 L702.53,995.96 L704.23,995.28 L705.94,994.61 L707.64,993.94 L709.34,993.27 L711.04,992.60 L712.74,991.93 L714.45,991.25 L716.15,990.58 L717.85,989.91 L719.55,989.24 L721.26,988.56 L722.96,987.89 L724.66,987.22 L726.36,986.54 L728.07,985.87 L729.77,985.20 L731.47,984.52 L733.17,983.85 L734.87,983.17 L736.58,982.50 L738.28,981.82 L739.98,981.15 L741.68,980.47 L743.39,979.80 L745.09,979.12 L746.79,978.45 L748.49,977.77 L750.20,977.10 L751.90,976.42 L753.60,975.74 L755.30,975.07 L757.01,974.39 L758.71,973.72 L760.41,973.04 L762.11,972.37 L763.81,971.69 L765.52,971.01 L767.22,970.34 L768.92,969.66 L770.62,968.98 L772.33,968.31 L774.03,967.63 L775.73,966.95 L777.43,966.28 L779.14,965.60 L780.84,964.93 L782.54,964.25 L784.24,963.57 L785.95,962.90 L787.65,962.22 L789.35,961.54 L791.05,960.87 L792.75,960.20 L794.46,959.54 L796.16,958.89 L797.86,958.23 L799.56,957.58 L801.27,956.92 L802.97,956.27 L804.67,955.61 L806.37,954.96 L808.08,954.30 L809.78,953.65 L811.48,952.99 L813.18,952.34 L814.89,951.68 L816.59,951.03 L818.29,950.37 L819.99,949.72 L821.69,949.06 L823.40,948.41 L825.10,947.75 L826.80,947.10 L828.50,946.45 L830.21,945.79 L831.91,945.14 L833.61,944.48 L835.31,943.83 L837.02,943.17 L838.72,942.52 L840.42,941.87 L842.12,941.21 L843.83,940.56 L845.53,939.90 L847.23,939.25 L848.93,938.60 L850.63,937.94 L852.34,937.29 L854.04,936.63 L855.74,935.98 L857.44,935.33 L859.15,934.67 L860.85,934.02 L862.55,933.37 L864.25,932.71 L865.96,932.06 L867.66,931.41 L869.36,930.75 L871.06,930.10 L872.77,929.45 L874.47,928.79 L876.17,928.14 L877.87,927.49 L879.57,926.84 L881.28,926.18 L882.98,925.53 L884.68,924.88 L886.38,924.23 L888.09,923.57 L889.79,922.92 L891.49,922.27 L893.19,921.61 L894.90,920.96 L896.60,920.31 L898.30,919.66 L900.00,919.01 L901.71,918.35 L903.41,917.70 L905.11,917.05 L906.81,916.40 L908.51,915.74 L910.22,915.09 L911.92,914.44 L913.62,913.79 L915.32,913.14 L917.03,912.48 L918.73,911.83 L920.43,911.18 L922.13,910.53 L923.84,909.88 L925.54,909.22 L927.24,908.57 L928.94,907.92 L930.65,907.27 L932.35,906.62 L934.05,905.96 L935.75,905.31 L937.45,904.66 L939.16,904.01" fill="none" stroke="#ec1c24" stroke-width="3.80" stroke-linejoin="round" stroke-linecap="round"/>
<circle cx="941.5" cy="901.4" r="2.0" fill="#111"/>
<path d="M216.90,1098.10 L234.20,961.50 L281.80,961.50" fill="none" stroke="#fff" stroke-width="5.00" stroke-linejoin="round" />
<line x1="216.90" y1="1098.10" x2="234.20" y2="961.50" stroke="#3c3c3c" stroke-width="2.00" stroke-linecap="round"/>
<line x1="234.20" y1="961.50" x2="281.80" y2="961.50" stroke="#6c6c6c" stroke-width="2.60" stroke-linecap="round"/>
<path d="M246.20,1068.80 L254.90,998.60 L284.20,998.60" fill="none" stroke="#fff" stroke-width="5.00" stroke-linejoin="round" />
<line x1="246.20" y1="1068.80" x2="254.90" y2="998.60" stroke="#3c3c3c" stroke-width="2.00" stroke-linecap="round"/>
<line x1="254.90" y1="998.60" x2="284.20" y2="998.60" stroke="#6c6c6c" stroke-width="2.60" stroke-linecap="round"/>
<path d="M196.40,1141.00 L210.30,1166.20 L248.10,1166.20" fill="none" stroke="#fff" stroke-width="5.00" stroke-linejoin="round" />
<line x1="196.40" y1="1141.00" x2="210.30" y2="1166.20" stroke="#3c3c3c" stroke-width="2.00" stroke-linecap="round"/>
<line x1="210.30" y1="1166.20" x2="248.10" y2="1166.20" stroke="#6c6c6c" stroke-width="2.60" stroke-linecap="round"/>
<path d="M253.57,1076.99 L253.20,1076.19 L252.79,1075.43 L252.34,1074.72 L251.86,1074.05 L251.34,1073.43 L250.80,1072.87 L250.23,1072.36 L249.64,1071.92 L249.03,1071.54 L248.40,1071.22 L247.75,1070.96 L247.10,1070.77 L246.44,1070.65 L245.77,1070.60 L245.10,1070.62 L244.44,1070.70 L243.78,1070.86 L243.13,1071.08 L242.49,1071.37 L241.87,1071.72 L241.27,1072.13 L240.68,1072.61 L240.13,1073.14 L239.60,1073.73 L239.10,1074.37 L238.64,1075.07 L238.21,1075.80 L237.81,1076.58 L237.46,1077.40 L237.15,1078.26 L236.88,1079.14 L236.65,1080.05 L236.47,1080.98 L236.33,1081.92 L236.24,1082.88 L236.20,1083.84 L236.21,1084.81 L236.26,1085.77 L236.36,1086.73 L236.51,1087.67 L236.70,1088.59 L236.94,1089.50 L237.22,1090.37 L237.55,1091.22 L237.91,1092.02 L238.31,1092.79 L238.75,1093.52 L239.23,1094.20 L239.74,1094.83 L240.27,1095.40 L240.84,1095.92 L241.42,1096.38 L242.03,1096.78 L242.66,1097.12 L243.30,1097.39 L243.95,1097.59 L244.61,1097.72 L245.28,1097.79 L245.94,1097.79 L246.61,1097.72 L247.27,1097.58 L247.92,1097.38 L248.56,1097.11 L249.19,1096.77 L249.80,1096.37 L250.38,1095.91 L250.94,1095.39 L251.48,1094.81 L251.99,1094.18 L252.46,1093.50 L252.90,1092.77 L253.30,1092.00" fill="none" stroke="#111" stroke-width="4.60" stroke-linejoin="round" stroke-linecap="round"/>
<path d="M223.04,1105.26 L222.69,1104.62 L222.32,1104.02 L221.92,1103.45 L221.49,1102.93 L221.03,1102.45 L220.55,1102.01 L220.05,1101.63 L219.54,1101.29 L219.00,1101.00 L218.46,1100.77 L217.90,1100.60 L217.34,1100.48 L216.77,1100.41 L216.20,1100.40 L215.64,1100.45 L215.07,1100.55 L214.51,1100.71 L213.96,1100.93 L213.43,1101.20 L212.91,1101.52 L212.40,1101.89 L211.92,1102.31 L211.45,1102.77 L211.02,1103.28 L210.60,1103.84 L210.22,1104.43 L209.87,1105.06 L209.55,1105.72 L209.26,1106.41 L209.01,1107.13 L208.80,1107.88 L208.62,1108.64 L208.48,1109.41 L208.38,1110.20 L208.32,1111.00 L208.30,1111.80 L208.32,1112.60 L208.38,1113.40 L208.48,1114.19 L208.62,1114.96 L208.80,1115.72 L209.01,1116.47 L209.26,1117.19 L209.55,1117.88 L209.87,1118.54 L210.22,1119.17 L210.60,1119.76 L211.02,1120.32 L211.45,1120.83 L211.92,1121.29 L212.40,1121.71 L212.91,1122.08 L213.43,1122.40 L213.96,1122.67 L214.51,1122.89 L215.07,1123.05 L215.64,1123.15 L216.20,1123.20 L216.77,1123.19 L217.34,1123.12 L217.90,1123.00 L218.46,1122.83 L219.00,1122.60 L219.54,1122.31 L220.05,1121.97 L220.55,1121.59 L221.03,1121.15 L221.49,1120.67 L221.92,1120.15 L222.32,1119.58 L222.69,1118.98 L223.04,1118.34" fill="none" stroke="#111" stroke-width="4.60" stroke-linejoin="round" stroke-linecap="round"/>
<path d="M197.73,1123.56 L197.40,1123.00 L197.05,1122.47 L196.68,1121.98 L196.27,1121.52 L195.84,1121.09 L195.40,1120.71 L194.93,1120.37 L194.44,1120.08 L193.94,1119.83 L193.43,1119.63 L192.91,1119.47 L192.38,1119.37 L191.85,1119.31 L191.32,1119.30 L190.78,1119.34 L190.25,1119.44 L189.73,1119.58 L189.21,1119.76 L188.71,1120.00 L188.22,1120.28 L187.75,1120.60 L187.29,1120.97 L186.86,1121.38 L186.45,1121.83 L186.06,1122.32 L185.70,1122.84 L185.37,1123.39 L185.07,1123.97 L184.80,1124.58 L184.57,1125.21 L184.36,1125.86 L184.20,1126.52 L184.07,1127.21 L183.97,1127.90 L183.92,1128.60 L183.90,1129.30 L183.92,1130.00 L183.97,1130.70 L184.07,1131.39 L184.20,1132.08 L184.36,1132.74 L184.57,1133.39 L184.80,1134.02 L185.07,1134.63 L185.37,1135.21 L185.70,1135.76 L186.06,1136.28 L186.45,1136.77 L186.86,1137.22 L187.29,1137.63 L187.75,1138.00 L188.22,1138.32 L188.71,1138.60 L189.21,1138.84 L189.73,1139.02 L190.25,1139.16 L190.78,1139.26 L191.32,1139.30 L191.85,1139.29 L192.38,1139.23 L192.91,1139.13 L193.43,1138.97 L193.94,1138.77 L194.44,1138.52 L194.93,1138.23 L195.40,1137.89 L195.84,1137.51 L196.27,1137.08 L196.68,1136.62 L197.05,1136.13 L197.40,1135.60 L197.73,1135.04" fill="none" stroke="#111" stroke-width="4.60" stroke-linejoin="round" stroke-linecap="round"/>
<text x="288.89" y="971.25" font-size="29.50" font-weight="bold" textLength="135.97" lengthAdjust="spacingAndGlyphs" fill="#111">Cubic profile</text>
<text x="290.80" y="1005.90" font-size="29.50" font-weight="bold" textLength="141.86" lengthAdjust="spacingAndGlyphs" fill="#111">Linear profile</text>
<text x="255.78" y="1174.70" font-size="29.50" font-weight="bold" textLength="151.78" lengthAdjust="spacingAndGlyphs" fill="#111">Quintic profile</text>
</svg></body></html>
